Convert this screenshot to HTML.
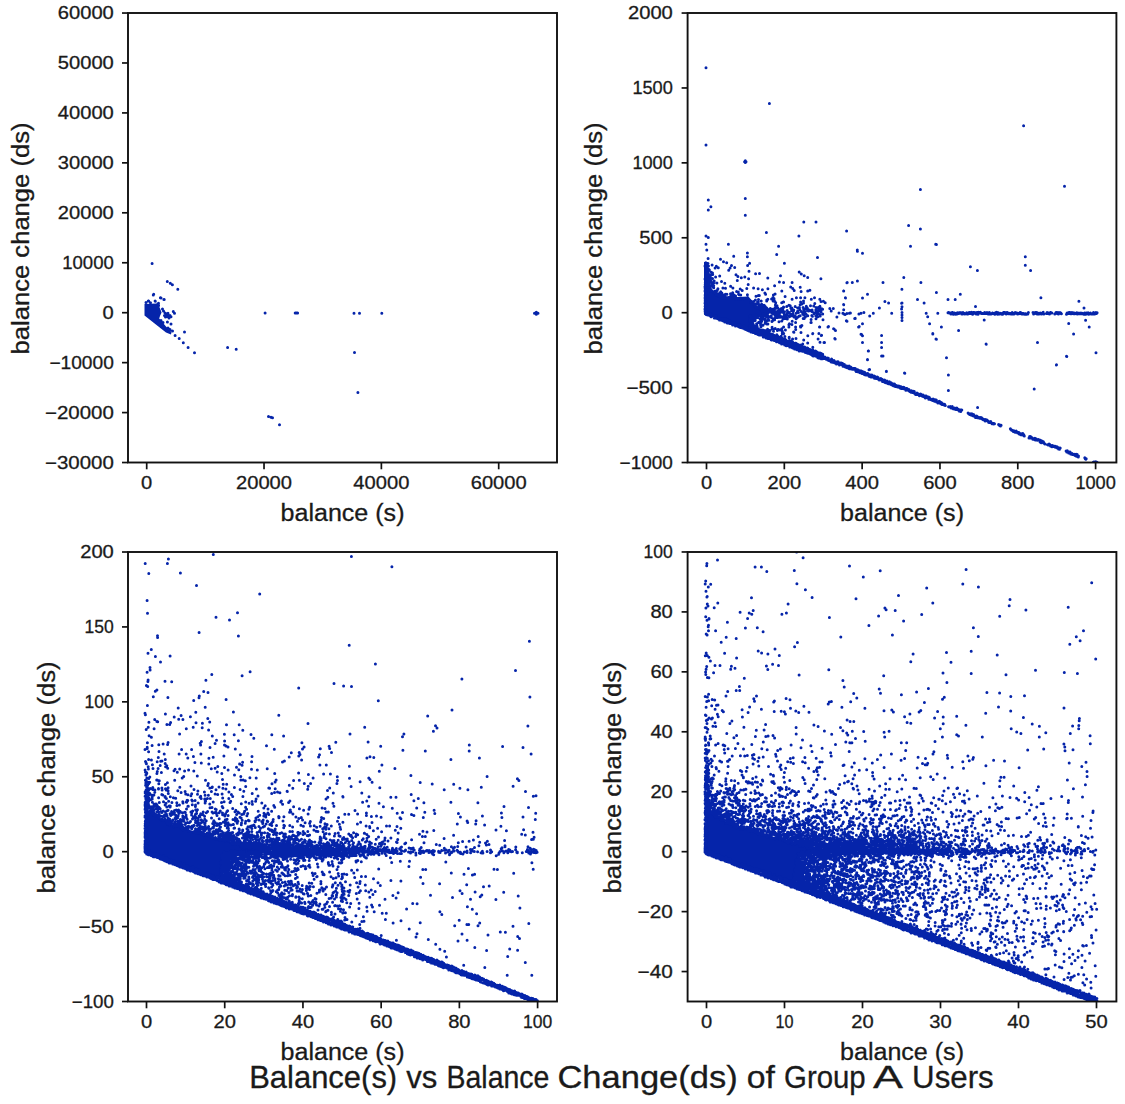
<!DOCTYPE html>
<html><head><meta charset="utf-8"><style>
html,body{margin:0;padding:0;background:#fff;width:1125px;height:1104px;overflow:hidden}
svg{display:block}
text{font-family:"Liberation Sans",sans-serif;fill:#1a1a1a;stroke:#1a1a1a;stroke-width:0.3px}
.tl{font-size:18px}
.al{font-size:23.5px}
.ti{font-size:30.5px}
.tk{stroke:#111;stroke-width:1.7}
.ax{fill:none;stroke:#111;stroke-width:1.9}
.sc{fill:none;stroke:#0524aa;stroke-width:3.0;stroke-linecap:round}
.sp{fill:#0524aa;stroke:none}
</style></head><body>
<svg width="1125" height="1104" viewBox="0 0 1125 1104">
<clipPath id="cTL"><rect x="128.0" y="13.0" width="429.0" height="449.5"/></clipPath>
<g clip-path="url(#cTL)"><path class="sp" d="M144.5 304.0 157.0 303.5 159.0 306.0 161.6 312.5 160.0 316.0 159.2 318.6 166.0 326.5 171.5 332.0 171.0 334.5 166.0 332.5 144.5 315.5Z"/><path class="sc" d="M152.1 263.6h0m15.2 18h0m3 1.7h0m2.1 1.5h0m-19.1 10.2h0m0.4-0.7h0m24.1-5.1h0m-31.8 13.3h0m2.3-1.5h0m0.3-0.1h0m1.9 1.9h0m4.6-1.9h0m0.2 0.4h0m2.7 2.5h0m0.5-0.6h0m1.9-5.4h0m0.6 0.1h0m2.9 1.5h0m0.3 0h0m-5.6 6.2h0m3.9 3.4h0m1 2h0m9.8 0.5h0m-8.8 4h0m0.5-2.5h0m0.5 4h0m0.5-2.5h0m0.9-0.7h0m0.6 2.7h0m0.5-3.3h0m0.6 2.4h0m0.4 2.4h0m1-2.5h0m1 1.3h0m3.5-3.5h0m90.6-0.2h0m30.1 0h0m1.2 0h0m1.2 0h0m56.4 0.2h0m5.5 0h0m22.3 0h0m152.7 0h0m1.8 0h0m0-1h0m0 2h0m1.7-1h0m-377 7.2h0m2 2h0m4.4-0.4h0m3.6 1.8h0m-3 4.1h0m2 1.5h0m2.5 1.5h0m2.6 4.6h0m9.4-3.5h0m-5.3 6.5h0m4.1 4.1h0m4.8 4.7h0m39.5 0.2h0m8.6 1.6h0m-41.7 3.5h0m160-0.1h0m3.4 39.9h0m-89.4 23.9h0m2.5 0.8h0m1.5 0.6h0m7 6.9h0"/></g>
<clipPath id="cTR"><rect x="687.6" y="13.0" width="428.8" height="449.5"/></clipPath>
<g clip-path="url(#cTR)"><path class="sp" d="M704.0 262.0 708.0 262.0 710.0 285.0 713.0 291.0 721.7 295.9 737.7 297.0 748.3 296.5 754.7 303.3 759.0 307.6 766.0 310.0 768.0 312.0 767.0 316.0 752.0 316.0 752.0 331.7 704.0 313.2Z"/><path class="sc" d="M706 67.7h0m63.4 35.9h0m254.2 22.2h0m-317.6 19.1h0m38.6 16.8h0m0.7-0.9h0m0 1.8h0m0.7-0.9h0m174.4 27.9h0m144.1-3.4h0m-356.2 13.7h0m37-1.5h0m-34.4 8.4h0m-2.6 3.1h0m37 5.3h0m58.5 6.9h0m12.2 0h0m30.6 8.8h0m62-5.4h0m11.8 3.5h0m-214.4 6.9h0m2.3 1.5h0m58.1-5h0m32.5 3.5h0m-92.9 8.4h0m22.4 0h0m50.2 1.9h0m131.9 0h0m25.2-1.9h0m0.7 0.3h0m-229.6 5.5h0m40.6 2.9h0m29.3 1.5h0m80.6-4.5h0m0.1 1.3h0m5.1 2h0m-156.7 9.5h0m2.2 0.6h0m0.1-5h0m12.4 0.9h0m3 2.4h0m3.2 1h0m7-6.5h0m13.7 0.5h0m2.2 6.5h0m34.8 0h0m33.1-5.6h0m207.8-0.9h0m-320.3 9.2h0m1.3 5.1h0m0.1-3h0m0.4 3.4h0m0.2-6.7h0m0.8 4.2h0m0.2 0h0m0.5-2.8h0m0 4.9h0m0.5-1.5h0m0.4 0.5h0m2.7-4.9h0m3 3h0m1.2-1.8h0m2 1.4h0m10.4 2.5h0m1.4-2.1h0m1.4-2.7h0m3.2 2.1h0m12.9-2.1h0m1.4 5.8h0m221.4-4.4h0m7 3.6h0m47.9-5.1h0m5.3 5.1h0m-325.6 8.6h0m0.3-0.7h0m0.1-3.3h0m0.2 2.8h0m0.1-1.9h0m0-2.3h0m0.1 3.6h0m0.2-0.9h0m0.1-2.4h0m0.5-1.1h0m0.8 6.2h0m0.1-6.5h0m0 3.1h0m0.7-2.3h0m1.3 4.4h0m0.1 1.5h0m0.2-4.3h0m0.5 2.6h0m0-1.2h0m0.2-0.7h0m0.7-3.3h0m1 2.2h0m0.3-1.6h0m0 5.5h0m0.2-3.8h0m2.9 2.3h0m4.1-1h0m16.3-1.1h0m1.9 1.6h0m3.4 1.3h0m3.5-0.7h0m3.8 1.7h0m7-4.9h0m3.9-0.3h0m8.3 4.4h0m12.7-2.1h0m18.7-3.7h0m2.1 1.8h0m2.9 1.8h0m3.5 1.8h0m13.2 1.2h0m82.9-1.3h0m-198.8 9h0m0.1 0.9h0m0.1-0.8h0m0-2.2h0m0.1-1.7h0m0.2 2.2h0m0-4.6h0m0 2.1h0m0.5 2.9h0m2-0.4h0m0.7-1h0m0 1.7h0m0.2-4.8h0m0.4 2.3h0m0.2-1.1h0m0 2.8h0m0.5 2.5h0m0-1.6h0m1.1-4.6h0m0.4 1.3h0m0.7 0.6h0m0 2.5h0m0.1-2h0m0.5 2.9h0m0-0.7h0m0.1-0.6h0m0.1 2.1h0m0-2.4h0m0.7 3h0m0-2h0m0.3-3h0m0.2-1.7h0m2.7 2.1h0m4.6-1.7h0m3.3 1.9h0m5.8 3h0m6.7-5.8h0m10.9 4h0m5.4 3.4h0m21-2.1h0m4.8-3.7h0m4.2 0.3h0m7.1 4.7h0m1.4-4.7h0m8.1 4.8h0m46.7-4.5h0m0.3-0.2h0m5.1 0h0m5.1-1.6h0m25.6 1.6h0m37.9 0h0m-215.9 8.4h0m0.1-2.8h0m0.1 2.7h0m0-0.8h0m0 5.4h0m0-0.6h0m0.1-6.7h0m0 3.8h0m0.1 1.2h0m0.2-3.3h0m0.1-0.9h0m0.1 3.4h0m0.2-0.2h0m0 1.9h0m4.1-4.2h0m0.4 1.1h0m0.1 0.4h0m1.1-0.6h0m1.9 1.3h0m0.3 0.2h0m0.3-0.6h0m0.6-0.3h0m0.7 2.2h0m0.8 1.7h0m0.2-4.5h0m0.4 2.6h0m0.4-2.9h0m0 4.8h0m0.2-0.2h0m0.4-6.3h0m0.5 6.9h0m0 0.3h0m0.4-2.2h0m0.8 1.3h0m0.1-0.7h0m0.5-1.2h0m0.5-1.3h0m0.2 1.9h0m0.9-0.7h0m1.1-4.9h0m0 6.6h0m1.8 1.1h0m0.7-1.5h0m0.1-6.1h0m1.4 6h0m3.6-0.5h0m1.8 1.9h0m0.4-2.9h0m0.2-4.6h0m1.1 6.9h0m0.1 0.7h0m2.5-4.3h0m1.7 0.5h0m0.2 2.2h0m0.7 0.6h0m1-5.8h0m0.5 6.1h0m1.5-4.5h0m4.6-1.9h0m0.6 6.2h0m10.7-6h0m0.3 6.6h0m0.9 0.1h0m3.1-5.7h0m2.5 3.1h0m0.7 1.4h0m2.3-5.6h0m5.5 6.4h0m1.7-1h0m6.7-3.1h0m11-2.5h0m1.4 2.1h0m6.9 0.8h0m6.6-0.4h0m2.2-0.7h0m33.7 0.7h0m0.1 0h0m23.8 3.3h0m34.4-5h0m34.5 3.2h0m23.9 1.8h0m-255.3 8.9h0m0.1-0.1h0m0-5.8h0m0 1.1h0m0.1 3.7h0m0-1.8h0m0.1-1.1h0m0 2.7h0m0-2.1h0m0 1.7h0m0.1-0.2h0m0.2-3.6h0m0.2 2.9h0m14.4-4h0m0.4-0.2h0m0.3 1h0m1.1-1.4h0m1 2h0m0.1-0.9h0m0.4 0.1h0m0 1.1h0m1.7-0.4h0m0.4-0.3h0m1.4 0.8h0m1.6-0.9h0m2-1.4h0m1.9 2h0m0.6-1.1h0m1.7 0h0m0.8-0.9h0m0.2 3h0m1.7 0h0m1.9-0.6h0m1 0.8h0m3.9-0.6h0m3.4-1h0m0.1 0.8h0m3.1 3.6h0m0.5-0.7h0m2.3 0.2h0m1.7-1.6h0m0.6-3.8h0m0.3 7.5h0m1.4-1.8h0m0.6 0.2h0m0.2-2.6h0m2.7 1.4h0m5.5 0.1h0m0.1-1h0m1-0.7h0m3.8-0.4h0m1.3-1.3h0m0.2 3.4h0m0.1-2h0m0.6 1.3h0m0.2-1.8h0m0 0.9h0m0.9 2.2h0m0.8 1.1h0m6 0.1h0m1.5-0.7h0m0.4-0.1h0m1.5-5.5h0m7 2.7h0m4.3-1.5h0m4.2 0h0m0 4.3h0m1.2 1.9h0m1.7-2.9h0m0 2.1h0m1.4-5.4h0m6.4 1.6h0m3.2-1.6h0m0.3 5.9h0m5-4.4h0m1.2 2.2h0m2.4-0.1h0m1.8 1.4h0m20.2-5h0m0.1 0.3h0m17 0h0m22.4 3.6h0m3.7 1.4h0m13 0.2h0m0.4-0.2h0m15.5-3.6h0m6.6 3.6h0m23.9-3.6h0m7.2 0h0m85.7-1.7h0m38 3.5h0m-373.9 7.8h0m0 0.6h0m0.1-3.3h0m0 2.2h0m0 1.2h0m0 1.6h0m0.2-0.7h0m0 0.3h0m0.1 0.1h0m0.2-3.5h0m0.1-3.4h0m0.2 0.9h0m0.2 5.9h0m48-6.4h0m0.5 1.5h0m1-2h0m0.6 3.5h0m1.5 0.6h0m0.6-3.9h0m0.4 1.6h0m0.2 2.7h0m0.3-3.9h0m0.4 3.1h0m0.5 1h0m0.5-1.2h0m0.2-1.8h0m0.1 3.3h0m0.8-4.8h0m0.2 4.9h0m0.4-2.9h0m0 4.8h0m0.5-3.2h0m1.2-2.5h0m0.1 4.3h0m0.1 1h0m0.2-5.2h0m0.2 5.1h0m0.2-3.7h0m0.2-0.6h0m0.4 2.3h0m0.7-1h0m0.5 4h0m0.3-3.3h0m0.3 2.6h0m0.6 0.2h0m0.7-0.3h0m0.7-1.2h0m0.6-0.6h0m0.5-0.5h0m0.7 0.6h0m0.5 1.4h0m0.4 1.2h0m0.5-2.3h0m0.1 1.4h0m1.1-1.5h0m0.2 2h0m0.7-0.8h0m0.5-2.6h0m0.2-0.3h0m0.2-2.6h0m0.5 3.3h0m0.2-1.4h0m0.8-0.2h0m0.1-0.9h0m0.6 5.2h0m0.1-3.1h0m1 3.4h0m0.3-1.6h0m0.9 1.6h0m1.1-2.4h0m0.1 1.4h0m0.7-1.8h0m0.9 1.2h0m0.8-2.5h0m0.1 4.6h0m0.1-4.4h0m0.8 4.5h0m2.2-5.3h0m0.5 4h0m1.7-5.3h0m1.3 0.6h0m0.6 2.2h0m0.5 0.7h0m0.2 1.7h0m0.4-2.3h0m1.5 3.1h0m0.3-1.2h0m1.5-3.5h0m2.4 4.8h0m0.1-3.4h0m1.4-0.4h0m0.3 0.1h0m0.4 2h0m0.3-4.8h0m1.1 6.6h0m1.9-3.8h0m0.6 1.6h0m0.2 1h0m1.3 1.5h0m0.2-3h0m0.9-2.4h0m0.9 1.4h0m0.4 2.5h0m0.8 0.8h0m0.2-1.3h0m0.8 1.1h0m1.1-0.4h0m0-4.6h0m1.4 5.6h0m0.2-1.3h0m0.3 1.7h0m1.3-5.9h0m2.1 4.2h0m0.2-2.7h0m1.1 3.4h0m0.6 0.5h0m0.4-3.8h0m0.5 1h0m1.1 2.2h0m0.2-4.5h0m0.2 2.9h0m0-1.7h0m0.9 4.3h0m1-2.6h0m0.6 0.2h0m7.2-0.9h0m1.4 2.5h0m2.1-2.5h0m10.3-3.9h0m0.1 0.3h0m0 5h0m35.7-1.7h0m22.2 0.9h0m0.4-2.3h0m73.5-0.3h0m108.5 1.7h0m-378.7 4.7h0m0 1h0m0.1-0.1h0m0.1-0.8h0m0.2-0.4h0m0.3 1.3h0m0.2 0.6h0m0.8 0.3h0m0.3-0.8h0m0.1 0.3h0m0-1.7h0m0.5 2.4h0m0.5 0h0m1.4 0.5h0m0.2-0.7h0m0.1 0.4h0m0 0.7h0m0.2-1.9h0m0.1 1.7h0m0.6 1.2h0m0.4-0.1h0m0-2.2h0m0.2 0.5h0m0.9 0.1h0m1.6 0.8h0m0.2 2h0m1.6-2.4h0m0.2 2.5h0m0.3 0.2h0m0-1.8h0m1.4 1.9h0m0.2 0.5h0m0.3 0h0m0.1 0h0m0.3-0.4h0m0.2 0.4h0m0.2 0.7h0m0.3 0.4h0m0.9-0.4h0m0.6-1h0m0.2 1.4h0m0.4-1.1h0m0.5-0.1h0m1.7 0.1h0m0.3-0.3h0m0.3 0.9h0m0.6 0.1h0m0.7-0.5h0m1.7 0.9h0m22.5-3.7h0m0.3 3.1h0m0.5-3.3h0m0.5 3.5h0m0.4-2.1h0m0.4 1h0m0.1 1.5h0m0.7-0.4h0m0-2.3h0m0.2-1h0m0.3 0.1h0m1-0.5h0m0.5 3.6h0m0.4-2.1h0m0.8 0.6h0m0.1-1.1h0m0.2-1.8h0m0.2 2.4h0m0.9-0.4h0m0.3-0.5h0m0.7 1.3h0m0.1-2h0m2 3.6h0m0.2-3.8h0m0.5 2.3h0m0.1 0h0m0.2-2.1h0m0.4 3.1h0m1.2-5.2h0m0.5 2.8h0m0 2.4h0m1.1-4.2h0m0.2 5h0m0.5-0.6h0m0.3-6.1h0m0.2 3.5h0m0.4-3.8h0m0.2 3.3h0m0.2 0.8h0m1-2.7h0m0.2-1h0m0.3-0.4h0m0.2 6.8h0m0.1-1.7h0m0.5-1.2h0m1.8-4.3h0m0.6 3.4h0m0.1 1.8h0m0.9-4.4h0m1 6h0m0.1-5.6h0m0.4-0.8h0m0.4 5.7h0m0.1-5.4h0m0-0.6h0m0.3 7.3h0m0-7h0m0.1 1.7h0m0.2 0.9h0m0.6 2.2h0m0-3.6h0m0.8 3.5h0m0.5-1.4h0m0.1-3.9h0m0.2 3.2h0m0.2-1.4h0m0.4 3.7h0m0.6-5.1h0m0.1 1.6h0m0.4 3.1h0m0.5-3h0m0.3-1.1h0m0.6 4.1h0m0.1-1.2h0m0.5-3.9h0m1 4.8h0m0.7-4.6h0m0.5 4.4h0m0 2.2h0m1.2-5.3h0m0-1.1h0m0.2 2.1h0m0.9 3.8h0m0.1-1.4h0m0.2-2.5h0m1 3.1h0m0.3-2.6h0m0.4 3.9h0m0-5.2h0m0 1.2h0m0.2-2.7h0m0.6 0.2h0m1.2 0.1h0m0.1 4.2h0m0.4-1.2h0m0.8-1.5h0m0.2 1.2h0m0.8 0.5h0m0.2-1.5h0m0.8-0.1h0m0.3-0.5h0m0.3 2.2h0m0.6-0.3h0m0.2 1.4h0m1.2-0.9h0m0.9 2.8h0m0.1-5.6h0m1.1 4.4h0m1.1-5h0m0.2 3.8h0m0.5-0.3h0m1.1-0.4h0m2.5-2h0m0.1-1h0m0.4 5.9h0m0.4-3.7h0m0.6 3.5h0m0.1-5.9h0m0.1-0.5h0m0.9 5.1h0m0.8-2.8h0m1.7 1.5h0m3.3 3.8h0m0.7-4h0m0.6 0.6h0m1.7-2.8h0m1.5-1.1h0m0.2 3.5h0m0.2 2.9h0m0.2-6.1h0m0.9 1.9h0m0.6 2.3h0m0.8-3h0m1.4 0.6h0m0.1 1.5h0m0.2 0h0m2.5-1.8h0m0.3 5.7h0m13.9-2.9h0m2.1-3.9h0m3.9 0.2h0m1.1 0.9h0m1.1 0.5h0m1.8-1.2h0m2.5-0.2h0m1-0.2h0m4.3 5.4h0m0.5-0.1h0m0 0.1h0m3.7-4.3h0m2.1-0.9h0m2.9-0.7h0m5.8 3.6h0m3.6-2.9h0m18.4 0h0m10.3-0.7h0m0 2.5h0m0 2.5h0m24.2-4.3h0m1.5 3.6h0m10.1-3.6h0m10.2-0.4h0m0.6-0.2h0m0.6 0.5h0m0.6-0.1h0m0.6 0h0m0.6 1h0m0.6-1.1h0m0.6-0.3h0m0.6 0.1h0m0.6 1.5h0m0.6-1h0m0.6-0.2h0m0.6 0.9h0m0.6 0.3h0m0.6-0.9h0m0.6 0.6h0m0.6-1.1h0m0.6 0.2h0m0.6 0.5h0m0.6-0.7h0m0.6 0.1h0m0.6-0.2h0m0.6 0.1h0m0.6 1.2h0m0.6-0.1h0m0.6-1.4h0m0.6 0.5h0m0.6 0.7h0m0.6 0.3h0m0.6-0.6h0m0.6 0.4h0m0.6-1h0m0.6 1.1h0m0.6 0h0m0.6-0.8h0m0.6-0.3h0m0.6-0.4h0m0.6 1.2h0m0.6 0h0m0.6-1.3h0m0.6 1h0m0.6 0.9h0m0.6-1.8h0m0.6 0.2h0m0.6-0.2h0m0.6 0.8h0m0.6-0.1h0m0.6 0.9h0m0.6-1.6h0m0.6 0.3h0m0.6 1.5h0m0.6-1.9h0m0.6 0.5h0m0.6 0.3h0m0.6-0.8h0m0.6 0.6h0m0.6 0.6h0m0.6 0h0m0.6 0h0m0.6 0.1h0m0.6-0.1h0m0.6-1.1h0m0.6 1.2h0m0.6-0.1h0m0.6-0.8h0m0.6 0.4h0m0.6-0.3h0m0.6 1.2h0m0.6-1.1h0m0.6-0.3h0m0.6 1.3h0m0.6-0.1h0m0.6 0.2h0m0.6-0.3h0m0.6-0.6h0m0.6 0.2h0m0.6 0.1h0m0.6 0.1h0m0.6 0.7h0m0.6-1.4h0m0.6 1h0m0.6-1.5h0m0.6 0.4h0m0.6 1.5h0m0.6-1.4h0m0.6 0.5h0m0.6 0.8h0m0.6-0.5h0m0.6-0.3h0m0.6 0.4h0m0.6 0.6h0m0.6-0.1h0m0.6-1.5h0m0.6-0.1h0m0.6 0.3h0m0.6-0.3h0m0.6 1.2h0m0.6 0.2h0m0.6-1.4h0m0.6-0.2h0m0.6 0.5h0m0.6 0.8h0m0.6 0.1h0m0.6-0.6h0m0.6 0.4h0m0.6 0.5h0m0.6 0h0m0.6-1.6h0m0.6 1.2h0m0.6 0.2h0m0.6 0.2h0m0.6-1h0m0.6-0.5h0m0.6 0.6h0m0.6-0.2h0m0.6 0.1h0m0.6 0.8h0m0.6-0.3h0m0.6 0.1h0m0.6-0.1h0m0.6-1h0m0.6-0.2h0m0.6 0.7h0m0.6 0.9h0m0.6-0.4h0m0.6 0.3h0m0.6-0.4h0m0.6 0.4h0m0.6 0.4h0m0.6-0.6h0m0.6 0.3h0m0.6 0.2h0m0.6-0.4h0m0.6 0.1h0m0.6-1.4h0m4.6-0.1h0m0.6 1.7h0m0.6-1.3h0m0.6 0.1h0m0.6-0.3h0m0.6 1h0m0.6-1.2h0m0.6 1.5h0m0.6-1h0m0.6 0.9h0m0.6 0.3h0m0.6-0.4h0m0.6-0.6h0m0.6 0.4h0m0.6 0.5h0m0.6-0.3h0m0.6-0.9h0m0.6-0.5h0m0.6 1.8h0m2.7-0.6h0m0.6-1.1h0m0.6 1h0m0.6 0.1h0m0.6-0.6h0m0.6 1.2h0m0.6-1.3h0m0.6-0.2h0m0.6 0.3h0m0.6 0.1h0m2.9 1.1h0m0.6-0.5h0m0.6-1.1h0m0.6 0.6h0m0.6-0.6h0m0.6 1.2h0m0.6 0.3h0m0.6-1.5h0m0.6 0.8h0m0.6-0.5h0m0.6 0.1h0m0.6 0.9h0m5.1 0.5h0m0.6-1.4h0m0.6 0.5h0m0.6-0.5h0m0.6-0.5h0m0.6 1.1h0m0.6-0.9h0m0.6 1.1h0m0.6 0.1h0m0.6-1.2h0m0.6 0.9h0m0.6-0.8h0m0.6 1.1h0m0.6-0.9h0m0.6 0.8h0m0.6-0.1h0m0.6-0.1h0m0.6-0.8h0m0.6 1.3h0m0.6-1h0m0.6 0.8h0m0.6-0.6h0m0.6 0h0m0.6 0.5h0m0.6-0.7h0m0.6 0.8h0m0.6-0.6h0m0.6 0.6h0m0.6-0.1h0m0.6 0.5h0m0.6-1.1h0m0.6-0.1h0m0.6 1.3h0m0.6-1h0m0.6-0.2h0m0.6 0.6h0m0.6-0.9h0m0.6 1.4h0m0.6-0.4h0m0.6-0.2h0m0.6-0.7h0m0.6 1h0m0.6 0.2h0m0.6-0.2h0m0.6 0.2h0m0.6-1.6h0m0.6 1.3h0m0.6 0.2h0m0.6-0.7h0m0.6-0.8h0m0.6 0.9h0m0.6-0.6h0m-375 7.4h0m0.5 0.6h0m0.4-0.2h0m0.8-0.3h0m0.6 1.3h0m0.4-1.5h0m0 1.8h0m1.2-0.2h0m0.1-1.2h0m0.4-0.3h0m0 1.5h0m0.2-0.8h0m0.6 2.1h0m0.4-1.2h0m0.3 1.1h0m0.4-1.3h0m0.5 1.3h0m0.3 0.3h0m0.6 0.2h0m0.1-2.2h0m0.4 2.4h0m0.9-0.9h0m0.1 0.4h0m0.6 0.5h0m0.2-1.2h0m0.1 0.9h0m0.1 0.4h0m0.3 1.2h0m1.1-0.2h0m0.8-2.2h0m0.6 3.1h0m0.1-2.5h0m0 1.7h0m0.2 1.1h0m0.4-1.5h0m0.9 1.2h0m0.2-0.7h0m0.6-0.2h0m0.2 1.3h0m0.7-1.5h0m0 2.1h0m0.4 0.1h0m0.1-0.3h0m0.3 0.6h0m0.1-2.3h0m0.6 0.7h0m0.5 2h0m0.7-0.1h0m0 0.2h0m0.2 0.1h0m0.5 0.1h0m0.4 0.1h0m0.1-0.9h0m1.6-0.6h0m0.2 1.6h0m1-1.3h0m1.5 1h0m0.8 0.1h0m2.6-6.2h0m0.1 3.9h0m0.3-3.8h0m0 1h0m0.2 1.7h0m0.4 0.5h0m0.6-2.1h0m0.3 3.4h0m0.1 0.8h0m0.3-0.6h0m0.1-0.1h0m0.1-3.5h0m0.1 4.3h0m0-5.1h0m0.2 4.6h0m0.2 1.3h0m0.3-3.3h0m0.1-3.6h0m0.8 6.7h0m1-7h0m0.2 5.5h0m0.6-0.1h0m0.6-2.3h0m0.2 0.4h0m0.3 2.2h0m1.4-3.7h0m0.4-0.3h0m1.7 2.4h0m0-3.2h0m0.2-0.4h0m0.1 5.9h0m0.3-4.6h0m0.4-1.2h0m1.4 4.1h0m2.1-2.1h0m0.2-1.6h0m0.3 0.5h0m1-1.2h0m0.2 3h0m1.1 0.2h0m1-3.9h0m3.1 1.2h0m0.1 5.8h0m0.4-6.5h0m6.5 1h0m2.8-0.8h0m1.8 6h0m5.3 0h0m0-2.1h0m0.5-1.1h0m2.5 0.8h0m0.3-3.2h0m3.4 1.3h0m0 4.3h0m4.9-0.7h0m0.1 0.7h0m0.2 0h0m1.1-1.5h0m9-2.8h0m0.3-0.2h0m8.3 4.5h0m0.2 0h0m8.3 0h0m0.5-0.5h0m17.9-5.6h0m0.6 0.4h0m11.6 5.7h0m0.2 0.1h0m0.4-0.6h0m3.3-2.6h0m39.5-3.4h0m27.6 3.4h0m11.8 3.2h0m42.8-7h0m84.5 3.6h0m16.9-3.3h0m3.6 6.8h0m-346.4 1h0m0.5 0.2h0m1.5 0.3h0m0 0.4h0m0.5 0.2h0m0.1-0.4h0m0.5 0.7h0m0.7-0.7h0m0.1 1h0m0.1 0.1h0m0.8-0.6h0m0.5 1.1h0m0.1-1.2h0m0.5 0.4h0m0.3 0.6h0m0.2-0.8h0m0 0.6h0m0 0.9h0m0.2-0.2h0m0.5-0.1h0m1.1 1.3h0m0.1-1.2h0m0.5 0.8h0m0.3-2.5h0m0 1.8h0m0.8 0.3h0m0.3 0.4h0m0.1-3h0m0 4.1h0m0.9-1.3h0m0.7 0.8h0m0.1-2.8h0m0.1-0.5h0m0.4 0.8h0m0 2.5h0m0.1 1.4h0m0.3-1.4h0m0.4-2.5h0m0.2-1.6h0m0.1 2.2h0m0.1-1.6h0m0-0.3h0m0 4.8h0m0 0.7h0m0.1-0.6h0m0-2.8h0m0.1 1.2h0m0.1 1.5h0m0-3.2h0m0.3-1.8h0m0 1.8h0m0.5-1.7h0m0.1 4.8h0m0.2-0.2h0m0.1 1.6h0m0.3-1.8h0m0.2-2.7h0m0-0.9h0m0.1 5.8h0m0-5.6h0m0.2 0.7h0m0 3.3h0m0.3 1.8h0m0.5-0.3h0m0.7 0.2h0m0.1-0.4h0m0-4.2h0m0.1 0.5h0m0.6 1.6h0m0-2.2h0m0.1 4.2h0m0 0.3h0m0.1-1.1h0m0.2 1.3h0m0.1-4.2h0m0.2 0.9h0m0.3 1.2h0m0.4-2.5h0m0.4-0.3h0m0.2 1.9h0m0.1 3.8h0m0-0.5h0m0.4 0.5h0m0.2-3.9h0m0.1 1.2h0m0.4 2h0m0.4-0.7h0m0.1-2.2h0m0-0.9h0m0.1-0.6h0m0.1 5.1h0m0.6-3.6h0m0.5 1h0m0 2.1h0m1-4.9h0m0.5-1h0m0.1 5.1h0m0-1.7h0m0.5 0.9h0m0.1-2.2h0m0.5-1.1h0m0.5 2.4h0m0.1 3.2h0m0.2-2.3h0m0.3 0.8h0m0 0.6h0m0.2-4.4h0m1.1 3.6h0m0 0.3h0m0.4-0.2h0m0.3 0.2h0m0.3-5.8h0m0.4 6.6h0m0.2 0h0m0.1-0.8h0m0.6-3.2h0m0.2-1.7h0m0.7 5.9h0m0.8-7h0m1.7 6.2h0m0.5-4.1h0m0.5-1.1h0m0.4 0h0m1.8 0.5h0m0.4 0h0m1.3-1.3h0m0.5 5.1h0m0-0.8h0m0.1-1.8h0m1.2 2.5h0m0.1-0.1h0m1.7-3.7h0m8.2 2.1h0m0.3 0.2h0m1.8-2.6h0m5.3 2.9h0m6.8 3.2h0m4.9-2h0m0.1-0.1h0m6.1-0.1h0m2.4 1.9h0m0.3-0.2h0m12-6.4h0m0.5 0.2h0m1.4 1.5h0m25.5 3.7h0m0.6 0.2h0m0.9 1.3h0m19.1-0.3h0m51.2-1.5h0m0-0.3h0m25.8-3h0m115 3.4h0m-310.3 2.9h0m0.7-0.6h0m0.1 0.2h0m0.6 0.4h0m1.5 1h0m0.2 0h0m0.5-0.9h0m0.7-0.3h0m0.1 1.1h0m0.3 0.6h0m0.5 0.1h0m0.5-0.2h0m0.2-0.7h0m0.2 0.3h0m1.7 1.9h0m0.4-1h0m0 1.1h0m0.4 0h0m0-3.1h0m0 2.9h0m1-2.6h0m0.1 2.7h0m0.5-1.1h0m0.2 1.1h0m0.1-2.2h0m0.5 3h0m0.1-0.9h0m1.3-1.1h0m0 1.3h0m0.1-0.5h0m0-1.4h0m0.1 2.4h0m0-3.3h0m0.2 2.4h0m0.1 1.8h0m0-4.7h0m0.3 5.2h0m0-0.5h0m0.4-1.2h0m0 1.7h0m0.2-4.9h0m0-0.6h0m0.4-0.2h0m0.4 0.1h0m0.1 4.8h0m0-1.8h0m0.3 0h0m0.2-1.5h0m0 3.2h0m0-1.9h0m0.1-1.9h0m0.2 4h0m0.3-3.5h0m0.4 5.1h0m0.2-5.3h0m0.6 2.8h0m0.1-0.1h0m0.7-3.8h0m0.2 1.7h0m0.1 4.1h0m0.2 1.9h0m0.2-0.7h0m0-3h0m0.1-2.3h0m0 3.9h0m0.3-3.2h0m0.2 1h0m0.5 3.1h0m0-3.9h0m0.4 4.2h0m0.2-3.9h0m0.4 4.7h0m0.5-4.1h0m0.2 1.4h0m0-1.3h0m0.1 3.1h0m0.1 0.8h0m0.1-1.4h0m0-5.8h0m0.1 3.2h0m0-0.8h0m1.2 4.9h0m0-3.5h0m0-0.2h0m0.1 2.8h0m0.9-1.5h0m0.7 0.9h0m0.1 1.4h0m0-1.7h0m1-1.1h0m0.2-3.7h0m0 0.6h0m0.1 3.1h0m0 1.8h0m0.1 0.7h0m0.3 0.2h0m0.1-0.8h0m0.5-0.1h0m0.4-1.8h0m0.1 0.4h0m0.5 1.2h0m0.5-0.4h0m0.1-0.1h0m0.7-0.1h0m0-3.1h0m0.3 4.1h0m0.4 0h0m1 0.7h0m0.6-0.5h0m0.4 0.7h0m0.2-0.6h0m0 0.2h0m0.5-0.3h0m0-4.8h0m7.7 1.7h0m4 2.8h0m10.4-3.8h0m1.9 3.2h0m4 0.1h0m0.5 0h0m10.3-3.8h0m0.4 0.3h0m27.3 3.7h0m19.1 0h0m54.4-3.7h0m0.4 0.4h0m101.1 3.1h0m-252.8 2.5h0m0.3 0.1h0m1.3 0.7h0m0.3-0.4h0m0.6 0.3h0m1.4 0.1h0m0.5 0.3h0m0.3 0.5h0m0.2 0.4h0m0.4-0.3h0m0-0.6h0m0.5 0.7h0m0.6 0h0m0.1 0.3h0m0.1-0.8h0m0-2.1h0m0.1 1.1h0m1 2.5h0m0.2 0.2h0m0.1 0h0m0.1-3.1h0m0.1 0.7h0m0.5 1.8h0m1.2 1.6h0m0.2-0.4h0m0.1-1.3h0m0.1 1.5h0m0-2.5h0m0.8 2.7h0m0.1-2.8h0m0 1.3h0m0.1 1.3h0m0.4-0.6h0m0.1-0.5h0m0.5 2.2h0m0.3-1.6h0m0.3-4h0m0 2.4h0m0.3-2h0m0.1 2h0m0.2 3h0m0.1-3.3h0m0.2 2.8h0m0 0.9h0m0.5-4.3h0m0.2 5.2h0m0.1-3.5h0m0.1 3.3h0m0.2 0.1h0m0.4-1.3h0m0-3.5h0m0.1-0.9h0m0.5 0.1h0m0.7 1h0m0.1 2.5h0m0.4 1.1h0m0.1 1.2h0m0.1-1.4h0m0.2-2.9h0m0-0.4h0m0.1 0.8h0m0.1-0.5h0m0-0.2h0m0.1 4.9h0m0.2-7.2h0m0.3 5.8h0m0-2.7h0m0.4 0.2h0m0.2 3.8h0m0.2-0.2h0m0.4-3.4h0m0.3 1.2h0m0-1.4h0m0.1-0.3h0m0.7 2.8h0m0.1 1.2h0m0.7-3h0m0.1 0.3h0m1-0.3h0m0.7 0.1h0m0 2.3h0m0.7 0.1h0m0.4 1.4h0m0.1-2.4h0m0.3 2.1h0m0.3-2.3h0m0.2 1h0m0.7-0.6h0m0.8 2h0m0.5-1.1h0m0.9 1.1h0m0-4.6h0m0.1 2.8h0m0.6 1.4h0m2-0.4h0m0.4 0.3h0m52.4-0.4h0m0.2 0h0m13.1-3.4h0m104.5-3.4h0m0.1 0.1h0m-181.1 8h0m0.3 0.1h0m0.4 0.3h0m1.5 0.5h0m0.4-0.4h0m0.2 0.5h0m0.5-1.2h0m0.5 0.4h0m0.9 1.3h0m0.5 0.4h0m0.3 0.2h0m1.1-0.8h0m0.1 1.3h0m0.4 0h0m0.3 0.8h0m0.1-0.4h0m0.3-2.5h0m0.4 3.2h0m0.8-0.4h0m0.3-0.3h0m0.2-1.6h0m0.1-1.5h0m0.3 3.2h0m0.4 0.5h0m0-0.8h0m0.3 1h0m0.3-3.4h0m0 2.9h0m0 0.8h0m0.1-3h0m0.4 1.2h0m0.2 0.3h0m0.3 1.7h0m0.1-4.4h0m0 1.6h0m0.1 3.2h0m0.5-4.5h0m0.3 4.6h0m0.1 0.8h0m0.1-1.5h0m0.3 1.6h0m0.1-4.9h0m0 4.4h0m0.1 0.2h0m0.3-0.4h0m0.1-2.9h0m0 3.5h0m0.4-4.7h0m0.3 3.4h0m0.3-2.7h0m0.1-0.5h0m0.1 1.5h0m0 3.3h0m0.4 0.5h0m0.1-5.4h0m0.2 5.2h0m0 0.3h0m0.1-2.2h0m0-0.3h0m0.1 0.5h0m0.4 0.5h0m0.3-3.2h0m0.1 4.8h0m0-1.9h0m0.2 1.9h0m0.3-0.1h0m0.1-0.3h0m0.1-4.2h0m0.1 1.7h0m0.4 2.5h0m0.7-1.3h0m0.2 0.5h0m0.5 0.9h0m0.2-1.4h0m0.6 1h0m0.4 0h0m0.5 1.2h0m0.3-0.7h0m0.3-0.1h0m0.4-0.5h0m0.8 1.9h0m0.3-1.7h0m2.7 1.5h0m0.5-0.6h0m35.9 0.5h0m0 0.1h0m14.1-3.7h0m1.4-0.1h0m63.5 1.8h0m120-1.4h0m0.3 0.1h0m29.2-3.6h0m-268.1 7.3h0m1 0.5h0m0.5-0.1h0m0.5 0.2h0m0.1 0.2h0m0.5-0.7h0m0.8 1.7h0m0.8-1.7h0m0.3 2.1h0m0.7-1.5h0m0.2 1h0m0.3 0.5h0m0.4-1.8h0m0.5 2.3h0m0.5-0.1h0m0.2-1h0m0.7 1.8h0m0.3-0.3h0m0.2 0.7h0m0.5-1.9h0m0.4-0.3h0m0.4 1.8h0m0.4-1.8h0m0.6 2h0m0.2 0.2h0m0.5 1h0m0.2-0.9h0m0.5-1.1h0m0.5 1h0m0.4-0.3h0m0.4-0.5h0m0.2 1h0m0.4 0.7h0m0.6-1.2h0m0.4 2.7h0m0.3-0.2h0m0.6 0.2h0m0.2-0.5h0m0.3-1.3h0m0.6 2.2h0m0.3 0.4h0m0.5-0.3h0m0.2 0.5h0m0.6-1.4h0m0.3 0.2h0m0.4 1.6h0m0.4-0.6h0m0.7-0.2h0m0.7-0.8h0m0.7 1h0m0.2 0.7h0m0.4-0.8h0m0.6 0.2h0m205.4-2.2h0m0.1-0.2h0m-208.2 3.3h0m1.1 0.6h0m2 0.2h0m0.4 0.2h0m0.2-0.3h0m0.5 0.5h0m0.5-0.8h0m0.3 0.1h0m0.4-0.1h0m0.4-0.1h0m0.4 0.9h0m0.5 0.2h0m0.3-1.1h0m0.3 2h0m0.6 1h0m0.2-2h0m0.6 0.6h0m0.5-0.2h0m0.2 0.5h0m0.4-0.2h0m0.4 1.9h0m0.6-1.4h0m0.3 0.5h0m0.4 0.5h0m0.4 1.2h0m0.4-1.9h0m0.4 0.2h0m0.3-0.1h0m0.3 0.2h0m0.5 2.3h0m0.5-0.8h0m0.3-1h0m0.3 0.8h0m0.5 0.4h0m0.4 1.3h0m0.5-1.9h0m0.3 2.5h0m0.3-1.1h0m0.7 1.3h0m0.4-1.2h0m0.1 0.5h0m0.5-0.6h0m0.5 1.3h0m0.3-1.4h0m0.5 1.3h0m0.3-0.7h0m0.5-4.5h0m0.2 5.9h0m0.4-6h0m0.9 5.4h0m1.4 0h0m0.2 0.2h0m2.1 0.7h0m12.2-4.3h0m0-0.4h0m18.1 1.8h0m0.3 0.3h0m43.6 1.8h0m-79.3 1.1h0m0.7 0.3h0m0.2-0.2h0m1 0.8h0m0.2-1h0m1.5 0.6h0m0.3 0.2h0m0.2-0.4h0m0.4-0.1h0m0.9 1.8h0m0.6-1.8h0m0.4 0.9h0m0.3 0.7h0m0.3 0.4h0m0.5 0h0m0.4-0.3h0m0.3-1.1h0m0.3 1.5h0m0.4-1.1h0m0.5 1.8h0m0.4-0.5h0m0.4 1.4h0m0.3-0.6h0m0.6-0.2h0m0.5-0.9h0m0.4 0.5h0m0.2 0.9h0m0.4 0.5h0m0.3-1h0m0.5 2.3h0m0.4-1.7h0m0.4 1.1h0m0.5 0.7h0m0.2-1h0m0.6-0.6h0m0.3 0.4h0m0.3 2.1h0m0.6-0.3h0m0.2 0.4h0m0.5-0.4h0m0.5-1.3h0m0.3 2h0m0.5 0.6h0m0.3-0.6h0m0.4 0.8h0m0.5-1.3h0m0.4-0.8h0m0.3 1h0m0.4 1.3h0m0.6-1.2h0m0.4-0.1h0m1 0.8h0m-0.6 1.2h0m1-0.6h0m0.5 1.4h0m0.4 0.2h0m0.3-1.6h0m0.5 0.9h0m0.3-0.9h0m0.4 2.2h0m0.4 0.2h0m0.5-0.1h0m0.5-0.1h0m0.2-0.8h0m0.4 0.7h0m0.3 0.1h0m0.4 0.6h0m0.7 0h0m0.2-0.9h0m0.6 1.2h0m0.2-0.9h0m0.5 0.4h0m0.3 1.2h0m0.5-1.1h0m0.5-0.1h0m0.2 1.8h0m0.6-1.3h0m0.3 0.2h0m0.3 1.1h0m0.5-0.2h0m0.4-1h0m0.5 1.5h0m0.2-1.2h0m0.4 0.5h0m0.3 1h0m0.6-0.7h0m0.5 1.8h0m0.3-1.1h0m0.2-0.3h0m0.6-0.2h0m0.3 1.3h0m0.4-0.2h0m0.5 0.5h0m0.3 0.2h0m0.4-0.8h0m0.4 1.2h0m0.4 0.7h0m0.6 0h0m0.4-0.6h0m0.8-0.1h0m0.3 0.3h0m0.4 0.8h0m0.6-0.2h0m0.5-0.5h0m0.4 0.4h0m0.6 0h0m34.1-1.2h0m85.8-1.4h0m-123.1 3.2h0m1.5 0.4h0m2.1 1h0m0.6 0.4h0m0.3 0.4h0m0.7-0.7h0m0.3-0.1h0m0.4-0.7h0m0.3 0.8h0m0.3 0.8h0m0.5 0.1h0m0.4-0.5h0m0.4 0.7h0m0.5 1h0m0.9-1.2h0m0.3-0.7h0m0.3 0.3h0m0.4 1.1h0m0.5-0.5h0m0.3 0.9h0m0.3 0.6h0m0.7-1.3h0m0.3 0.4h0m0.5 1.3h0m0.4-0.1h0m0.1-0.1h0m0.6-0.2h0m0.4 1.7h0m0.4-2h0m0.4 0.1h0m0.4 0.5h0m0.2 0h0m0.5 0.2h0m0.4 0.7h0m0.6 0h0m0.3-0.5h0m0.2 2.3h0m0.6-1.9h0m0.4 1.7h0m0.2-0.1h0m0.6 0.1h0m0.6 0.6h0m0.6 0.2h0m0.2 0.1h0m1.1-0.9h0m0.5 0.4h0m0.4 0h0m1.2 0.2h0m-2.4 0.9h0m1.8 0.7h0m1.2-0.9h0m0.5-0.3h0m0.4 2h0m0.6-0.3h0m0.3-0.1h0m0.4 1.3h0m0.6-1.1h0m0.6-0.6h0m0.5 0.3h0m0.5 0.6h0m0.5 1.6h0m0.3-1.3h0m0.6 0.2h0m0.5 1.9h0m0.6-0.8h0m0.3 0.6h0m0.6 0h0m0.6 0.6h0m0.4-0.8h0m0.7 1.3h0m3.3 1.2h0m0.6 0.3h0m0.4 0h0m0.6-0.4h0m0.6 0.5h0m0.4 0.8h0m0.5 0h0m0.5-1.3h0m2.5 1.3h0m22.9-0.3h0m-24.8 0.6h0m0.3 0.5h0m0.6-0.4h0m0.6 0.8h0m1-0.6h0m0.6 1.1h0m0.3-0.8h0m0.6-0.8h0m0.6 1.1h0m0.4 0h0m0.3 0.4h0m0.6 0.7h0m0.4 0.9h0m0.8-1.3h0m0.4 1.1h0m0.4 0.5h0m0.6-1.3h0m0.5 0h0m6.3 3h0m0.4 0.5h0m0.5 0.2h0m0.7 0.6h0m0.4-0.6h0m0.5 0.9h0m0.4 0.4h0m0.8-1.3h0m0.3 0.4h0m0.7 1.6h0m0.3-0.8h0m0.5-0.4h0m0.5 0.7h0m0.6 1.3h0m0.6 0h0m0.2 0.8h0m0.6-1.1h0m0.5-0.3h0m0.5 0.2h0m0.4 1.5h0m0.5-0.2h0m0.6 0.3h0m0.7-0.2h0m0.4 0.6h0m0.5-0.1h0m0.5-0.7h0m0.5 1.2h0m0.4-0.8h0m0.6 0.4h0m0.4 1h0m0.7 0.6h0m0.4-0.4h0m0.4 0.5h0m0.4-0.4h0m0.7 1.6h0m0.4-1.5h0m0.5 0.7h0m0.6 0.2h0m0.3-0.6h0m0.7 1h0m0.4 0.1h0m0.5 1.2h0m0.4 0.4h0m0.6-0.3h0m0.6-0.5h0m0.5-0.3h0m0.3 1.1h0m0.5 0.1h0m0.5 1h0m0.5-0.5h0m0.7 0.4h0m0.5 0.3h0m0.4-0.3h0m0.4 0.2h0m4.1 0.7h0m0.3 0.2h0m0.7 0.7h0m0.3-0.5h0m0.6 1h0m0.6-0.6h0m9.3 3.4h0m0.4 0.9h0m0.6 0.5h0m0.5 0.1h0m0.4 0h0m0.4 0.6h0m0.6 0.7h0m0.6-0.8h0m0.3 1h0m0.5-0.4h0m1.1 0.7h0m0.4-0.9h0m-1 1.2h0m1.6-0.3h0m0.5 0.2h0m0.5 0.8h0m0.5-0.4h0m0.6 0h0m0.4 1.5h0m0.5-0.3h0m0.6 0h0m0.4 0.9h0m0.6 0.1h0m0.5-1h0m0.5 1.3h0m0.4-1.5h0m0.4 0.8h0m0.6 0.3h0m0.5 1.3h0m4.7 2h0m0.6-1.6h0m0.3 0.8h0m0.6-0.8h0m0.3 1.7h0m0.6-0.9h0m0.6 1h0m0.3-0.3h0m0.6 1.4h0m0.6-0.5h0m0.4 0.5h0m0.6 0.3h0m0.4-1.4h0m0.5 1.8h0m0.6-1.3h0m0.6 0.7h0m0.5 0h0m0.7 0.5h0m0.7-0.4h0m0.4 0.4h0m0.5 0.1h0m-1.9 0.3h0m2.6 1.8h0m0.3-1.9h0m0.7 1h0m0.2 1.6h0m0.6-1.9h0m0.6 1.4h0m0.5-0.9h0m0.4 0.3h0m0.5 1.4h0m0.4 0.5h0m0.7 0.5h0m2.6 0.7h0m0.5 0.3h0m0.4-0.1h0m0.6-1h0m0.5 0.3h0m0.5 0.6h0m0.4 1h0m0.7-0.3h0m0.4 1h0m0.4 0.1h0m0.5-1.2h0m0.5 0.3h0m0.4 0.8h0m0.6 0h0m0.5-0.3h0m0.7 0h0m0.2 0.9h0m0.6 0h0m0.4-0.2h0m0.6-0.2h0m1 0.6h0m1 0.6h0m-1.6 0.1h0m1.2 0.9h0m0.9 0.2h0m0.7-1.1h0m5.9 3h0m0.7 0.9h0m0.5-1.2h0m0.4 0.6h0m0.5 0.5h0m0.5 1h0m0.5-0.9h0m0.4 0.2h0m0.5-0.1h0m0.6 1.8h0m0.5-0.3h0m0.3 0.6h0m0.6-0.7h0m0.5 0.9h0m0.6-0.2h0m0.6 0.5h0m0.4-0.1h0m0.6-0.4h0m0.4 1.4h0m0.5-0.4h0m0.5-0.9h0m1 0.1h0m0.6 1.4h0m0.7 0.1h0m-2 0.4h0m1.8 0.6h0m6.5 0.8h0m0.4 1h0m0.7 0.5h0m0.3-0.5h0m7.1 3.6h0m0.4-0.3h0m0.4 0.5h0m0.5-0.5h0m0.5 0.4h0m0.6-0.6h0m0.5 1.2h0m0.8-0.7h0"/></g>
<clipPath id="cBL"><rect x="128.0" y="552.0" width="429.0" height="449.5"/></clipPath>
<g clip-path="url(#cBL)"><path class="sp" d="M146.5 809.7 166.1 821.7 177.8 826.2 197.3 832.2 224.7 839.7 244.3 845.7 263.8 848.7 263.8 853.2 224.7 853.2 220.8 880.1 146.5 852.1 145.3 851.7Z"/><path class="sc" d="M168.4 558.9h0m44.9-4.5h0m138.1 2.1h0m-206.2 7h0m22.2 0h0m224.5 3.3h0m-243.1 6.6h0m31.6-0.5h0m16.1 12.5h0m63.2 8.7h0m-112.6 6.5h0m0.4 12.6h0m90-0.5h0m-21.5 4.5h0m13.5 2.9h0m-72 15.7h0m0.1 1.7h0m41.5-5h0m39.3 3.4h0m110.8 9.4h0m180.2-4h0m-381.4 12h0m3.3-3.7h0m18.8 6.3h0m-14.7 0.6h0m5.1 5.6h0m214.9 1.8h0m-225.4 3.6h0m0.1 2.4h0m100 1.8h0m265.4-1.1h0m-368.4 1.6h0m64.7 2.3h0m30.3 1.2h0m219.8 3.2h0m-315.5 6.7h0m1.3 1h0m0.2-5.1h0m0.2-1.4h0m16.9 1.1h0m6.7 0.5h0m34.2-1.4h0m92.8 7.6h0m35.3-4.3h0m9.6 2.3h0m7.9 0.7h0m-196.2 4.7h0m1.6-1.4h0m46.8 1.5h0m4.3 1h0m-54.7 4.4h0m14.6 0.6h0m25.8 3h0m5.3-2.7h0m0.3-1.6h0m26.8 3.3h0m152.2 1.3h0m151.6-3.7h0m-382.5 8.6h0m30.8 2.5h0m27-0.9h0m28.2 4.7h0m218.6-1.8h0m-307 3.2h0m0.4 1.4h0m9.3 4.8h0m10.7-5.5h0m8.8 3h0m4.5 2.2h0m2.4-3.7h0m1.8 3.9h0m7.5-2.7h0m5.4-4.4h0m12 6.2h0m71-3.3h0m148.9 0.9h0m-279.5 11.2h0m0.7-5h0m8-0.8h0m0.8 0.2h0m9.2 2.7h0m2.8 0h0m0.9-2h0m22.6 4.8h0m2.8-4.4h0m6.2 4.9h0m0.2-4.5h0m7.3-1.2h0m16.8 2.8h0m12.7 0h0m68.8-1.2h0m56.7 3.6h0m70.8-1.5h0m1.5 2.2h0m90.9-2h0m-381.7 3.7h0m2.9 6.1h0m5-7h0m25.5 5.2h0m6.7-5.2h0m22.3 1.2h0m3.7 6h0m12.1-1.6h0m9.8 0.5h0m8.6-4.6h0m8.2 4.4h0m20.8 0.2h0m78.2-0.8h0m53.9 0h0m29.5-2.7h0m-286 11.4h0m4-5.5h0m16.7 5.2h0m32.1 0.8h0m1.2-1.6h0m13.7 1.9h0m1.4-3.3h0m8.1 0.8h0m13.8-0.2h0m15.4-2.5h0m29.8-2.3h0m18.3 6.7h0m33.9-0.5h0m32.3-0.3h0m34.4-5.2h0m-257.5 12.8h0m2.2-0.9h0m0-1.4h0m1.4 4.5h0m3.5-6.2h0m6.7-0.8h0m0.2 6.7h0m4.1-7.3h0m4.5 0.5h0m14 5h0m10-0.2h0m9-4.5h0m9.4 2.7h0m14.5-2.6h0m1.5 1.1h0m2 1h0m7.3 2h0m31.2-3.4h0m7.8 3.6h0m28.2-0.3h0m1.6-2.1h0m16.2 1.8h0m8.8-2.4h0m0.6 2.2h0m51-2.2h0m22.2 4h0m22.4 0.8h0m43.9-0.1h0m0.1-6.1h0m33.3 1.7h0m20.4 0.9h0m-374.4 12.1h0m9.7-2h0m5.9-3.7h0m1.1 5.6h0m13.8-5.4h0m7.1 0h0m1.6 4h0m5.6-1.6h0m7.5-2.5h0m8 4.3h0m4.3-1h0m10.7-1.2h0m16.4-1.3h0m11.7 1.8h0m37.2 0.5h0m2.1-4.4h0m7.5 3.4h0m0.4-3.7h0m0.8 2.1h0m18.6 2.6h0m0.9-2.4h0m12-2.3h0m35.4 5.7h0m3.1-1.4h0m3.8 0.8h0m77.1 2h0m28.5-1.6h0m51.7-3.9h0m-385.6 7.6h0m0.4 0.8h0m0.5 1.4h0m1.8 3h0m3.2-6.7h0m1 4.7h0m4.8-3.1h0m3 3.9h0m0.5-4.3h0m1.3-0.3h0m3.2 2.5h0m0.4 3.3h0m1.2-1h0m28.1-3.4h0m6.4 0.5h0m7.5 1.1h0m9 2.4h0m6.7 1h0m12-0.1h0m3.1-3.2h0m2.5 1.1h0m0.5-3h0m9-0.4h0m30.9 0.3h0m1.9-1h0m17.2-1h0m18.3 4.9h0m6.4-0.1h0m23.1 1.4h0m32.5-1.3h0m-236.8 4.9h0m0.3 2.2h0m0.5 2.8h0m0.8-2.1h0m0.1 0.7h0m1.6-4.4h0m4.6-0.7h0m3.9 5h0m0.4-2h0m0.8-3h0m3.3 4h0m6.3-4.2h0m6.3 2.6h0m1.1-1.5h0m2.2 2.9h0m2.4-3.2h0m4.9 2h0m4-1.1h0m5.2 1.2h0m3.5 4.8h0m14-7.2h0m3.8-0.4h0m2.1 3.8h0m4.6 1.4h0m6.3-3.4h0m6.4 4.9h0m4.3-5.2h0m12.7-0.5h0m5.8 0.7h0m9.9-1.3h0m7.5 4.9h0m23.9-0.5h0m9.8 1.4h0m15.2-0.5h0m6.8 0.1h0m48.9-2.8h0m15.6-2.7h0m16 6.9h0m-265.5 4.8h0m0.4 2.8h0m1.1-5.1h0m0 3.8h0m0.1-3.5h0m0.6 3.8h0m1 1.6h0m0.2-5.3h0m0.9 3.8h0m0.1-5.2h0m6.9 3h0m0.9 0.2h0m1.2 3.5h0m0.5-2.9h0m8.1 1.9h0m7.3-2.5h0m7.5-2.3h0m1.5-1.5h0m21.8 3.9h0m2.8 3.3h0m14.2-4h0m18.3-3.1h0m0.1 3.5h0m2.3 0h0m2.1 0.7h0m4.6-3h0m6.3 0.3h0m15.8 5.8h0m3.1-1.8h0m1-1.9h0m17.5 0.4h0m5.7-0.2h0m5 3.3h0m6.3-0.2h0m2.5-5.5h0m23.8 5.5h0m0.4-6.6h0m0.2 3.6h0m12-2.2h0m10.6 3.6h0m8.7-3.8h0m1.2 1.5h0m2.1 2.7h0m48.1 0.2h0m12 1.6h0m54.9-7.5h0m30.3 2.3h0m1.5 1.8h0m-373.7 11.1h0m0.4-6.4h0m0.5 4.7h0m0.2-0.3h0m0.3-4h0m0.1 1.5h0m0 4.4h0m0.4-5.3h0m0.2 0.1h0m0.4-1.3h0m0.2 6h0m0.6-2.6h0m0.2 1.1h0m0.2 0.3h0m1.4-1.4h0m2.5 1h0m0-1.9h0m2 2.5h0m0.1 0h0m3.6-1.2h0m0-0.5h0m3.4-0.4h0m0.2 2h0m3.3-5.5h0m0.1 4.3h0m0.7 1.1h0m1.9 0.9h0m0-3h0m9.7 2.9h0m2-3.4h0m5.3 4.3h0m5.9-5.7h0m3 3.6h0m3.9 1.6h0m9.9-5.6h0m2 2.6h0m1.6 3.3h0m0.7-3.9h0m0.2-0.4h0m3.7 2.7h0m3-2.9h0m3.9 1.4h0m0.3-4h0m2.7 4.7h0m0.8-4.7h0m2.2 7.7h0m5.5-4.6h0m5.7 2.1h0m3.7 1.7h0m1.9-4.8h0m10.7 2.7h0m12.4-1.1h0m0.8 0.3h0m5.6 0.4h0m11.9 2.5h0m0.2 0.2h0m2-6.2h0m3.5 3h0m14.9 1.1h0m0.5-3.1h0m19.3 4.3h0m2.2-2.5h0m21.4-1.6h0m28.7 1.4h0m64.4 2h0m9.5-5.5h0m6.2 3.9h0m8 1.6h0m13.4-2.6h0m31.8-0.9h0m12.4 5.1h0m-380.4 4.9h0m0.1-3.4h0m0.6 5.8h0m0.1-2.2h0m0-3.9h0m0.1 4.7h0m0.2-2.2h0m0.3-1.1h0m0 5.7h0m0.4-2.5h0m0.2 1.6h0m0.1 0.9h0m0.7-7.3h0m0.5 5.5h0m0.4-2.8h0m0 3.2h0m0.1-0.2h0m0.7 1.8h0m0-6.6h0m1.7 6.3h0m0.3-4.7h0m0.5 0.3h0m0.1 3.7h0m0-2h0m1.7-2h0m0.9-2.6h0m3.8 5.4h0m3.2-3.3h0m1 0.7h0m2.3 2.1h0m0.1-0.7h0m1.2 2h0m1.9-5.1h0m2 3.3h0m3.1 1.1h0m2.3 0.4h0m5.4-5.6h0m4.6 1.4h0m2.2 0.7h0m3 1h0m0.8-1.9h0m5.8 0.4h0m2.6 3h0m0.6-0.9h0m0.5 2.2h0m3.2-6.5h0m0.3 6.9h0m0.4-3.6h0m0.1 3.6h0m2.2-0.5h0m1-3.2h0m1.9 3.4h0m4.8-4.7h0m2.6 0.5h0m4.4-0.4h0m0.6 3.9h0m6.1 0.6h0m2.6-4.1h0m1.3 2h0m10.2 0.1h0m9.3-3h0m3.9 5.4h0m1.9-3h0m13.7-2.4h0m2.8-1.1h0m3-0.3h0m2.4 0.7h0m46.1 6.1h0m1.8-1.6h0m5.5-4.4h0m9.5 3.7h0m0.2 0.5h0m18.8-4h0m7.2 3.6h0m21.8 0.5h0m5.2 0h0m15.2-2.6h0m7.1 3.8h0m115-2.1h0m2.7-0.5h0m-390.9 8.5h0m0 1.3h0m0.1-3.4h0m0.1 0.9h0m0 3.6h0m0.3-0.4h0m0.2-2h0m0.1-3h0m0 3.7h0m0.4-3.3h0m0.1 1.3h0m0.4 4.9h0m0.3-7h0m0.1 2h0m0.2 1.3h0m0.5 1.6h0m0.1-3.6h0m0.2 5.8h0m0.2-0.9h0m0-3.1h0m0.2-2.6h0m0.3 4h0m1.4 1.6h0m0.1 0.5h0m0.9-0.8h0m1.1-4.5h0m0.5 4.3h0m0.7 0.4h0m0.5-2.7h0m0.9 1.7h0m0.4-2h0m0.9 0h0m0.6 1.1h0m0.4 1h0m1.5 1.2h0m0.5-4.8h0m0.1 5.3h0m4.1-5.9h0m1.6 3.3h0m0.9-1.9h0m0.8 3.9h0m0-0.1h0m1.8-5.7h0m0.5 4.8h0m1 0.8h0m0.2-0.8h0m1.6-3.6h0m4.9 0.2h0m0.1 2.9h0m2.5-0.7h0m3.4-3.1h0m0.2 1.2h0m3.3-1h0m0.4 0.2h0m0.4-2h0m0.7 0.4h0m0.1 5.6h0m0.4 0.1h0m3.5-6.2h0m0.5 0.8h0m0 3.8h0m2.8-4.1h0m0.3 6h0m0.1-1.7h0m2.6-1.9h0m7 0.1h0m0.1-2h0m0.4 0h0m4.2 2.9h0m0.2 3.7h0m2-0.1h0m1.2-5.5h0m8.3 0.5h0m0.7 3.9h0m0.7 1.3h0m1.2-6h0m5.9 0.6h0m0.7-1.1h0m10.6 2.4h0m4.3 3.6h0m0.1-5.4h0m3.4 1.4h0m3-1.9h0m0.3 2.9h0m3.2-3h0m6.2 1.8h0m2 4.8h0m1.4-2.1h0m8.6-0.2h0m0.9 1.7h0m6.1-5.3h0m0.6-1h0m1.2 3.3h0m6-1.7h0m1.3-1.5h0m3.7 5.7h0m16 0.4h0m12.5 0.7h0m10.9-4.6h0m0.9 2.9h0m28.7-4h0m4.2-1.3h0m1.8 5.4h0m10.4-3h0m4.4 3.4h0m30.5-6h0m10 2h0m27-0.4h0m27 0.5h0m26.1 3.8h0m24.5 0.9h0m-383.4 1.6h0m0 6.6h0m0-6.2h0m0.3 2.9h0m0.1-1.5h0m0-1.1h0m0.1 5.3h0m0-2.3h0m0.1 2.2h0m0.2-2.3h0m0.1-4.7h0m0.3 1.1h0m0.1 1.3h0m0.4 0.1h0m0.1-0.4h0m0.4 2h0m0-2.5h0m0.1 5.4h0m0-5.9h0m0.5 5.3h0m0.2-1.3h0m0.9-5h0m0.1 3.7h0m0.9-3.6h0m0.1 2.9h0m0.7-1.3h0m0.4 1.2h0m0-2.9h0m0.3 4.4h0m0.3 0.3h0m0.8-3.6h0m0.3 5.3h0m0-3.1h0m0.5 3.6h0m0.2-3h0m0-2.8h0m0.2 4.4h0m0.2-3.3h0m0.2 3.6h0m0.4 1.1h0m0.7-1h0m0.4 0.6h0m0.7-6.2h0m0.5 3.4h0m0.7 4.1h0m0.2-0.9h0m0.3-3.8h0m0.1-2.8h0m0.4 3.5h0m0 2.7h0m0.1 0.8h0m0.5-1.1h0m0.3-5.7h0m0.7 0.2h0m0.9 2.6h0m0.7 1.2h0m1.4-1.6h0m0.3 4.9h0m1.1-1.1h0m0.9-3.1h0m0.5 3.8h0m0.5-1.2h0m0.6-3.6h0m1-0.5h0m1.9 3.6h0m0.5 1.2h0m0.2 0.4h0m0.9-3.9h0m0.3 3h0m1.4-2.3h0m0.7 0.2h0m0.4 1.9h0m0-1.8h0m0.1-2.1h0m1.4 4.8h0m0.3-5.1h0m1.2 1h0m0.5 0.5h0m0.3 4.2h0m0.3-3.9h0m0-1.9h0m0.3 3.3h0m0.4-0.1h0m0.8-1.7h0m0.2 0.1h0m0.1 0.1h0m2.1 1h0m0.4 3.2h0m1.8-3.6h0m0.7 0.1h0m0.8 2.5h0m0.4-5.9h0m4.4 3h0m0.3 0h0m0.4 3.1h0m0.1-2.1h0m1-2.1h0m2.8 3.4h0m0.2-4.5h0m0.6 4.3h0m0.3-0.8h0m0.1-2.2h0m0.7-1.3h0m3.1 4.8h0m0.2-0.8h0m1.6 0.7h0m0.7 0.3h0m0.2-2.7h0m3.1 0.6h0m1.3-1.2h0m4.5 0.5h0m0.9 0.9h0m2.1-0.5h0m0.2-3.4h0m0.7 3.3h0m0.2-2.7h0m0.2 3.8h0m0.6 2.1h0m2.1-2.7h0m1.2-1.9h0m2.2 2.2h0m0.1 1.6h0m2.3 1.2h0m0.1-1.2h0m0.6-1h0m1.3-2.1h0m0.7-0.8h0m0.5 4.8h0m4.6-7.1h0m2.3 3.3h0m0.8-1.5h0m0.8 4.2h0m1.4-2.5h0m1.2 1h0m2.6 1.5h0m1.9-0.6h0m0.4-1.1h0m0.5-1.6h0m2-1.9h0m0.3 6.4h0m0.8-2.3h0m10.5-2.2h0m1.5 4.1h0m4.3-2.1h0m1.8 1.6h0m2.1-1.9h0m0.1-3.8h0m0.8 5.4h0m2.8-3.3h0m18 1h0m0.7-2.3h0m0.5 2h0m2.1 2.1h0m6.5-5.3h0m4.2 1.5h0m4.5 3.8h0m0.8-4.7h0m16.1-0.9h0m1.1 3.6h0m2.2 0.1h0m16.5 2.1h0m3.9 0.1h0m6.3-3.7h0m2.6 3.5h0m8.8 1.3h0m0-2.3h0m25.9-4.8h0m4.9 5h0m5.3-0.9h0m9 2.2h0m2.4 0.8h0m2.8-7.3h0m8.1 4.2h0m9.3-2h0m0.7 3.1h0m23.6 0.2h0m24 2.3h0m19-2.9h0m34.3 0.3h0m-390.7 3.6h0m0.2 6.8h0m0.1-6.4h0m0 4h0m0-5.2h0m0.1 5.6h0m0-4.9h0m0.1 4.9h0m0-3.9h0m0.1 3.1h0m0.1-0.6h0m0 2.6h0m0-1.3h0m0.3-3.1h0m0.2-0.5h0m0 5.3h0m0-3.7h0m0.2 1.1h0m0.6-4.7h0m0.1 6.6h0m0.1 1.4h0m0.2-0.7h0m0.5-2h0m7.3-5.2h0m3.8 1.6h0m2.2-1.4h0m0 3.2h0m0.7 1.1h0m0-1.4h0m0.7-2.6h0m0.7 3.6h0m0.2-3.4h0m0.9 0.8h0m0.4-1.4h0m0.1 2.7h0m0.3 1.6h0m0.2-0.3h0m0.7 0.8h0m1-4.9h0m0.2 6.8h0m0.1 1.1h0m0.4-4.3h0m0.3-1.4h0m0 2.7h0m0.9-0.1h0m0.3 3h0m0.3-5h0m0.1 1.8h0m1.3 2.2h0m1.1-1.7h0m0.5-1.2h0m0.9 3.9h0m0.9-0.6h0m0.6-5h0m0.1 3.2h0m0.4 2.3h0m0.1-4.8h0m0.2-1.9h0m0.4 2h0m1.4 4.3h0m0-5.7h0m0.3 3.7h0m0.6-0.2h0m1.4 1.9h0m0-1.5h0m0.5-2.2h0m0.7 4.4h0m0.6-2.5h0m0.6-1.2h0m0.6-2.8h0m0.6 2.2h0m0.5 1.8h0m1.2-4.1h0m0.6 6h0m0.3-5.6h0m0.2-0.4h0m0.8 2.1h0m0.3 3.3h0m1.9 0.1h0m1.2-1.2h0m2-2.4h0m0.7-1.5h0m0.7 0.2h0m0.8-1.7h0m0.6 2.3h0m0.2 2h0m0 2.1h0m0.3-5.3h0m1.8 6h0m0-1.3h0m0.3-3.8h0m0.4 1.8h0m0.2 2.5h0m0.7-6.3h0m0.7 1h0m1.4 2.8h0m0.1 2.8h0m0.1-2.7h0m1.6 1.6h0m1.4 1.2h0m0.1-6.6h0m0.1 3.1h0m0 4.7h0m0.4-1.1h0m1.1-2.1h0m5.3-2.9h0m1.2 5.5h0m0.9-1.8h0m0.3-0.9h0m0.2 2.9h0m1-1.2h0m2.2 1.4h0m1.9-5h0m0.5 4.7h0m1.3 0.1h0m2.4-1.7h0m1.6 0.8h0m0.3-3h0m0.1 1.7h0m0.4 1.1h0m0.4 1.1h0m0.1-3.9h0m0.8-0.4h0m0.9 3.5h0m0.1 1.2h0m4.9-4.4h0m2.4-1.8h0m0.1 3.3h0m0.3-1.5h0m0.8 0.4h0m0.3-0.7h0m0.3 3.9h0m0.7-1.9h0m2.1-4h0m1.2 0.8h0m0.3 5h0m0.7-2.8h0m3.1 3h0m0.4-2.1h0m2.7-1h0m0.2 0.5h0m0.6 0.1h0m5.8 0.2h0m0.2 0.8h0m0.7-3.9h0m0.2 1.9h0m1.7-3h0m1.3 3.1h0m2.7 1.7h0m0.9 2h0m0.1-1.6h0m0.4-1.9h0m0.6-4h0m2 0.9h0m1.4 4h0m0.6 0.5h0m3.8 1.5h0m1-1.3h0m0.4-0.3h0m0.2-1.8h0m5.5-3h0m0.2 1.1h0m0.2-0.6h0m3.9 4h0m0.9-4.4h0m12 0.3h0m1.6 4.2h0m1.3-2.8h0m2.5-0.9h0m1.2 2.5h0m2.6 2.8h0m4.5 0.5h0m0.7-1.7h0m10.3 0.4h0m0.5-1.7h0m0.4-2.8h0m2.2 0.9h0m1.3 5.3h0m12.5-2.5h0m1.1-3.7h0m4.3 4.8h0m17.7-0.1h0m10.8-5.6h0m0.6 5.9h0m4.5-6.5h0m4.6 1.2h0m18.9 0.5h0m0.9 1h0m22.4-1.2h0m34 6.5h0m3.1-7h0m6.7 4.1h0m0.6 1.3h0m8 1.6h0m0.4-3.3h0m25.8-3.3h0m21.1-0.5h0m12.3 2.5h0m-390.3 9h0m0.1-2.6h0m0.2 1.7h0m0.1 3.2h0m0-0.2h0m0.1 0.3h0m0-1.3h0m0 2.3h0m0-6.9h0m0.1 1.4h0m0.1 4.9h0m0.3-0.9h0m0-4.8h0m0 3.1h0m0.3-2.1h0m0.8 2.9h0m0.3-4.4h0m0.7-0.9h0m21.4 0.6h0m4.1 2h0m1.7-1h0m0.2 0.3h0m2.2-1.5h0m0.1 1.8h0m0.8-2h0m0 0.5h0m1.1 1.4h0m0.7 0h0m0.2 2.3h0m1.4-1.1h0m0.3-2.7h0m0.4 2.2h0m0.1 2.9h0m0.3-0.6h0m0.6 0.1h0m0.9-0.8h0m0.2 0h0m0.4-0.8h0m0-3.2h0m0.1 4.3h0m0.1 0.5h0m0.4-0.2h0m0.6-1.9h0m1.6-0.6h0m0.1 2.4h0m0.5-2.7h0m0 5h0m1.6-4.4h0m1.5 1.9h0m0.6-2.9h0m0.3 1.1h0m1.4-1.8h0m0.2 0.4h0m0.5 5.3h0m0.1 0h0m0.7-2.2h0m0.8 3.2h0m1-2.3h0m0-4.1h0m0.8 5.5h0m0.3-2.6h0m0.7-4.2h0m0.2 3.8h0m0.6 3.2h0m0.1-2.8h0m0-3h0m0.1 4.3h0m1.4-2.8h0m0.7 0.2h0m0.6 2.2h0m0.8 1.2h0m0.1 1.1h0m0.9-4.6h0m0 3.8h0m0.5-5.3h0m0.4 4.1h0m0.1-0.8h0m0.5-1.2h0m0.5 0.8h0m2-1.8h0m0.4 4h0m0.1-1.9h0m0.3 2.5h0m1-1.9h0m2.2-1.5h0m0.2 4.1h0m0.3-3.8h0m0.3 0h0m0.1 3.4h0m0-4.7h0m0.9 4.7h0m0.1-6.2h0m1.8 4.4h0m0.6-4.1h0m1.1 5.9h0m0.8-2.2h0m0.2-4.4h0m0.6 4.3h0m0.2-1.2h0m0 1.9h0m0.2-2.4h0m0.3 3.6h0m0.2-4.1h0m1.1 4.2h0m3.6-5.6h0m2 2.3h0m0.7-1.6h0m0.1 5.5h0m0.4-3.6h0m0.2 2.3h0m0.8-5.8h0m1.5 0.4h0m2.2-0.7h0m0.3 0.2h0m0.6 3.6h0m0.6-0.3h0m4.5 1h0m0.3 1.1h0m1.9-5.3h0m1.3 6h0m0.1-0.7h0m4.2-1.2h0m0.6 2.7h0m0.5-4.7h0m0.1 3.3h0m1.3-3h0m1-0.8h0m1.4 5.2h0m0.1-2.9h0m0.1-2.8h0m1.8-0.9h0m0.4 0.6h0m1.1 2h0m3.6-1.1h0m0.4 5.3h0m0.4-0.9h0m0.8-2.6h0m2.6-1.1h0m1.4-0.9h0m1.6-2.1h0m2.3 4.7h0m1.3 0.9h0m0.1-5.3h0m0.1 5.8h0m0.2-0.5h0m1.5 0.4h0m0.2-4.6h0m0.5 5.9h0m1.3-0.3h0m1.3 0.8h0m0.1-1.9h0m0.2-1.1h0m1.3-3.3h0m7.2 2.1h0m0.2-2.4h0m0.6 0.4h0m5.3-0.3h0m0.1 6h0m2.5 0.2h0m0.2-4.7h0m8.3-1.7h0m2.3 6.4h0m0.2-5.4h0m4.4 5.3h0m2.6-5.4h0m3.5 3.9h0m0.3-4.3h0m2 5.6h0m0.5-4.1h0m1.2 4.3h0m2.2-5.3h0m2.6 2.5h0m0.4 3.1h0m1.2-4h0m0.5-1.1h0m0.8 2.3h0m0.2 0.3h0m0.4-2.2h0m0.9-2.7h0m1.8 4.3h0m2.4-2.6h0m8.1-1.9h0m0.7 3.1h0m0.5 2h0m16.8-5.3h0m8.7 2.1h0m3.5 0.3h0m0.2 1.3h0m3.6 3h0m4.2-2.5h0m4 3.5h0m4.9-5.6h0m3.1-0.2h0m5.7 4.4h0m1.7-3.7h0m3.8 1.6h0m22.1 3.1h0m4.1 0.6h0m6.8-1.4h0m50.8-5.5h0m11.4 5.1h0m4.9-3.8h0m5.5 4.4h0m17.2-1h0m-378.5 7.7h0m0-5.1h0m0 4h0m0-2.6h0m0.1 0.7h0m0 0.6h0m0 1.8h0m0.2 1.2h0m0.1-2.7h0m0-0.3h0m0-3h0m0.3 3.8h0m0.3-0.6h0m0.4-0.5h0m0.1 3.3h0m0.1 1h0m0-1.5h0m0.1-1.4h0m0.2 2.9h0m0.1-1.1h0m0.1-1.8h0m46.2-4h0m1 0h0m1.1 0.4h0m0.8 1.1h0m0.5-0.7h0m1.3-0.8h0m1.3 1.1h0m0.1 0.4h0m1.1-1h0m0.6-0.2h0m0.3 0h0m0.5 1.8h0m0-0.1h0m1.2-0.4h0m0 0.5h0m0.6 0.9h0m1.1-0.8h0m1.7 1.3h0m0.5-2.5h0m0.9 0.6h0m1 2.2h0m0.2-0.4h0m0.4-2.5h0m0.1 3.3h0m0.6 0.3h0m0.2 0.1h0m0.8-2.2h0m1.1 3.1h0m0.4-2.6h0m0.4-1.1h0m0.6 4.2h0m0.8 0.4h0m0.3-4.6h0m0.5 3.6h0m0.6-5.3h0m0.1 7.3h0m1.1-6.4h0m0 6.2h0m0.6-5.7h0m0.1-0.3h0m0.1 5.1h0m0.6-1.9h0m0.4-1.3h0m0 2.9h0m0.3-3.5h0m0.2 3.2h0m0.4-1.7h0m0.1 2.9h0m1.1-4.7h0m1.2 1h0m0.2 3.6h0m0-1.7h0m0.4 2.5h0m0.2-4.5h0m0.4-2.5h0m0 1.4h0m1.3 5.4h0m0.2-2.2h0m0.2-1.2h0m0.4-1.3h0m0.4 2.8h0m0.2-2.6h0m0 4.1h0m0.2-6.3h0m0.8 1.9h0m0.5 4.2h0m0.4 0.1h0m0.4-2.8h0m0.3-3.3h0m0.2 5.7h0m0-4.8h0m0.1 2h0m0.7 3.2h0m0.9 0.5h0m0-1.8h0m0.1-4h0m0.3 4.3h0m0.1-3.9h0m0.1-1.4h0m0.4 3.1h0m0.9 2h0m0.1-5.3h0m0 6.8h0m0.3-3.2h0m0.8-0.6h0m0.4 1.3h0m1.2 2.2h0m0.9-1.4h0m0.3-3.7h0m0.6 4.7h0m0-3.8h0m0.9 0h0m0.3-2h0m0.5 6.5h0m0.3-7h0m0.9 0.9h0m1.5-0.1h0m0.8 5h0m1.2-2.8h0m0.2-0.3h0m0.5 2.4h0m0.1-3.3h0m0.8 2h0m1.2 2.1h0m0.2-3.1h0m0-2.4h0m0.3 5.1h0m0.1-3.9h0m0.4 5.9h0m0.5-4h0m0.9-1.4h0m0.1-2.3h0m0.1 5.2h0m1.2-2.3h0m0.1 2.8h0m0-2.2h0m1 0.5h0m0.1 1.6h0m0.6-2.9h0m0.8 4.8h0m1-3.2h0m0.4-0.4h0m1.2 1.9h0m0.2 1h0m0.5-2.3h0m0.9 0.1h0m0.1-4.3h0m0.4 2.5h0m0.5 4.5h0m0.1-2.8h0m1.4 3h0m1.6-2.1h0m0.3-2.6h0m0-1.1h0m0.5-0.9h0m1.9 4.7h0m0.8-4.8h0m2.7 3.3h0m0.1 3.9h0m0.1-2.8h0m0.1-3.9h0m1.3 3.2h0m0-1.8h0m0.5-0.2h0m0.8 4.9h0m0.5-0.7h0m1.1 1.3h0m1.5-1.1h0m0.2-4.4h0m1.2-1.5h0m0.8 6.4h0m0.9-6.5h0m0 2h0m0.4-2h0m0.1 5h0m2 0.3h0m0.3 1.3h0m0.6-6h0m1.9-0.8h0m1.8 3.6h0m0.4-2.3h0m0.6 4h0m0.9-4h0m0.5 2.7h0m2.1 2.5h0m0.6-1.7h0m0.5-1.1h0m0.2 2.9h0m0.3 0.6h0m1.6-1.9h0m0.5 0.9h0m0.1-2.3h0m1.2-1.7h0m0.7 4.5h0m0.7-3.6h0m1.3 2.3h0m0.2 1.8h0m0.5-3.4h0m0.7 1.9h0m0.7-5.8h0m0.2 0h0m0.3 0.7h0m0 1.6h0m0.1-2.3h0m0.2 1.7h0m1.6-1.1h0m1.3 6.1h0m1.6-4.7h0m1.7-1.2h0m2.4 2.1h0m1 0.2h0m1.4-0.8h0m10.5 3.9h0m0.1-1.8h0m1 1.5h0m3-2.1h0m0 1.1h0m0.3-3.3h0m1.5 4.5h0m0.1-5.2h0m3.3 0.4h0m5 2h0m0.7-2.3h0m3.2-0.7h0m0.7 2.8h0m1.1 0.6h0m2.4 3.2h0m0.1-1.1h0m1.2-1h0m1.1 1.8h0m1.3 0.1h0m1.1-0.3h0m1.5-4.9h0m1.5 1.4h0m0.9-0.3h0m0.4 1.5h0m1 1.1h0m1-5.1h0m2.1 3.7h0m0.6-2.3h0m1.4 0.6h0m5.5 4h0m1.1-5.4h0m0.2-0.1h0m2.4 1.4h0m0.1 3.7h0m1.7-1.7h0m7.5 2.6h0m2.3-2.1h0m6.5 0.8h0m5.9 0.1h0m6.8 1.6h0m0.5-6.6h0m13.4 6.7h0m7.9-5.5h0m2.9 2.3h0m2.9-0.1h0m18.8 2h0m9.5-3.1h0m19.8 4.6h0m4.8-3.4h0m43.5-2.3h0m3.6 0.7h0m6.3 4.5h0m1.4-7.1h0m0.3 7h0m0.8-2.1h0m-389.1 9.5h0m0 0.9h0m0-3.1h0m0 1.9h0m0.1 0.8h0m0-4.1h0m0-2.1h0m0 3.4h0m0-3.7h0m0.1 5.1h0m0.2-1.6h0m0-2.9h0m0 2.4h0m0-3.2h0m0.2 1.1h0m0-1.3h0m0 2.7h0m0.1-1.8h0m0.2 6.3h0m0-6.8h0m1.2 5.1h0m0.7-4.7h0m71.8-1h0m2 0.1h0m0.1-0.2h0m3.8 1h0m2.6-0.7h0m0.6 0.9h0m0.9-1h0m1.2 2.2h0m1.2 0.4h0m0.5-1.8h0m0.5-1h0m0 4.6h0m0.4-0.3h0m0.8-2.9h0m0.1 0.3h0m1 2.5h0m0.4-0.2h0m1.3-2.3h0m0.1-1.1h0m0.4 3.9h0m0.3-0.1h0m0.5-0.6h0m0.3-1.7h0m1.2 1.4h0m0.1-2.6h0m0 0.6h0m0.3 0.8h0m0.1-0.6h0m0.2 3.5h0m0.4 1.1h0m1-2.7h0m0.5-0.7h0m0.2 1.3h0m0.4 2h0m0.1-2.2h0m0.4 1.2h0m0.3 2.5h0m0.5-7.3h0m0 1h0m0.1 2.5h0m0.3-3.4h0m0.1 1.7h0m0.7 2.8h0m0.1 2.1h0m0.5-4.7h0m0.1 3.6h0m0.6 1.1h0m0.4-2.7h0m0.4 2.3h0m0.4 0.9h0m0.3-4.7h0m0.8-2.2h0m0.4 4.5h0m0.2 2.6h0m0.1-0.9h0m0.1-1.9h0m0-3.3h0m0.1 2.6h0m0.2-3.9h0m0.5 7.4h0m0.1-5.9h0m0 2h0m0.6-0.8h0m0.2 2.6h0m1-1.3h0m0.5 1.9h0m0.2 1.1h0m0.1-4h0m0.2 1.6h0m0.1-2.5h0m0.1 4.9h0m1-4.8h0m0.2 4.7h0m0.1-3.1h0m0.2 3.6h0m0.5-6.2h0m0.1 5.5h0m0.8 0.4h0m0.2-2.4h0m0.3-1.8h0m0 0.7h0m0.3 3.5h0m0.5-7.2h0m0.8 5.3h0m0.3-0.7h0m0.4-2.7h0m0.1 4.6h0m1.7-2.7h0m0.2 3.6h0m0.3-1.4h0m0.1 1h0m0.4-7.1h0m0.1 0.6h0m0.1 0.9h0m0.1 2.9h0m0.7 0.2h0m0-3.4h0m0.1 4.3h0m0.5-0.3h0m0.5-1h0m1.1 2.1h0m0.5-0.7h0m0-5.3h0m0.6 1.7h0m0.3 1.6h0m0-3.7h0m0.5 7.4h0m0.6-0.9h0m0.3-5.4h0m0.9 0.2h0m0 6.1h0m0.3-2.7h0m0.5-3.8h0m1.1 3.8h0m0.4 2.3h0m0.3-1.5h0m0-2h0m0.4-1.9h0m0.2 2.7h0m0.1-1.4h0m0-1.5h0m0.4 2.4h0m0.3-1.8h0m0.6 4.3h0m0.2-0.2h0m0.3-2.5h0m0.9 4.2h0m0.2-7.3h0m0.2 1.1h0m0.1 6h0m0.1-3.8h0m0.3 1.4h0m0.5-1.4h0m0.3 0.3h0m0.2-4.1h0m0.2 7.4h0m0.3-1.5h0m0-3.3h0m0.3-0.5h0m0.3 1.9h0m0.5 3.9h0m0.2-2h0m1.1 1.9h0m0.1-4.4h0m0.6 1.2h0m0.5 0.6h0m0.6-4.4h0m0 3.4h0m0.1 2.3h0m0.6-3.2h0m0-3.1h0m0.1 2.4h0m0.1 4.6h0m0.6-2h0m0.2-3.8h0m0.3-0.9h0m0.5 3.1h0m0.1 1.4h0m0-3.5h0m0.1-1.1h0m0.3 2.8h0m0.2 0.2h0m0.3 3.9h0m1.2-2.7h0m0.4 1.9h0m0.2-3.5h0m0.1-1.8h0m0.2 5.3h0m0.4-4.3h0m0.4-0.9h0m0.5 4.4h0m0.1-2.6h0m0.1 4.5h0m0.6-6.8h0m0.2 4.8h0m0.6-1.5h0m0-1h0m1.5 4.4h0m0.6-2.1h0m0.8-0.9h0m0 3.1h0m0.3-5.5h0m0.2-0.7h0m0.2 4.7h0m0.4-4.7h0m0.3 0.5h0m0.7 5.1h0m0.5-3.9h0m0.4 2.8h0m0.5-2.4h0m0.4 3.8h0m0.2-2.3h0m0.1 0.9h0m0.5-2.2h0m0 0.2h0m0.2 2h0m0.3-5.9h0m0.8 7h0m0.1-6.1h0m0.1-0.2h0m0.8 5.9h0m0.1-2h0m0.1 2.1h0m0.9-1.4h0m0.2-0.1h0m0.4-0.7h0m0.5 2h0m0.1-4.2h0m0 0.7h0m0.5 0h0m0-0.4h0m0.2 4.5h0m0.2 0.4h0m0.2-1.5h0m0.7-4.3h0m0.3 4.3h0m0-6h0m0.4 6h0m0.1-3.9h0m0.3-1.2h0m1.1 6.4h0m0.3-1h0m0.3-2.3h0m0.7 2.4h0m0.6-2.9h0m0.1-2.1h0m0.7 4.1h0m0.3-5.5h0m0.2 2.2h0m0 0.5h0m1.1-1.5h0m0 6h0m0.3-3h0m0.4 2.8h0m0.4-1.1h0m0.2-0.9h0m0-3.1h0m0.4 4h0m1.5 0.8h0m0.3 0.7h0m0.6-5.5h0m0.2 4.1h0m1.1 1.1h0m0.6-1.9h0m0.7 2.1h0m0.6-1.7h0m0.9-3h0m0.8-1.4h0m0.4 3.7h0m0.6-1.9h0m0.2-2.7h0m0.1 5.7h0m0 1.7h0m0.3-1.3h0m0.6 0.8h0m1.5-3.6h0m0.1 0.6h0m0 1.9h0m0.6-1.6h0m0.2 2.8h0m0.6-1.2h0m0.6-1.6h0m0.7-0.6h0m0 3.2h0m0.1-0.7h0m0.9-3.8h0m0.1 4.2h0m0.2-4.3h0m0.1 2h0m1 1.3h0m0.2-2.3h0m0.6 4.2h0m0.7-2.4h0m0 1.1h0m0-6.4h0m0.5 7.1h0m0.3-1.7h0m0.9 2.3h0m0.3-6h0m0.1 2.8h0m0-3.8h0m0.2 2.5h0m0-0.6h0m1.5-2.2h0m0.5 5.6h0m0.2-3.1h0m0.4 2.3h0m1 1.1h0m0.3 0.9h0m0.1-1h0m0.3-3.6h0m0.4 1.1h0m0.2 3.4h0m0.3-1h0m0.5-5.9h0m0.1 5.6h0m1.3-1.2h0m0.1 3h0m0.5-1.8h0m0.2 2h0m0.4-5.6h0m0.9 0.5h0m0.3 4.6h0m0.1-1.6h0m0.2 1.4h0m0.1-0.8h0m0.2 0.6h0m0.7-2.6h0m0.7 1.8h0m0 1.2h0m1.4-5h0m1.9-1.8h0m1.3 6.2h0m0.1-3.2h0m0.4-1.7h0m0.5 3.3h0m2.1-4.8h0m0.9 6.6h0m0.2-2.5h0m0.2 3.3h0m0.5-5.1h0m1.1 4.1h0m1.6 0.6h0m0.3-0.6h0m0.3 1.1h0m0-0.5h0m1.1-2.9h0m0.1 3.4h0m0.9-5.8h0m1.5 2.1h0m0.7 2.4h0m1 0.9h0m0.2-7.4h0m1.9 6.7h0m0.3-0.3h0m0.5 1.5h0m0.1-1.8h0m0.4-4.1h0m1.3-1.2h0m2.5 3.8h0m0 2h0m0.3-4.6h0m0.3 5.8h0m0.2-1.9h0m1.3-2.7h0m1.1 4h0m2.8-3.1h0m2.8 2.5h0m1.3-3h0m0.2-0.1h0m1.3 2.6h0m0.1-3.1h0m0.7 1.4h0m0.8-2.6h0m1.7 6h0m0.2-0.5h0m0.2-3.3h0m0.1-3.9h0m2.5 7.1h0m0.8-6.4h0m8.5 1h0m0.6 0.5h0m3.7 5h0m0.7-0.5h0m3.3-3.1h0m0.9-0.8h0m7.5 4.9h0m8-0.5h0m2.8-4.6h0m12.3 1.8h0m3.4 0.6h0m11.7 1.5h0m3.1 0.5h0m3.2-0.8h0m0.6-3.7h0m4.3-1.1h0m3.5 5.3h0m3-5.7h0m5.4 6.4h0m4.4-1.8h0m0.8-3.5h0m5.8 0.8h0m0.9 2h0m1-3.8h0m1.6 3.3h0m13 3.1h0m2.6-7.3h0m0.4 6.4h0m0-1.1h0m10.8 1.3h0m12.2-0.2h0m-383 4.5h0m0-3h0m0.1 3.7h0m0-1.2h0m0-1.6h0m0.1 1.3h0m0.1-1h0m0 1.6h0m0-1.4h0m0.2-0.3h0m0.1 3.1h0m0.2 0.1h0m0.5-0.3h0m0 0.1h0m0.1-0.3h0m0.1-3h0m0.1 3.5h0m0.1 1.3h0m0-0.6h0m0.7-0.2h0m0.8-0.2h0m0.1 1.3h0m0.1 0.6h0m0.1-1.3h0m0.3 0.9h0m0-1.9h0m0.3-0.5h0m0.4-1.1h0m0.4 2h0m0 1.8h0m0.1-1.9h0m1.2 2.7h0m0.4-2h0m1 2.4h0m0.4-2.1h0m0 0.3h0m1.8 1.6h0m0.3-1.7h0m0.2 0.9h0m0.3 1h0m1.2-1.6h0m1.2 0.3h0m5.3 1.4h0m58.9-1.2h0m0.5-0.3h0m1.1-2.5h0m0.8 2.1h0m0 1.6h0m0.9-1.1h0m0 0.5h0m0.1-2.4h0m1 2.7h0m1.1-2.5h0m0.1 2.2h0m0.5-0.5h0m0.7-1.9h0m1-0.7h0m0.4-0.4h0m0.1 3.7h0m0.1-2.9h0m0.2 3.2h0m0.9-4.8h0m0.4 3.7h0m0.2-0.6h0m0.2 2h0m0.1-3.2h0m0.6 0.3h0m0.1 2.7h0m0.5 0h0m0.6-4.3h0m0.8-0.5h0m0.2 3.5h0m0.5-1.6h0m0 3.2h0m0.4-0.7h0m0.7-3.5h0m0 2.1h0m0.4 0.8h0m0-0.2h0m0.1-2.6h0m0.4 1.9h0m0.8-1.6h0m0.4-0.1h0m0.1-0.4h0m0.7 1.5h0m0.1 1.9h0m0 0.2h0m1.3-0.2h0m0-0.5h0m0.2-1.9h0m0-1.4h0m0.2 4.2h0m0.5-1.8h0m1.5-2.1h0m0.2 3.2h0m0.4-1.9h0m1.5 1.4h0m0.3-0.5h0m0.4-3h0m0.4 4.6h0m0.2-2.5h0m0 1.1h0m1.7 1.2h0m0.1-0.8h0m0.3-1.6h0m0.4-4.5h0m0.3 3.5h0m0.7-3.8h0m0.8 6.2h0m0.5-2.2h0m1.5 2h0m0.5-2.5h0m0.7 4.4h0m0.5-1.3h0m0.1-3h0m0 0.2h0m0.6 4h0m0.1-5.1h0m0 1.1h0m0.2 2.2h0m0.7-2.6h0m0 0.7h0m0.5-3.3h0m0.2 3.1h0m0.1 1.9h0m0.7 0h0m0.7 1.4h0m0-0.6h0m0.1-6.1h0m0.1-0.2h0m0 5.5h0m0.5-2.8h0m0.9 2h0m0.4-3.4h0m0 1.6h0m0.2 2.4h0m0-1.9h0m0.2-0.1h0m0.2 4.3h0m0.3-1.5h0m0.1-6.1h0m1-0.2h0m0.5 1.6h0m0 0.7h0m0.3-1.2h0m0.1 2.9h0m0-4h0m0.4 3.4h0m0.3-2.9h0m0.1 5.3h0m0.4 0.3h0m0.1-0.5h0m0-4.4h0m0 2.2h0m0.1 1.5h0m0.4 1.4h0m0.5-4.1h0m0.3 1h0m0.2 2.1h0m0.1-1.8h0m0.4-3.1h0m0.1 2.3h0m0.2 3.2h0m0.1-4.9h0m0.3 4.3h0m0.1-0.7h0m0.5-3.8h0m0.7 3.4h0m0.2-1.8h0m0 2.9h0m0.1-4.9h0m0.4 4h0m0.1 1.1h0m0.1-4.1h0m0.3-1.4h0m0.2 5.5h0m0.2 1.5h0m0.5-6.8h0m0.3 3.4h0m0.3 4h0m0-1.9h0m0.7-4.7h0m0.5 4.5h0m0.1 1.7h0m0.4-5.2h0m0.6 0.3h0m0.1 3.5h0m0-2.6h0m0.2 1.6h0m0.2-1.1h0m0.1-3.4h0m0.6 3h0m0.4 4.2h0m0.3-2.6h0m0.3-2.3h0m0.2 3.1h0m0.1-4.2h0m0.3 2.3h0m0.1 1.7h0m0.5 1.3h0m0.8-5.2h0m0.2 5.9h0m0.5-2.7h0m0.1 2.1h0m0.1-2.7h0m0.2-3.2h0m0.3 2.9h0m0 3h0m0-4.7h0m0.1-0.5h0m0.7 3.2h0m0.1 1.4h0m0-3.6h0m0.3-2.1h0m0.5 6.2h0m0.1-6.3h0m0.1 2.7h0m0.8 2.8h0m0.2-4.6h0m0 1.6h0m0.2 1.2h0m0.7 2.4h0m0.4-5.9h0m0.1 3.6h0m0.4-1.9h0m0.8-1.4h0m0.1 4.8h0m0.2 0.1h0m0.1-3.1h0m0.1 2.9h0m0.1 0.4h0m0.1-5.1h0m0.3 2.8h0m0.1-3.4h0m0.2 5.4h0m0.3-0.9h0m0.5-2.6h0m0.3-0.8h0m0.1 2.4h0m0.4-1.3h0m0.1-1.2h0m0.5 5.1h0m0.1-3.1h0m0.4 0.8h0m0.1-0.8h0m0.9-2.8h0m0.4 6.8h0m0-1.6h0m0.3-0.2h0m0.1-3.9h0m0 5.1h0m0-6.5h0m0 7.5h0m0-7.3h0m0.1 2.2h0m0.6-0.6h0m0.1 4.3h0m0.5-3h0m0-1.5h0m0.5 0.4h0m0 3.2h0m0.1 1.1h0m0-2.9h0m0.4-1.7h0m0.4 4.6h0m0.6-0.9h0m0.1-2.2h0m0.4-1.9h0m0 2.4h0m0.9 3.6h0m0-5.7h0m0.1 3.3h0m0 2.3h0m0.1-6.8h0m0.4 2.7h0m0.1-2.2h0m0 3h0m0.8 3.1h0m0.1-1.6h0m0.2-4.6h0m0 3.9h0m0.1 0h0m0.9 1h0m0.1-3.8h0m0.1 1.3h0m0.6 4.4h0m0.1-6.1h0m0 5.7h0m0.1-5.9h0m0 1.2h0m0.4-2.1h0m0.1 0.9h0m0.4 0.3h0m0.2 4.1h0m0.1-1.8h0m0 2.9h0m0.2-1.1h0m0.2-4.8h0m0.2 5.4h0m0.1-3h0m0.6-1.2h0m0.6-1.4h0m0.1-0.5h0m0 4.8h0m0.2-3.3h0m0.1 0.7h0m0.2 4.3h0m0.4-5h0m0.4 1.4h0m0.2 2.9h0m0.1 0.5h0m0.3-4h0m0.5 3.2h0m0.6-5.3h0m0.3-0.1h0m0.3 4h0m0.1-2.9h0m0.4 4.1h0m0.9 0.4h0m0-2.5h0m0.2 0.6h0m0.2-2.8h0m0.2 6h0m0.1-4.8h0m0-2.2h0m0 7.4h0m0.6-7h0m0.5 4h0m0.8-3.1h0m0.6 4.3h0m0-2.2h0m0.8-1.3h0m0.2 1.7h0m0.3 2.9h0m0-2.6h0m0.2 1.1h0m0.3-4.5h0m0-0.4h0m0.1 1.5h0m0.5 3.8h0m0.1-1.5h0m0 3.3h0m0.6-7.7h0m0.9 3.3h0m0.2-2.2h0m0.1 2.6h0m0.4-2.4h0m0 2.5h0m0.1 1.8h0m0.2-5.9h0m0.4 6.4h0m0.4-4.9h0m0.1-1.1h0m0.2 6.6h0m0.1-6.4h0m0.6 3.2h0m0.4-3.8h0m0.1 6.8h0m0.2-2.1h0m0.4-3.3h0m0.4 1.8h0m0.1 2.7h0m0.4-5.4h0m0.4 1.5h0m0.1 2.5h0m0 2.4h0m0.3-3.3h0m0.9-0.4h0m0 1.5h0m0.8 1.2h0m0 0.9h0m0.5-3h0m0 0.9h0m0.3-3.2h0m0.3 2.7h0m0.3 2.4h0m0.1-5.7h0m1.1 0.3h0m0.2 0.9h0m0.4 5.8h0m0.1-3.9h0m0.1 1.5h0m0.1 1.1h0m0.2-2h0m1-2.6h0m0.4 0.4h0m0.5-2.2h0m0.2 6.9h0m0.1-2.7h0m0.2 2.4h0m0.2 1.2h0m0.2-4.9h0m0.1-1.2h0m0.8 4.8h0m0.3-1.7h0m0.2-3.6h0m0.7 0.3h0m0.1 4.3h0m0.1-2.5h0m0.5 1.7h0m0.3-3.6h0m0 1.2h0m0.5-1.2h0m0.2-1.3h0m0.1 1h0m0 2.4h0m0.5 2.9h0m0.4-4h0m0.1 1.5h0m0.2-2.6h0m0.3 5.6h0m0-2.8h0m0.1 2.1h0m0.1-3.2h0m0.3 2.4h0m0.3 1.9h0m0-6.2h0m0.1 5.5h0m0-4.8h0m0.4 0h0m0.1 2.4h0m0.7-3.5h0m0 1h0m0.2 2.2h0m0.7 1.9h0m0.2-2.4h0m0.3 3.7h0m0-5.2h0m0.2-2.1h0m0 2.2h0m0.4 5.2h0m0.3-4.1h0m0.1 0.4h0m0.2 3.2h0m0.2 0.8h0m0.2-3.3h0m0.4-1.9h0m0.1 4.4h0m0.1-5.2h0m0 2.5h0m0.8 0.8h0m0 2h0m1.5-1.1h0m0.1-3.6h0m0.5 1.7h0m0.3 0.5h0m0.3 3.4h0m0.3-5.4h0m0.3-1.3h0m0.2 4.4h0m0.3-2.7h0m0.5 4.4h0m0.1-2.1h0m0 0.6h0m0.4-1.1h0m0-3.3h0m0.2 3h0m0.5-3.9h0m0.2 2.5h0m0.3 3h0m0.1 1.4h0m0.7-5.3h0m0-0.4h0m0.7 3.2h0m0.4-3.7h0m0.7 0.1h0m0 3.6h0m0.1-1.5h0m0-2.8h0m0.3 1.8h0m0.1 4.7h0m0.1-4.2h0m0.2-2h0m0.1 1.2h0m0.1 2.4h0m0.1 1.8h0m0 1.3h0m0.2-6.4h0m0 1.9h0m0-1.7h0m0.4 4.9h0m0.2-2.6h0m0.4-3.1h0m0.3 7.2h0m0.1-3.2h0m1.1-2h0m0 0.1h0m0.6 3.8h0m0.2-2.5h0m0.1 2.1h0m0.1 1.4h0m0-5.4h0m0.3-0.5h0m0 5.8h0m0.3-4.6h0m0.1 2.4h0m0.8 0.1h0m0.2-2.5h0m0.3-0.5h0m0 5.2h0m0.7-4.7h0m1.1 1.9h0m0.2-0.4h0m0.4-1.6h0m0 1.4h0m0.2-1.2h0m0.3-2.8h0m0.2 3.6h0m0.1-3.3h0m0.2 5.8h0m0.3-5.7h0m0.2 1.6h0m0.3 5.8h0m0.5-4.9h0m0.9 0.4h0m0.5 3.5h0m0.4-6.1h0m0 3.9h0m0.1-4.4h0m0 2.3h0m0.4 2.7h0m0.4-4.2h0m0 5.6h0m0.6-2.1h0m0.9-1.2h0m0.1-0.1h0m0.4-0.5h0m0.7 1.1h0m0.9-1.5h0m0.7 4.7h0m0.3-6.6h0m0.4 3.9h0m0.1-4.2h0m0.1 1.9h0m0.1 1h0m0.3-0.5h0m0.3 0.3h0m0.2 0.4h0m0.1-2.9h0m0.2 5h0m0.6-1.8h0m0.5 2.7h0m0.2 0h0m0.7-0.7h0m0.3-2.6h0m0.1-1h0m1.5-0.5h0m0.1 4.8h0m0.4-2.2h0m0.4-2.8h0m0.2-1.1h0m0.5 0.3h0m0.3 3.6h0m0.2 0.6h0m0-0.4h0m0.3-0.6h0m0.4-1.4h0m0.1 0.8h0m0.5 0.7h0m0.5-0.5h0m0.1 2h0m0.1-4.8h0m0.4 3.2h0m0.5-1.6h0m0.1 3.8h0m0.1 0.8h0m1-4.4h0m0 0.5h0m0.1-1.2h0m1.2 1.5h0m0.7 2.2h0m0.7-4h0m0.5-0.2h0m0.1 2.1h0m0.1-0.8h0m0.8-0.4h0m0.1-1h0m0.8 4.4h0m0.2-4.1h0m0.5 1.4h0m0.4 4.8h0m0.3-4.6h0m0.3-0.7h0m0.1 1h0m1 0.8h0m0.2-1.6h0m0.1 0.5h0m0.3 0.9h0m0.4-1.7h0m0.4 2.5h0m0.4-1h0m1.3 0.8h0m1.2-2.6h0m0.2 0.6h0m0.1-2.1h0m0 3.1h0m0.1-1.5h0m0.1 2.9h0m0.8 0.7h0m0.5-2.1h0m0.9-1.3h0m0.8 2.4h0m0.6-4.1h0m0.8 2.7h0m0.4 2.4h0m2.1-4.8h0m0.3 4.7h0m0.3-4.2h0m0.9 1.2h0m0.3 3h0m0.3-2.6h0m2.6 0.5h0m1.2-1.2h0m0 0.4h0m3 1.4h0m0.6-3.8h0m1.4 4.9h0m0.4-1.2h0m0-3.3h0m0.8 0.1h0m1 3.1h0m1.5-1.7h0m1.6 3.1h0m0.1 1.9h0m3.4-1.9h0m0.2-2.6h0m0.4-1.4h0m0.4 4.4h0m0.9-2.2h0m1.3 1h0m0.6-1.2h0m0.6 1.4h0m2.2-1.4h0m0.3-0.1h0m0.6-0.6h0m0.4 0.1h0m1.7 2.1h0m0.2-2.2h0m0 0.5h0m2.3 0.5h0m0.5 1.5h0m0.8 1.2h0m0.3-3.5h0m0.7 4.1h0m0.3-3.2h0m0.4-0.6h0m4.2 0.5h0m0-0.2h0m0.2 1.1h0m1.3 0.2h0m1.5-1.9h0m0.2-0.2h0m2.5-2.1h0m0.1 1.9h0m1.1 2.8h0m0.8-2.9h0m1.8 1.9h0m1.1-1.7h0m0.3 4.5h0m0.3-0.6h0m1.3-1.6h0m0.7 0h0m0.2-0.7h0m1.3-3.4h0m0.3 2.3h0m0.5 0.3h0m3-0.8h0m0.6 0.6h0m0.5 1.1h0m1.8 1h0m0-0.8h0m0.4 0.1h0m0.4 1.3h0m2.1 0.3h0m1.4-1.8h0m2.7-1.2h0m0.1 1.7h0m3.3-3.1h0m0.2 3.2h0m0.4-1.4h0m1.2-0.3h0m0-1.5h0m2.1 1.9h0m3.3 0.3h0m3.4 1.1h0m1 0.3h0m0.4-1.8h0m0.5 1.7h0m4.2-1.5h0m3.4 1.2h0m0-2.6h0m1.2 1.6h0m4.5 4h0m2.5-1.4h0m0.4-1.5h0m0.9-1.3h0m1.2-2.8h0m1.2 2.1h0m1.5 2h0m0.4-1h0m1.8-0.8h0m1.7 1.8h0m0.5-1.7h0m0.3-1.7h0m0.4 0.6h0m0.6 1.2h0m0.2 0h0m0-1.1h0m1.6 1.7h0m1.1-0.4h0m3.1-1.7h0m1.2 2.6h0m0.5 0.4h0m0-0.6h0m5 0.6h0m4-1.3h0m1.1-1.8h0m0.9 1h0m0.5 2.3h0m1.4-4.7h0m0.1 4.7h0m0.2 1.1h0m0-2.5h0m0.4 1.6h0m0.3-1.9h0m0.3-1.6h0m1.7 2.5h0m0.5-2.8h0m0.3 3.1h0m0.7-2.7h0m1.1 3h0m0.4-2.1h0m0.4 2h0m0.5-0.3h0m-383.8 4.5h0m0-0.5h0m0.1-0.3h0m0.9 0.7h0m0.5 0h0m0.5 0.1h0m0.8-0.1h0m0.2 0h0m1 0.9h0m0.3-0.9h0m0.2 0.9h0m1-0.4h0m0.1-0.6h0m0.3 1.1h0m0.2 0.6h0m0.4-0.9h0m0.3 1.4h0m0.1 0.1h0m0.1-0.3h0m0.1-2.2h0m0.2-0.1h0m0.5 2.4h0m0.5 0.6h0m0.1-0.8h0m0.1-1.4h0m0.2 2.1h0m0.4-1.5h0m0.5 2h0m0.1-0.9h0m0.2 0.9h0m0.8 0.2h0m0.4-1.6h0m0.1 2.5h0m0.3-1.8h0m0.2-0.3h0m0.3-0.4h0m0.8 3h0m0-0.5h0m0 0.1h0m0-0.8h0m0.5-0.9h0m0.1-0.5h0m0.2-0.4h0m0.1 3.5h0m0.6-0.3h0m0.5 0.4h0m0-0.2h0m0.3-0.6h0m0.5-1.5h0m0.3 3.3h0m0.1-0.6h0m0.5 0.5h0m0 0.2h0m0.8-0.1h0m0.4-2.3h0m0.5-0.4h0m0.1 1.3h0m0.6 1.8h0m0.4 0.3h0m0-2.2h0m0.1 2.5h0m0.7-2.1h0m0.1 0h0m0.5-1.4h0m0 3h0m0.3-1.7h0m0.8 1.7h0m0.2-0.6h0m2.2 0.7h0m0.4-1.4h0m1.1 1.2h0m0.2 0.1h0m0.8-0.6h0m4.2 0.9h0m36.7-0.5h0m0.1-1.1h0m0.5 0.5h0m0.3 0h0m0-5.7h0m0 1.4h0m0.9 3h0m0.5-0.9h0m0.3-3.3h0m0.1 6.8h0m0-7.7h0m0.7 2.7h0m0.2 2.5h0m1-3.6h0m0 3.7h0m0.5-2.4h0m0.1 3.3h0m0.2-4.6h0m1.4-0.9h0m0.1 4.3h0m0.1-0.6h0m0.2 0.8h0m0-1.9h0m0.5 2.7h0m0.1-2.2h0m0.5 2.1h0m0-5.6h0m0.1 6.5h0m0.1-1.6h0m0.2-3.1h0m0.6-0.1h0m0.3 3.8h0m0.6-4.4h0m0 0.1h0m0.2-0.7h0m0.1 4.1h0m0.1-2.2h0m0.4 1.2h0m0.5 1.7h0m0.2-2.6h0m0 3.9h0m1-4.9h0m0.3 3.4h0m0.3 0.3h0m0.1-2.1h0m0.3 2.3h0m0.3-5h0m0.3 0.5h0m0.2 1.1h0m0.4 1.6h0m0.2 1.3h0m0.7 2.2h0m0.1-5.2h0m0.5 0.8h0m0.1 3.5h0m0.2-0.4h0m0.7-2.5h0m0.1-2.1h0m1.3 4.6h0m0.1-4.4h0m0.2 0.3h0m0.5-1.5h0m0.2 1.3h0m0.5 1.1h0m0.8-1.2h0m0.2 4.9h0m0.3-6.7h0m0.4 3.4h0m0.4 0.4h0m0.7 0.1h0m0.4-2h0m0.5 2.8h0m0.1-4h0m0.5 6.8h0m0.5-0.2h0m0.2-2.7h0m0 0.9h0m0.5-1.9h0m0.7-3.2h0m0 0.9h0m0.6 4.5h0m0.8-5.5h0m0.1 3h0m0.3 2.9h0m0.4-4.1h0m1.3 2.7h0m0-4.4h0m0.3 0.1h0m0.4 5.4h0m0.4-5.1h0m0.7 3.5h0m0.3 0.9h0m0.6-2.9h0m0.1 4.4h0m0.8-0.1h0m0.1-6.2h0m0.4 0.5h0m0.2 0.8h0m0.2 0.1h0m0.1 5.5h0m0.1-6.4h0m0.3 1h0m0.3 2.9h0m0.3 0.9h0m0.6-6h0m0.2 1.7h0m0.6 5.4h0m0.6-4.5h0m0 0.1h0m0.6 1h0m0 1h0m0.2-4h0m2.9 0.9h0m0.7 0h0m1.5-1.4h0m0.1 0.2h0m0.3 7.5h0m0.3-4.8h0m0 0h0m0.7-3h0m0.1 6.2h0m0.3-3.4h0m0.2-0.8h0m0-1.1h0m0.3 3.1h0m0.3-0.9h0m0.2-1.3h0m0.1 0.4h0m0.2 2.4h0m1.3 1.8h0m0.8-4.5h0m0.5-0.3h0m0.9-1.6h0m0.3 1h0m0.2 0h0m0.3-0.8h0m0.5 4.5h0m1.9 0h0m0 2.7h0m0.1-6.2h0m1-0.9h0m0.5 1.6h0m0.3 3.2h0m0.7 0.5h0m0.5-3.8h0m0.2-0.6h0m0.7 1.9h0m0.2 1.5h0m0.5-0.5h0m0.1-4.2h0m0 7.6h0m1.8-1.1h0m0.3 0.4h0m0.3-6.5h0m0.1-0.2h0m0.2 0.9h0m1.4 2.3h0m0.1-1.8h0m0.1 2h0m0.9-2.6h0m0.2 0h0m0.7 2.1h0m0.3-2.8h0m1.5 1.9h0m0.3-1.4h0m0.3 4.1h0m0.5-4.6h0m2.2 0h0m0.4 3h0m0.6-2.9h0m2.2-0.3h0m0.4 3.7h0m0.7 3.1h0m1-2.6h0m0.2 0.7h0m0.7 3h0m0.1-4.1h0m1-1.2h0m0.3-2.4h0m0.2 7h0m0.9-2.6h0m1.3-2.9h0m1.4 0.2h0m0.9 0.3h0m0.6-2h0m0.5 4.2h0m0.2-2.7h0m1.1 2.4h0m2-4h0m0.1 0.3h0m2.2 4h0m0.3-2.7h0m0.7-1.4h0m0.4 0.5h0m0.6-0.8h0m2.9 1.1h0m1.2 0.6h0m0.8 1.6h0m0.6-1.1h0m0.7 5.6h0m2-5.9h0m0.3-1.5h0m1.2-0.3h0m0.2 2.2h0m1.1 2.6h0m0.9-1.6h0m0.6-2.4h0m0.5-0.7h0m1.6 0.7h0m2.5 5.6h0m0.1 1.1h0m2.7-6.9h0m1 4.8h0m2.2-3.5h0m1.4-2h0m0.7 0.3h0m0.7 1.9h0m0.7 0.6h0m1.3 3.9h0m1.7 0.2h0m0.7-6.3h0m0 3.3h0m0.3 2.6h0m0.1-2h0m0.5-3h0m0.4-1h0m1 1.8h0m0.4-2.3h0m2.8 0.1h0m2 1h0m7 3.8h0m0.2 0.9h0m1.6-1.3h0m3.5 1.1h0m3-5.3h0m1.4 1.4h0m0.7 0.2h0m24-0.3h0m1.3 4.8h0m8.6-1.3h0m9.2 0.1h0m36.3 0.7h0m86.1 0.8h0m-357.7 1.4h0m0.3 0.1h0m0.1 0.2h0m0.3 0.1h0m0.3 0.2h0m0.5-0.1h0m0.2-0.6h0m0.4 0h0m0.7 1.3h0m0.4 0.2h0m0.2-0.3h0m0.2 0.4h0m0.3-0.2h0m0.3 0.5h0m1 0.6h0m0.6 0.4h0m0.3-1.9h0m0.5-1.1h0m0.3 1.4h0m1 1.7h0m0.3 0.5h0m0.4-1h0m0.1 1h0m0.3-0.2h0m0.1 0.6h0m0.3-3.2h0m1.4 2.6h0m0 0.8h0m0.4 0.6h0m0.1-3.2h0m0.3 2.8h0m0.5-0.2h0m0 0.5h0m0.2-2.5h0m0.5 2.9h0m0.2 0.9h0m0.4-3.7h0m0.4 0h0m0.1 1.3h0m0 2.3h0m0.1-1.5h0m0 1.2h0m0.9-2.2h0m0 1.3h0m0.8-0.7h0m0.1 1.1h0m0 1.7h0m0.5 0.2h0m0.1-0.6h0m0.3-1.5h0m0.4 1.4h0m0.2 0.5h0m0.5-1h0m0.5-2.7h0m0.5 2.9h0m0.1-1.2h0m0-1.6h0m0.1 2.6h0m0.1 1.6h0m0.1-0.8h0m0.4 0.9h0m0.1-1.8h0m0.3 2.2h0m0.6-0.5h0m0-0.6h0m0.2-0.2h0m1-1.5h0m0 2.9h0m1.4-0.8h0m0.1-0.6h0m1-1h0m0.7 0.3h0m2 1.8h0m19.2-0.6h0m0.5-1.4h0m0.4-2.2h0m0.8 2.8h0m0.2-3.3h0m0-1h0m0.4 1.7h0m0.4-2.5h0m0.1 3.2h0m0.1-3h0m0.5 6.2h0m0-5h0m1 4.1h0m0.1-2.5h0m0.2 0.7h0m0.3-2h0m0.1-2.7h0m0.6 5.8h0m0.5-3.8h0m0.1 1.6h0m0.1 3.3h0m0.9 0.8h0m0.2-7.5h0m0.4 4.1h0m0.6-2.2h0m0.2-1.8h0m0 4.6h0m0.2-2.2h0m0.1 2.9h0m0.5-1.3h0m0.1-3.1h0m0.3 2h0m0.5-3.2h0m0.4 3.3h0m0.2-1.1h0m0.2 5.5h0m0.1-0.4h0m0.2-7.1h0m0.1 2.8h0m0.1-0.3h0m0.4 3.9h0m0.5-3.7h0m0.1 1.1h0m0.2 3.7h0m0.1-2.9h0m0.7-1.9h0m0 1.7h0m0.6-3.2h0m1.2 2.3h0m0.2-3.5h0m0.3 4h0m0.1-1h0m0.1 0.9h0m0 3.6h0m0.2-0.5h0m1.3-4.3h0m0.1 2.2h0m0.4-3.3h0m0.3-1.3h0m1.8 4.6h0m0.1 0.5h0m0.1-4.8h0m0.4 5.4h0m0.1-3.4h0m0.1 2.2h0m1.4-2.8h0m0.2 4.6h0m0.4-3.3h0m0.2 4.1h0m0.1-4.1h0m0.4-2.9h0m0.3 5.7h0m1-3.4h0m0.2-2.3h0m0.1 4.7h0m0.5-0.4h0m0.2 2.5h0m0.1-3.9h0m0.6-0.8h0m1.7 0.4h0m1.1 3.6h0m2.3-0.1h0m0.8-1.2h0m0.4-3.3h0m0.6-0.9h0m1.1 4.1h0m0.1 2.4h0m0.4-6.7h0m1.1-0.2h0m0.4 2.2h0m1.7 2.3h0m0.2 1.3h0m0.2-3.6h0m0.2-0.9h0m1.2 3.3h0m0.1-1.3h0m0.4 3.1h0m0.5-3.7h0m2-1.1h0m0.6-2.5h0m0.6 4.7h0m2.6-1.4h0m1.9 0h0m0.3-1.7h0m1.5-0.7h0m0.7 4.9h0m0-2.1h0m0.4-1.4h0m0.6 5.5h0m0.8-5.8h0m1.9 3.8h0m1.7-2.9h0m0 4.2h0m1.5-2.3h0m2.4-1.9h0m0.4-2.9h0m0.5 1.4h0m0.7 1.8h0m1.9 2.1h0m0.6-1.8h0m0.2 2.4h0m0-1.7h0m1.7-1.2h0m0.2-0.2h0m0.5-1.2h0m0.1 6h0m0.8-2.1h0m2.9 2.1h0m2.1-0.5h0m1.2-2.6h0m1.4 2.2h0m1.2-2.3h0m0.6 1h0m2.7-2.9h0m2.1-0.9h0m2.3 0.8h0m0.1 2.3h0m0.4-0.2h0m2.7-2.6h0m0.8-1.1h0m0.6 2.3h0m8.1-0.1h0m10.9-1.9h0m0.7 0.1h0m0 6.6h0m2.8-7.6h0m0.6 1.6h0m4 3.5h0m1.1-2.6h0m13.5 3.5h0m5.7-0.3h0m21.4-0.9h0m30.2-2.7h0m13.9 3.1h0m2.9 0h0m42.7-1h0m25.6 0.7h0m3.4 0.3h0m35.8-0.2h0m-337.8 3.6h0m1.8 0h0m0.7-0.8h0m0.1 1.6h0m0.5-1.4h0m1.3 0.7h0m0.2 1.2h0m0.8 0.6h0m0-0.5h0m0-1.5h0m0.7 1h0m0.5 0.4h0m0.7-1.1h0m0.1-0.7h0m0.2 0.8h0m0.1 2.6h0m0-0.8h0m0.3-1.2h0m0.1 2h0m0.5-0.1h0m0.1-0.3h0m0.6-1.2h0m0.5 1.8h0m0.4-2.3h0m0.4 2.4h0m0.1 0.2h0m0.1-0.6h0m0.6 0.2h0m0.2 1h0m0.7-4h0m0.7 1.4h0m0.3 2h0m0.6 0.2h0m0.2 1.1h0m0-0.7h0m0.1-1.7h0m0.1-0.2h0m0 2.5h0m0.2 0.2h0m0.2 0.3h0m0.5-0.3h0m0.4-2.5h0m0.5 3.5h0m0.4-0.2h0m0.3-0.8h0m0.5 1.1h0m0.3 0.6h0m0.1 0.2h0m0.4-3.7h0m0.3 3.6h0m0.2 0h0m0.3-0.4h0m0.1-1.5h0m0.2 1.3h0m0.2 0.5h0m0.1-1.1h0m1.1 1.4h0m0.5-1.3h0m0.2-0.1h0m0.5-1.9h0m2 1.2h0m0.4 1.2h0m0.6-0.5h0m0.2 1.6h0m0.2-1.6h0m0.3 1.6h0m0.1-6.1h0m0.1 3.6h0m0.5-1h0m0.4-2.5h0m0.1 0.8h0m0.3-2h0m0 0h0m0.8 5.2h0m0.1-3h0m0.5 1.4h0m0.2 2.3h0m0.9-0.5h0m0 1.5h0m0.2-6.5h0m0.1 1.9h0m0.2-2.3h0m0.7 4.5h0m0.7 2.1h0m0.3-4.4h0m0.3-1.6h0m0.4 0h0m0.4 0.3h0m0.1 5h0m0 1.3h0m0.2-7.4h0m0 3.7h0m0.2 0.1h0m0.4 1h0m0.3 2.6h0m0.2-6.5h0m0.5 5h0m0.3-5.8h0m0.2 2.6h0m0.5 2.2h0m0.4-4.3h0m0.1 1.7h0m0.1-2.2h0m0.4 4.2h0m0.1 1.8h0m0.1 0.5h0m0.8-3.9h0m0.4 4.1h0m0.4-2.4h0m0.1 0.2h0m0.2-4.3h0m0.2 2.9h0m0 0.6h0m0.2-2.1h0m0.2-0.2h0m0.7 5.2h0m0.3 0.7h0m0.9-6h0m0 5.1h0m0.1-0.9h0m0.7 0.7h0m0.6-3.5h0m0.3 2.4h0m0.6-1h0m0.1-2.8h0m1 5.4h0m0.2-1.3h0m0.1-3.8h0m1 1.4h0m0.6-3.3h0m0.9 0.7h0m0.5 2.6h0m0.4 2.7h0m0-0.4h0m1.1-0.5h0m0.2 0.7h0m0.1-3.8h0m0.7 0h0m0.1 0.9h0m1.9 4.5h0m0.4-6.5h0m0.5 3.9h0m0.2 1.6h0m2.1-5.4h0m1.4-0.7h0m0 4.6h0m0.6-1h0m0.8-1.4h0m0.2 4h0m0.2-5.7h0m0.7 2.3h0m0.1-3.1h0m1.1 5.4h0m0.2-4.4h0m0.2 5.1h0m0.7-1.9h0m0.8-1.4h0m0.7 4.6h0m0.1-2.1h0m1.4-2.1h0m0.8 1.1h0m0.7-1.3h0m0.2-3h0m0.2 5.2h0m0.3 1.7h0m1.2-5.7h0m0 3.2h0m2.7-2.6h0m0.2 2.7h0m2.3 0h0m0.1-2.8h0m0.1 5.2h0m0.7-1h0m0.6-2.4h0m0.2-2.8h0m1.3 1.4h0m1.1 3h0m0.7-2.2h0m0.1 1.6h0m1.2 1.9h0m3.4 0h0m0.3-3.3h0m1.4 0.5h0m0.8 3.9h0m1-6.7h0m0.6 0.1h0m0.6 0.9h0m0.7 0.3h0m1.3 1.4h0m2.5 0h0m0.5-2.7h0m1.9 2.2h0m5.4 3.2h0m0.3-4h0m1.6 2.7h0m15-4.1h0m0.8 2.3h0m1 3.8h0m1-5.6h0m1.6 3.2h0m0.4-0.2h0m5.1-4.6h0m0.8 2.6h0m0.6-0.7h0m0.5 0.8h0m6.9 2.1h0m2.3 1.6h0m2.7-0.6h0m2.2-4.2h0m0.5 2.3h0m2.9 2.9h0m0.5-4.6h0m0.2 2.5h0m0.1 1.1h0m1.7-3.8h0m2.7 0.4h0m7-1.3h0m0.9 4.3h0m6.7-1h0m4.2 0h0m7.9 2.4h0m47.1-1.5h0m30.7-4.2h0m12.7 1.1h0m8.4 0.9h0m2.2-0.9h0m39.1-1h0m-297.4 6.9h0m0.8 0.5h0m0.4 0h0m0 0.2h0m0.8 0.2h0m0.1-0.3h0m0.7 0.4h0m0.2 0.4h0m0 0.4h0m0.1-0.5h0m0.1 0.5h0m0.5-1h0m1.2 2.1h0m0.2-0.3h0m0.3-1.6h0m0.2 1.2h0m0.1-2h0m0.7 2.7h0m0.2-1.5h0m0.8 0.4h0m0.2-1.5h0m0.4 1.5h0m0.5 1.9h0m0.1-2.4h0m0.1 2h0m0.5-0.5h0m0-0.4h0m0.5-0.7h0m0.3 2.9h0m0.8-0.9h0m0.4 1h0m0-1.2h0m0.4-1.9h0m0.1-1.3h0m0.7 2h0m0.1-1.6h0m0.1 0.4h0m0.1 4.2h0m0.1 0.6h0m0.1-0.8h0m0.2 0.3h0m0.2-4.9h0m0.2 4.1h0m0.5 0.7h0m0 0.6h0m0.2-1.6h0m0-3.6h0m0.4 2.6h0m0 0.5h0m0.2-0.9h0m0.2 0.6h0m0.5 2.3h0m0.1-0.6h0m0.3-3.8h0m0 4.7h0m0.3-3.3h0m0 4.1h0m0.1-6.6h0m0.1 5.9h0m0-0.5h0m0-1.4h0m0.1 2.2h0m0.6-4h0m0.1 2.3h0m0.1-1.3h0m0.1-1.8h0m0.3 0.3h0m0.3 5.3h0m0-6.8h0m0.2 4h0m0.1 2.7h0m0.2-3.2h0m0.1 3.9h0m0.6-5.2h0m0.1-0.2h0m0.3-1.9h0m0.1 6.7h0m0.2-2.3h0m0.1-1.2h0m0.4-0.8h0m0.2 4.9h0m0-1.8h0m0.2 1.2h0m0 0.4h0m0.8 0.1h0m0.1-4.8h0m0.2 0h0m0.1 2.6h0m0.3-4.9h0m0.4 4.5h0m0 1.3h0m0.2-2.5h0m0.1-3.2h0m0.2 5.1h0m0.1-0.8h0m0-0.3h0m0.5-0.3h0m0.1-1.8h0m0.1 4.3h0m0.1-0.3h0m0.3 1h0m0.2-3.5h0m0.3-0.2h0m0.2-1.9h0m0.1 2.3h0m0-2.5h0m0.3 4.6h0m0.1-2.2h0m0.4 1.2h0m0.2 1h0m0 0.6h0m0.6-2h0m0.3 2.1h0m0.4-1.9h0m0.5 0.3h0m1.3 0.6h0m0.3 1h0m0.3-3.2h0m0.4-3.3h0m0.1 5.7h0m0.4 0.5h0m1.1-1.9h0m0.3-1.3h0m0 3.7h0m0.4-0.5h0m0 0.9h0m0-6.3h0m0.1 1.8h0m1-0.2h0m0.1 0.5h0m0.3-0.7h0m2.2 3.1h0m0.1-2.1h0m0.1-3h0m0.7 4h0m1.9 2.5h0m0.1-7.4h0m0.6 3.2h0m0.3-2.6h0m0.1 6.9h0m0.3-0.6h0m0.6-1.5h0m0-2h0m0.7 1.7h0m0.7-3h0m2.3 1.8h0m0.1 0.4h0m1.9-2.8h0m0.5 1.9h0m0.6-2h0m1 3.4h0m0.2-4.3h0m0.2 6h0m0.2-2.6h0m2.1-3.6h0m0.5 0.7h0m0.2 6.6h0m0.2-6h0m0.2 0.2h0m1.7-0.8h0m0.3 2.2h0m0.6 3.8h0m0.9-3.2h0m0.3 1.4h0m0-4.8h0m2.1-0.2h0m0.9 2.5h0m1.4 1.1h0m1-0.5h0m0.3-1.6h0m0.9 5.2h0m0.5-2.4h0m1 1.3h0m1.5-3.5h0m1.9 3.6h0m0.8-3.9h0m0.6 1.9h0m1.1 0.9h0m1.6-3.3h0m0.5 2.6h0m0.5-0.2h0m0.8 0.4h0m0.4-3.2h0m0.4 3h0m0 3.5h0m0.3-6.4h0m0.5 2.1h0m1.6 2.4h0m1.4-1.1h0m0.6-0.2h0m1.6 2h0m0.5 0.6h0m0.6-4.8h0m0.4 1.8h0m3.7 1.4h0m4.4 0.8h0m1.7 1.3h0m0.9-4.5h0m0.4 3.3h0m0.7 0.2h0m1.5-3.4h0m1.6 3.5h0m7.5-3h0m0-2.2h0m0.9 6.2h0m0.1 0.3h0m4.6-1.1h0m5.8 0.2h0m0.4-1.4h0m0.2-1h0m2.4-1.9h0m2.7 2.5h0m2.3-2.2h0m1.4 3.5h0m0.2-1.5h0m0.5 2.1h0m1.5 0.8h0m1.6-6.2h0m4.7 3.2h0m6.4-2.3h0m1.5 4.4h0m1.7-3.6h0m0.3-2h0m5.2 3.4h0m12.7-2.1h0m2.3 2.7h0m10.6-5h0m10 0.5h0m22.1 2.5h0m16.6 0.2h0m27.1 1.1h0m16.8 2h0m5.7-0.7h0m-252 2.4h0m0.5 0h0m0.5 0.2h0m0.8-0.2h0m0.2-0.4h0m0.1 0.2h0m1 1.6h0m0.1 0h0m0.3-1.5h0m0.3 0.1h0m1.5 0.9h0m0.4 1.4h0m0.3-1.6h0m0.3 1.5h0m0.5-1.8h0m0.4 1.2h0m0.3 0.7h0m0.4 0.2h0m0.6-0.2h0m0.7-2.1h0m0 3.1h0m0.4-2.7h0m0.3 1.7h0m0.5-0.5h0m0.2 2.4h0m0.1 0.3h0m0.5-0.8h0m0-3.6h0m0.3 4.3h0m0.2-3.4h0m0.3-1.4h0m0.7 2.5h0m0-2.2h0m0.4 5.1h0m0.1-1.8h0m0.3 2.1h0m0.1 0.2h0m0.5-5.4h0m0.1 3.2h0m0.3 1.7h0m0.1-4.6h0m0.1 3.6h0m0.4 1.2h0m0-0.2h0m0.7-4h0m0.2-0.1h0m0.1 2.8h0m0.2 2.3h0m0.1-5.4h0m0.4 5.8h0m0.2-0.6h0m0.4 0.5h0m0.2-4.6h0m0.1 4.6h0m0.2-1.4h0m0.2-1.9h0m0.5 3.2h0m0.2-4.5h0m0.3 1.4h0m0 3.9h0m0.1-3.3h0m0 3.3h0m0.4 0.3h0m0.1-5.4h0m0.1 5.5h0m0.6-2h0m0 2.1h0m0-6.4h0m0.1 0.1h0m0.4 3.8h0m0.2-4h0m0.2 1.8h0m0 0.3h0m0 0.3h0m1-0.4h0m0 2.1h0m0.4-2.2h0m1.1-0.5h0m0-1.7h0m0.2 2.9h0m0 2.5h0m0 0.8h0m0.1-7.2h0m0.2 3.3h0m0.3 0.7h0m0 3.4h0m0.7-2.5h0m0.2 0.7h0m0.3-0.5h0m0.2 1.7h0m0-3.3h0m1.2 1.7h0m2.1 1.6h0m0-0.7h0m0.5-0.2h0m0.9 1.8h0m0.6-0.6h0m0.4-7.1h0m0.2 7.1h0m0.2 0.4h0m0-0.2h0m0.1-0.3h0m0.4 0.4h0m0.4-1.2h0m0.4-3.6h0m0.2 2.1h0m0.8-1.3h0m0.5-0.1h0m0.8-1h0m3.4 1.2h0m0-0.3h0m1.4 1.6h0m0-3h0m1-0.6h0m0.3 6.2h0m1-0.9h0m1.3-1h0m0.2 1.7h0m0.3-2.7h0m2 1.4h0m0.5-0.3h0m0.5-3.6h0m1.8 0.2h0m1.6-2.3h0m0.6 4.3h0m0.7 3.4h0m1.4-5.5h0m1.2-0.2h0m0.2 5.6h0m0.2-1.1h0m4.1-6.6h0m0.5 3.1h0m2.2 0h0m0.7-2.1h0m1.5 2.9h0m0.9-2.3h0m1 4.2h0m0.7 0.3h0m2.1-5.7h0m0.2 2.2h0m1 2.7h0m0.3 0.7h0m1.2-5.2h0m0.6 0.8h0m1.3 5.8h0m6.1-2.2h0m2.4-1.3h0m0.1-1.8h0m0.7-0.1h0m3 1.1h0m0.2-2.1h0m1.5 0h0m1 5.6h0m6.3 0.8h0m0.6 0.6h0m0.3-3h0m0.6-0.8h0m2-1.3h0m0.8 4h0m0-6.7h0m0.2 6.5h0m0.5-1.9h0m4.8 2.4h0m0.1-6h0m0.3 1.9h0m0.4 1.2h0m0.1-0.7h0m0.1 3.2h0m1.2-0.6h0m0.3-2.9h0m3.4-0.1h0m0.9 4.4h0m0.5-3.4h0m0.6-1.9h0m6.5 3.1h0m2.8-1h0m1.3-1.6h0m5.3-0.1h0m3.1 1.2h0m2.4-2h0m1.7 4.6h0m2.3-3h0m17.7 4h0m5.2-2.8h0m32.4 2.5h0m29.5-4.5h0m2.1 2.8h0m13-1.4h0m6.7 2.8h0m21.9-2.6h0m-245.3 4.1h0m0.8-0.2h0m0.1 0.2h0m0.3 0.1h0m0.8-0.5h0m0.3 0.2h0m0.1 1.5h0m0.6 0.2h0m0.3-1.2h0m0.6 1.2h0m0.6-0.2h0m0.4-0.1h0m0.3 0.2h0m0.4 1h0m0-2.8h0m0.2 2.7h0m0.7 0h0m0.7-0.7h0m0.1-2h0m0.4 3.3h0m0.3-0.6h0m1.3-0.2h0m0.1 1.1h0m0.5 0.9h0m0.1-1.7h0m0.1 1.7h0m0.1-0.6h0m0.2-2.8h0m0.3-0.2h0m0.2 4h0m0.3-4.3h0m0 1.5h0m0.2 2.8h0m0-3.3h0m0.4 2.4h0m0.3-3.7h0m0.6 3.3h0m0-3.4h0m0.1 2.1h0m0.1 3.6h0m0-0.5h0m0.5-4h0m0.3 0.7h0m0 3.2h0m0.1-4.5h0m0.3-0.5h0m0.2 5.2h0m0.1-2.6h0m0.4-1.4h0m0.3-0.1h0m0 2.6h0m0.5 3h0m0.4-4.4h0m0 4.4h0m0.3-3.3h0m0.2-2.7h0m0.2 4.1h0m0.4-2.1h0m0.3-0.1h0m0.2-0.1h0m0.1 4.8h0m0-3.9h0m0.4 4h0m0.3-2.6h0m0 0.8h0m0.3-1.2h0m0.2-1.9h0m0.1-0.6h0m0.1 3.9h0m0.4-2.4h0m0 3.7h0m0.2 0.5h0m0.5-0.6h0m0.3-1.5h0m0.1-2.5h0m0.5 4.6h0m0.1-3.8h0m0.8-2.7h0m0.2 2.8h0m0.1 3.6h0m0.1-2.4h0m0.5 2.4h0m0-3.5h0m0.2-0.2h0m0.1 3h0m0.4-2.6h0m0.2-0.3h0m0.1 2.4h0m0.4-5.4h0m0.6 5h0m0.2-1.1h0m0.2 2.3h0m0.1-1.8h0m0.1 1h0m0 0.3h0m0.5-5.1h0m0 5.4h0m0.1-1.8h0m0.4 0.8h0m1-4.1h0m0.2 0.7h0m0.1 3.3h0m0 0.6h0m0.2-0.1h0m0.2 0.4h0m0.8-4h0m0.1 3.9h0m0.2 0.6h0m0.1-6.2h0m0.4 6.7h0m0.7-1h0m0.3-2.1h0m1.1 2.6h0m0.3-0.4h0m1.5 0.5h0m0.2-1.3h0m3.5-5.1h0m0.1-0.4h0m2.5 6.8h0m0.5-6.6h0m0.3 4.1h0m0-0.8h0m0.4-2h0m1.2 4.5h0m0.8 0.3h0m0.7-4.3h0m2.4 3.4h0m0.3 1.2h0m3.3-7.3h0m0.4 6h0m1.6 1.6h0m1.5-1.6h0m1.2-1.7h0m1 2.7h0m0.5-0.6h0m0.5-4.1h0m0.3 4.9h0m0.2-0.9h0m0.3-0.4h0m0.2-3.1h0m0.2 3.9h0m3.6 1.1h0m6.6-0.2h0m1-1.6h0m1.7-3.5h0m2.1-0.7h0m1.4 4.3h0m1.9-3.2h0m1.9-2h0m4.5 0.4h0m0.4 3.5h0m0.2-0.7h0m0.2-3.1h0m0.4 2.3h0m0.1-3.1h0m0.3 5.1h0m1.7-3.5h0m1.8 1.6h0m0.8 3.3h0m3.9 0.6h0m6.5-4.3h0m1.9 4.2h0m10.7-6h0m15.2 2h0m11.1-1.4h0m16.6 5.5h0m4.4 0.4h0m35.4-6.3h0m18 1.8h0m9.7-2.5h0m15.7 2.6h0m22.3-3.3h0m-238.7 8.4h0m0.8 0.4h0m0.6-0.7h0m0.3 1.4h0m0.1-0.5h0m0.3-0.3h0m0.4 0.4h0m0.4 0.8h0m0.3-0.1h0m0.1-0.9h0m1.5 1.6h0m0.5 0h0m0-0.2h0m0.5 0.2h0m0.4-1.6h0m0.4 2.8h0m0.5 0.1h0m0-0.2h0m0.3-1.4h0m1.5 0.2h0m0.5 0.9h0m0.3-2.7h0m0.1 4.2h0m0.3-3.5h0m0.3 3.2h0m0.1-2.6h0m0-1.9h0m0.2 4.6h0m0.6-4.4h0m0 0.3h0m0.7 4.1h0m0.2-3.7h0m0 3.9h0m0.1-0.9h0m0.1-2.6h0m0.5 2.1h0m0.3-2.4h0m0.1 3.4h0m0.6-0.9h0m0.2-1.6h0m0.1-1h0m0 4.9h0m0.3 0.7h0m0.6-0.5h0m0.2-4.8h0m0.6 5.2h0m0.1-5.4h0m0 5.2h0m0.2-4.9h0m0 1.9h0m0.1-2.2h0m0.1 3.1h0m0.1 2.2h0m0.2 0.1h0m0.1-1h0m0.2-3.3h0m0.5 5.5h0m0.7-4.9h0m0.5 0.9h0m0.2 2.3h0m0.1 1.9h0m0.2-4.1h0m0-3.3h0m0.1 3h0m1 1.6h0m0.4 2h0m0.3-3.4h0m0.1 3.6h0m0.1-4h0m0.1-0.3h0m0 2.8h0m0.3 1.9h0m0.3-1.4h0m1.3-1.9h0m0 3.2h0m0.2-4.4h0m0.2 2.7h0m0.8 1.1h0m0.1-2.4h0m0.9-0.7h0m0.3 1.5h0m0.8 2h0m0.3-1.3h0m0.5 1.6h0m0.8-1.4h0m0.4-2.7h0m0.2 4.2h0m0.4-5.4h0m0.5 5.4h0m0.5-0.2h0m0-0.3h0m0.5 0.1h0m0.1-3.8h0m0 3.7h0m0.5 0.6h0m0.5-4.6h0m1.5-2h0m3.8-0.4h0m1.5 5h0m1-4h0m3.2 3.4h0m0.8-0.1h0m1.6-4.5h0m0.3 2.5h0m0.8 4.6h0m0.6-0.9h0m1.7-0.6h0m1.5-3.8h0m5.2-0.7h0m0.5-0.3h0m2.1 0.5h0m1.2 2.8h0m1-3h0m0.9 5.5h0m0.5-2.4h0m2.6 0.9h0m6.1-2.8h0m9.3 1.5h0m7.9-1.6h0m0.3 4.4h0m4.5-6.3h0m0.9 2h0m1.7 4.7h0m5.3-6.4h0m27.1 3.7h0m33.3 2.7h0m27.5-5h0m4.9 2.5h0m47.6-1.2h0m-219.3 4.9h0m0.7-0.2h0m0.4 0.3h0m0-0.8h0m0.3 1.4h0m0.2-0.1h0m0.7 0.3h0m0.4-0.4h0m0.6 0.5h0m1-1.7h0m0.5 1h0m0.8 0.8h0m1 1.4h0m0.3 0.3h0m0.4 0.2h0m0.2-2.7h0m0.1 2.1h0m0.1-1.1h0m0.3 1.5h0m0.1-0.5h0m0.3 0.5h0m0.4-3.7h0m0.7 0.2h0m0 0.7h0m0.1 3.2h0m0.1 0.1h0m0.2-1h0m0-3.2h0m0.4 3.1h0m0.1 0.6h0m0-3.2h0m0.1 3.6h0m0.1-0.8h0m0.1 1.5h0m0.5-3.1h0m0.4 3.2h0m0.1-4.7h0m0.1 4.7h0m0.3-4.5h0m0.1 1.9h0m0.2 3.3h0m0.1-3.9h0m0.2-0.9h0m0.1-0.3h0m0 1.1h0m0.4-1.5h0m0.6 0.9h0m0.1 3.3h0m0.4 0.2h0m0.3-1.9h0m0.1-1.6h0m0.1 5.6h0m0.2-5.5h0m0.2 4.2h0m0.7-3h0m0.4 0.9h0m0.3-0.6h0m0 3.3h0m0.2 0.7h0m0.6 1.1h0m0.2 0.1h0m0.1-5.3h0m0.1 0h0m0.3 0.5h0m0.3 1.1h0m0.4 2.4h0m0.1-0.5h0m0.6-0.4h0m0.2 0.8h0m0.2-2.9h0m0.3-0.4h0m0.3 0h0m0.1 3.3h0m0.2-2.6h0m0.3-0.1h0m0.7 0.6h0m0.1 3.6h0m0.5-3.4h0m0 2.3h0m0.4-2.6h0m0.2 0.4h0m0.6 1.3h0m0.4 0.2h0m1.2-0.6h0m0.2 2.1h0m0.2-2.5h0m0.3 2h0m0.2-0.3h0m0.2-0.1h0m0.4 0h0m0.2-1.5h0m0.3 1.7h0m0.4-0.9h0m0.5 0.4h0m0.5 1.2h0m0.2-0.5h0m0.2 0h0m1.1 0.2h0m0.5 0.3h0m0.2-5.2h0m0-2.2h0m1.4 5.7h0m0.8-0.9h0m1.4-2.9h0m2.7 5.4h0m0.2-0.1h0m4.9-6.3h0m0.5-0.5h0m1.4 7.4h0m0.3-2.4h0m0.4-4.8h0m1.6 6.7h0m8.9-3.7h0m7.5 1h0m18.8-3.5h0m3.2 6.3h0m0.9-6.4h0m55.5 1.4h0m34.8-0.8h0m-156.1 6.7h0m0.7-0.1h0m0.8-0.1h0m0.5 0.6h0m1 0.3h0m0 0.7h0m0.1-0.4h0m0.5-0.4h0m0.5 0.3h0m0.4-1.3h0m0.1 0.5h0m1.1 2.2h0m0.4 0h0m0.4-2.3h0m0.7 2h0m0.1-0.2h0m0.6-0.4h0m0 2h0m0.4 0.1h0m0.1-3.3h0m0.4 2.9h0m0.6-0.5h0m0.3 0.7h0m0.8 1.2h0m0.4-0.5h0m0.3-3.7h0m0 1h0m0.5-1.7h0m0.5 0.9h0m0.2 2h0m0.5 1.9h0m0.2-2.5h0m0-1.9h0m0.3-0.5h0m0.1 5.1h0m0.1-0.2h0m0 0.7h0m0.1 0.3h0m0.2-0.6h0m0.3-2.5h0m0.6-1.7h0m0.1 3.6h0m0.5-3h0m0.3 4.8h0m0.3-5.5h0m0.1 2.8h0m0.1 3.1h0m0.4-3.3h0m0.2 1.8h0m0-3.3h0m0.2 3.5h0m0.3 1.1h0m0.4 0.3h0m0-4.8h0m0.3 4.8h0m0.6-3.8h0m0.1 0.6h0m0.2 3.5h0m0.3-5.9h0m0 6.5h0m0.1-5.7h0m0.1 4.2h0m0.1 0h0m1-5.3h0m0.1 5h0m0.1 1.7h0m0.4-2.9h0m0.2-3.1h0m0 2.6h0m0 1.1h0m0.4-2.6h0m0.1 1.8h0m0.1 0.1h0m0.4 0.9h0m0.6-1.6h0m0 3.7h0m0.3-1.7h0m0.3 1.7h0m0.2-3.6h0m0.5 0.2h0m0.2-0.1h0m0.1 1.6h0m1.1 1.5h0m0.4-1.6h0m0.2-0.4h0m1.3 2.2h0m0 0h0m0.5 0.1h0m0.5-1.6h0m0.9 0.2h0m1.5 0.9h0m0 0.2h0m0.4-5.5h0m0.7 5.2h0m0.3 0h0m6.9-2.7h0m2.1-2.8h0m2.2-0.3h0m29.1 1.6h0m7.9-2.1h0m19.2 2h0m34.5 2.9h0m4.5-5.4h0m7.7 4.1h0m1.8 0.1h0m9.3 1.2h0m1.7-2.6h0m33.3 3.1h0m15.8-2.8h0m-187.3 5.5h0m0.8 0h0m1.4-0.9h0m0.6 1.8h0m0.5 0.2h0m0.1-2h0m0.5 1.9h0m1.4 0h0m0.1 0.1h0m0.3-0.2h0m0.5 0.4h0m0.6-0.6h0m0.2-1.6h0m0.2 0.5h0m0.4 3.1h0m0 0.3h0m0.3-1.4h0m0.1 0.8h0m0.5 0.1h0m1.1-2.6h0m0.7 2.9h0m0.4 1.2h0m0.3-3.8h0m0 2.7h0m0.1-1.4h0m0.1 0h0m0.1 2.3h0m0-3.9h0m0.7 0.3h0m0.1 0.3h0m0 1.9h0m0.4-1.5h0m0.1 0.2h0m0.4 2.5h0m0.2 1.4h0m0.6-4.4h0m0.1 0.6h0m0.1-0.7h0m0 2.6h0m0.1 1.9h0m0-4.7h0m0.1 3.6h0m0.7-3h0m0.5 1.3h0m0.3 2.7h0m0-4.6h0m0.3 1.7h0m0.1-1.8h0m0 0.5h0m0.4 5h0m0-1.3h0m0.3 0.9h0m0.3-4.2h0m0.1 1.5h0m0.1 1.6h0m0.3 1.6h0m0-3.4h0m0.2 0.5h0m0.3 2.2h0m0-3.7h0m0 2.8h0m0.4-4.9h0m0.1 3.5h0m0.2 3.8h0m0.1-4.3h0m0 4.2h0m0.7-4h0m0.3 1.6h0m0 2.4h0m0.2 0.6h0m0.6-4.9h0m0.1 0.6h0m0.3 1.5h0m0.1-1.7h0m0.1 1.6h0m0.1 2.6h0m0.5-3.6h0m0.2 1.1h0m0.1-0.7h0m0.3 0.5h0m0.6 2.1h0m0.4-1.3h0m0.7 0.8h0m0.6-1.2h0m0.8 2.3h0m0.1-1.8h0m0.6-0.7h0m1.1 0.9h0m0.4 0.1h0m0 1.6h0m1.7-1.3h0m0.3 1.3h0m0.5-0.7h0m0.2 0.2h0m0.5 0.1h0m0.5-0.4h0m8.2 0.4h0m28-6.4h0m7.8 4.8h0m45 0.3h0m26 0.8h0m12.3-3h0m5.1 0.4h0m-142.3 3.8h0m0.4 0.6h0m0.4-0.2h0m0.9 0.1h0m0.3 0.6h0m0.3 0.4h0m0.9 0.4h0m0.3-0.2h0m0-1.2h0m1.2 1.9h0m0.3-0.9h0m0.2 1h0m1.8 1.3h0m0.2-2.1h0m0.9 1.7h0m0.9-0.2h0m0.5-2.9h0m0.2 0.5h0m0.3 3.8h0m0.2-1.6h0m0.2 0.4h0m0.4 1h0m0.1 0.3h0m0.2-4.6h0m0.1 4.5h0m0.1 0.1h0m1-3.2h0m0.2 4.2h0m0.1-5.6h0m0.2 0.6h0m0.1 2.7h0m0.1-1.4h0m0 3.6h0m0.4-4.2h0m0.1 0.8h0m0.3 0.4h0m0.2-1.2h0m0-0.4h0m0.3 4.4h0m0.7-3.3h0m0.3 0.1h0m0.1 1h0m0.3 2.5h0m0.2 0.4h0m0.1 0.4h0m0.4-3h0m0.1-1.2h0m0 3.8h0m0-1.4h0m0.3-2.4h0m0.2 5.5h0m0.2 0.1h0m0.1-5.8h0m0 5.8h0m0.1-1.7h0m0.4-3.4h0m0.2 0.3h0m0.9 2.2h0m0-1.2h0m0.8 3.4h0m0.5-3.7h0m0.3 0.6h0m0.1 0.2h0m0.6 1.6h0m0.2-1.7h0m0.7 0.7h0m0.2-0.7h0m0.1 0.6h0m0.3 2.2h0m0.3-1.7h0m0.5 0h0m0 0h0m0.6-0.1h0m0.6-0.6h0m0.7 2.7h0m0.3-1h0m0.3 0.1h0m0.3-0.4h0m0.6 0.6h0m0.5-0.2h0m2 0.2h0m0.7 0.1h0m0.6 0.9h0m2.6-3.7h0m19.6-3.4h0m12.3 2.5h0m29.7 1.7h0m9.1-0.9h0m50.6-3.6h0m1.8 2h0m-136 5.6h0m0.2 0.4h0m0.9 0.4h0m1.1-0.6h0m0.2 0.1h0m0.5 0.4h0m0.5 1h0m0.3-0.3h0m0.8 0.4h0m0.1-0.3h0m0.2-0.1h0m1.2 0.4h0m0 0.8h0m0.4 0h0m0.3-1.1h0m0 1.3h0m0.6-0.3h0m0.2 0.6h0m0.2-0.1h0m0 0.7h0m0-0.1h0m0.6-3.3h0m0.1 2.5h0m0.3 0.5h0m0.6 0.5h0m0.7-2.5h0m0.6 2.2h0m0.2-2.7h0m0 1h0m0.1 2.4h0m0.4-1.5h0m0.3 2h0m0-0.6h0m0.1-3.7h0m0.4-0.1h0m0.7 4.1h0m0.2 1h0m0.1-0.5h0m0.1-1.3h0m0.1 1.9h0m0.2-4.3h0m0.3 3.6h0m0.2-2.9h0m0.2-0.8h0m0.1-0.3h0m0 2.3h0m0 0.5h0m0.2-1.7h0m0 3.9h0m0.1-4.7h0m0.4 3h0m0.2 1.6h0m0.1-4.4h0m0.2-0.1h0m0.3 3.9h0m0.4 1.6h0m0.1-0.9h0m0-3.2h0m0.1 1h0m0.2-0.9h0m0-0.7h0m0.3 0.1h0m0.1 1.3h0m0.1 2.2h0m0.1 1.1h0m0.3 0.6h0m0.4-2.4h0m0.5 0.1h0m0.2 2.2h0m0.2-4.3h0m0.3 0.1h0m1 0.4h0m0.2 2.6h0m0.2-1.4h0m0.1 1.7h0m0.2-1.2h0m0.3 1.6h0m0-1.7h0m0.2 2.4h0m0.4-2.7h0m0.5-0.2h0m0.2 2.1h0m0 0.9h0m0.5-1.8h0m0.6 1.9h0m0-2.7h0m0.8 2.4h0m0.4-2h0m1.1 0.7h0m0.2 0.5h0m0.7-0.3h0m0.1 1.1h0m0.7-1.5h0m1.7 1.1h0m0.3 0.2h0m0.2 0h0m22.5-7.1h0m4.2 5.1h0m4.8 1.9h0m30.1-3.8h0m11.8 3.1h0m23.1-1.5h0m7.9 1.2h0m-112.3 2.4h0m1.9-0.6h0m0.1 1.8h0m0.3 0.2h0m0-0.2h0m0.4 0.1h0m0.4-0.2h0m0 0.2h0m0.4-0.4h0m0.3 0.9h0m0.2-1.2h0m0.6 1.4h0m0 0.1h0m0.2-0.1h0m0.3 0.3h0m1.1-2.6h0m0.2 0.9h0m0.1 0.8h0m0.4 0.6h0m0.9-1h0m0.5 1.5h0m0.2-2.9h0m0.3 1.4h0m0.2 2h0m0.1 0.5h0m0 0.6h0m0.5 0h0m0.5-0.3h0m0-3.9h0m0.2 2.7h0m0-1h0m0.3-1.4h0m0.1-0.4h0m0.2 3.7h0m0-0.5h0m0.4 0.7h0m0.5 1.6h0m0.1-4.8h0m0.2 4.8h0m0.1-3.1h0m0.1-1.8h0m0.2 3.2h0m0.9 1.7h0m0.1-4.7h0m0.1 2.8h0m0.5 0.1h0m0.3-1.2h0m0.3 1.1h0m0.2 2.8h0m0.5-2.5h0m0.1-2h0m0.4 3.5h0m0.3-2.7h0m0.1 0.6h0m0.1 1.8h0m0.7 2.1h0m0.3 0.3h0m0.4-4.7h0m0 3.3h0m0.2 0.3h0m0.1-3.2h0m0.2 3.8h0m0.6-2.9h0m0.4-0.3h0m0.9 1.2h0m0.6-0.3h0m0.1 2.6h0m0-0.8h0m0.3 0.8h0m1.3-1.6h0m0.1 1.1h0m0.2-2h0m0 1.3h0m0.1 0.2h0m0.8-0.7h0m1.3 0.3h0m0.7 0.7h0m0.5-0.8h0m0.4 0.4h0m1.5 1h0m0.3 0h0m12.7-2.5h0m61.3-0.5h0m-80.3 4.9h0m0.9 0h0m0.2 0h0m0.2-0.8h0m1.1 1h0m0.4 0.6h0m0.4-0.3h0m0.4-2h0m0 2.4h0m0.2 0.6h0m0.4 0h0m0.2-2.9h0m0.3 2.2h0m0.9 0.9h0m1-3.1h0m0.2 1.8h0m0.1-1h0m0.2 2h0m0.2-0.3h0m0.3 1.6h0m0.1-3h0m0-0.2h0m0.3 0.3h0m0.2 1.6h0m0.1 1.2h0m0.2-3.4h0m0.4 1h0m0.2-0.7h0m0 2.9h0m0.4-3.9h0m0.2 4.5h0m0.5-2.3h0m0.5-1.1h0m0.2 2.4h0m0.2 2.3h0m0-4.5h0m0.5 3.3h0m0.2 1.3h0m0.5-3.4h0m0.3-0.2h0m0.2 0.5h0m0-0.6h0m0.4 2.5h0m0 1.2h0m0.4 0.6h0m0.1-0.8h0m0.5-3.6h0m0.1 3.7h0m0-2.7h0m0.1-0.9h0m0.2-0.1h0m0.2 0.9h0m0.1 4h0m0-2.8h0m0.8 3.3h0m0-4.4h0m0.4 4.6h0m0.2-4.5h0m0.1 3.9h0m0-2.2h0m0.5 1.8h0m0.1 0.1h0m0-2.8h0m0.5 3h0m0.2-0.2h0m0-1.5h0m0.4 1.3h0m0.1 0.6h0m0.5 0.2h0m0.1-2h0m0.5-0.5h0m0.3 3h0m0.4-2.8h0m0.3 1.3h0m0.5-1h0m0.1 2.3h0m0.1-2.3h0m0.4 0.2h0m0.3 0.6h0m0.5 0.3h0m0.5 1h0m0.6-1.2h0m0.3 1h0m0.8-1.2h0m0.9 1.7h0m0.8-0.7h0m10.2-1.9h0m21.1 2.2h0m40.5-4.9h0m-77.2 6.1h0m0.6 0.8h0m0.1 0.6h0m0-0.9h0m0.1 0.7h0m0.7-0.1h0m0.6 0.1h0m0.4-1.4h0m0.1-0.3h0m0.7 2.4h0m0.2-1.5h0m0.7 1.7h0m0-0.4h0m1.3 0.7h0m0.4-0.3h0m0.7-0.6h0m0.1 0.5h0m0 0.7h0m0.1 0.6h0m0.4-0.2h0m0.1-1.8h0m0.1-1.5h0m0.2-0.3h0m0.3 4.6h0m0.2-4.5h0m0.1 3.5h0m0.9-0.5h0m0.5 1.5h0m0.2-2.8h0m0.1 0.8h0m0-0.6h0m0.2-0.5h0m0.3 3.3h0m0.2-2.5h0m0-0.5h0m0 1.6h0m0.7 0.9h0m0-0.5h0m0.1-1.2h0m0.1 2h0m0.4 1h0m0.1-0.6h0m0.2-0.2h0m0.2 0.1h0m0.2-1.8h0m0.3 2.9h0m0.1 0.7h0m0.2-0.8h0m0.5-0.2h0m0 1.1h0m0.1-4.4h0m0.2 0.7h0m0.2 3.2h0m0.2-0.7h0m0.9 1.3h0m0.3-1.4h0m0.1-2.1h0m0.3 3.7h0m0.7-0.5h0m0.1 0.6h0m0.4-0.1h0m0.2-0.4h0m0.2-0.7h0m0.4-2h0m0.2 0.1h0m0.2 3.3h0m0.7-2.1h0m0.5 0.2h0m0.8 0h0m0 0.7h0m0.1-0.4h0m0.7 2h0m0.1-0.8h0m0.4-0.8h0m0.3 1.6h0m0.5-1.1h0m0.2-0.8h0m0.6 1.3h0m0.2-0.7h0m0.2-0.3h0m0.7 0.9h0m2.3-0.1h0m3.1 0.6h0m29.3-0.4h0m24.6 0h0m-64.5 1.6h0m2 0.5h0m0.8-1.3h0m0.5 1.2h0m0.4 0.6h0m0.8-0.6h0m0.5 1.4h0m1-0.5h0m0.3-1.7h0m0.4 1h0m0.3-0.5h0m0.2 2.2h0m0.6 0h0m0.5-2.2h0m0 2.8h0m0.3-3.5h0m0.1 3.7h0m0.2-4h0m0.4 1.2h0m0.5 2h0m0.3-2h0m0.2 2.3h0m0-1.2h0m0 1.3h0m0.3 0h0m0.2 0.4h0m0.4 0.4h0m1.1-3.4h0m0 2.6h0m0.7 2.1h0m0-0.3h0m0.2 0.6h0m0.2-1.3h0m0.2-0.5h0m0 1h0m0.4-1.4h0m0.2-1.4h0m0.4-0.1h0m0.1 0.5h0m0.1 0.4h0m0.3 0.3h0m0.2-0.4h0m0.1 3.6h0m0.9 0.3h0m0-3.9h0m0.1 3.1h0m0-2.1h0m0.2 2.7h0m1.1-2.5h0m0.7 3.5h0m0.3-2.7h0m0.1 2.6h0m0.2-0.2h0m0.1-3.2h0m1.4 0.9h0m0.1 1.6h0m0.3-0.4h0m0.1-1.2h0m1.6 1.1h0m1.2-0.3h0m0.7 0.3h0m0 0.9h0m0.2-0.6h0m1 1.1h0m0.8-0.5h0m-6.7 1.3h0m0.4-0.4h0m0.6 0.9h0m0.2-0.4h0m1.3-0.4h0m0.9 0.8h0m0.6 0.3h0m0.5-0.9h0m0 1.5h0m0.3 0h0m1.5-0.5h0m0 0.3h0m0.8 0.6h0m0.1-0.6h0m0.1-0.9h0m0.5 0.1h0m0.1-0.6h0m0.3 0.8h0m0.1 1.8h0m0.1-0.2h0m0-0.6h0m0.1-0.8h0m0.4 0.8h0m0.7 0.3h0m0.4 1.2h0m0.2-2.3h0m0.6 2.6h0m0.2-0.1h0m0.2-2.4h0m0.3 0.7h0m0.1 2.1h0m0.3-0.5h0m0-1.7h0m0.8-0.9h0m0 2.5h0m0.1 1.3h0m0.8-2.8h0m0.4 1h0m0.7-0.1h0m0.5-0.8h0m0 3.3h0m0.1 0.1h0m0.2-3h0m0.2 1.4h0m0.7-0.9h0m0 3.7h0m0.3-2.4h0m0.5 2.1h0m0.4-3.2h0m0.6 1.3h0m0.2 1.7h0m0.2 0h0m0.5-2.2h0m0.1 1.4h0m0.7 0.5h0m0.1 1.1h0m0.3 0.5h0m0.5-2.3h0m0.1 2.3h0m0.2-2.3h0m1.1 2.6h0m0.3-1.8h0m0.1-0.5h0m0 1.7h0m0.6-0.5h0m0.5 0.5h0m0.2-0.7h0m0.1-0.2h0m0.6 0.6h0m0.8 0.1h0m1.7 0.5h0m0.4-0.5h0m0.1 0.8h0m-5.9 1.1h0m2.2 0.4h0m0.3 0.2h0m0.7 0.3h0m0.1-0.3h0m1.4 0.3h0m0.3-0.3h0m0.4-0.7h0m0 1.1h0m0.1 0.7h0m0.3 0.1h0m0.7-1.2h0m0.4 0.9h0m0.7 0.7h0m0.2-2.8h0m0.8 2.8h0m0.4 0.1h0m0.5-2.2h0m0.9 2.2h0m0.2-0.6h0m0.5-0.8h0m1 2.7h0m0-0.7h0m0.3-0.4h0m0.2 1.8h0m0.4-3.3h0m0.3 0.6h0m0.1 2.8h0m0.5-2.7h0m0.4 0.7h0m0.3-0.1h0m0.5 2.5h0m0.4 0.6h0m0.1-2.7h0m0.2 2.8h0m0.3-3h0m0.7 3h0m0-1h0m0.4 0.9h0m0.1-2.2h0m0.9 0.4h0m0.5 2.7h0m0.7-1.8h0m0.1 2.4h0m0.1-2.6h0m1.2 2.1h0m0.8-1h0m0.5-0.1h0m0.7-0.1h0m0.3 1h0m0.7 0.6h0m0.3-1.3h0m0.9 0.8h0m0.5 0.7h0m0.5-0.2h0m0.8-0.4h0m0.4 0.1h0m-6.8 0.7h0m0.5 0.1h0m0.3-0.2h0m1.3-0.1h0m1.4 0.5h0m1.2 1.5h0m0.5-0.8h0m0.8-0.4h0m1.9-0.4h0m0.3 0.4h0"/></g>
<clipPath id="cBR"><rect x="687.6" y="552.0" width="428.8" height="449.5"/></clipPath>
<g clip-path="url(#cBR)"><path class="sp" d="M706.5 809.7 726.0 821.7 737.7 826.2 757.2 832.2 784.5 839.7 804.0 845.7 823.5 848.7 823.5 853.2 800.1 853.2 792.3 883.9 706.5 852.1 705.3 851.7Z"/><path class="sc" d="M717.5 559.9h0m79.1-7.8h0m6.5 5.6h0m-96.4 8.1h0m0.2-2.2h0m48.2 3.5h0m6.3-0.2h0m88.1-0.8h0m-82.7 5.3h0m27.5-0.8h0m85.9 0.1h0m85.9-1.1h0m-260.4 11.4h0m91.2 2.8h0m66.4-6.9h0m99.5 7h0m128.9-1.2h0m-386.5 1.4h0m0.8 7.1h0m2.3-4.2h0m2.4-2.7h0m94.7 5.5h0m121.3-1.9h0m51.7-0.8h0m-271.5 10h0m0.3-0.5h0m44.3 1.2h0m60.6-0.2h0m43.9 1.2h0m42.5-3.2h0m111.5 3.9h0m-304.1 8.4h0m1.4-3.8h0m0.7 2h0m6.2 1.6h0m3.6-4.6h0m70.3 1h0m144.7-1.1h0m76.4 2.7h0m59 1.6h0m-328.1 5h0m9.1 0.8h0m2.6 1.1h0m1.4-3.8h0m28.7 3.9h0m4.5-1.2h0m92.2 2.9h0m6.3-7.9h0m1.2 1.6h0m9.1 0.7h0m26.5 4.1h0m104.2-4.6h0m-320.2 6.9h0m1.3 3.5h0m2-1.2h0m0-0.5h0m18.4 3.6h0m20.2-3.7h0m81.8-0.9h0m74.2 3.3h0m96.1-4.7h0m-291.5 10.5h0m0.3 4.1h0m0-5.6h0m7.1 5.6h0m29.8-2.9h0m11.9-0.1h0m5.8 4h0m105.8-6.2h0m104.5 2.1h0m110.1 3h0m-377.3 3.3h0m0.9 0.9h0m19.1 2.4h0m10 1.1h0m104.6-1.4h0m51.6-2.1h0m85.9 1.7h0m98 0.1h0m-355.1 5.6h0m73.4 4.5h0m2.8-4.4h0m272.4 1.8h0m10.3-3.4h0m-374.8 14.9h0m0.9-2.8h0m1 2.5h0m17.4-2.2h0m33.6-2.3h0m3.4 2.1h0m6.3 1.1h0m7.1-5.1h0m4.3 6.4h0m133.8-1.4h0m33.4-1.6h0m24.7-1.1h0m26 3.6h0m-288.3 2.4h0m1.5 3.6h0m26.2-3h0m174.2 3.8h0m40.2 0.6h0m144.7-3.2h0m-390.1 12.8h0m0.5-2.6h0m0.6-2.7h0m8.3-1.1h0m5-0.1h0m10.7 3.9h0m0.7-3.1h0m3.6 2h0m31.4-2.2h0m1.4 3.4h0m4.8-5.2h0m5.9 1.4h0m50.3 4.2h0m206.7 0.5h0m-329.7 4.1h0m1.6 3.1h0m1.5 0.2h0m4.7-5h0m30.7 5.5h0m54.8-3.1h0m84.6 0.6h0m59.3-2.8h0m28.2 0.7h0m34.8 1.2h0m58.3-2.2h0m13.1 0.8h0m-338 13.1h0m103.5-6.1h0m1.3 6.6h0m102.7-4.5h0m-238.3 11.8h0m19.1-2.7h0m8.5-1.2h0m3.5 0h0m114 3.2h0m25.5-4.7h0m1.3 4.3h0m20.9 1.6h0m15.2-2.8h0m11.8-3.6h0m58.5 4.2h0m12.7 0.3h0m24.9 2.8h0m-319.3 0.7h0m1.5 5.1h0m0.7-4.6h0m1.2 3.8h0m3.6-1.3h0m2.5 0.5h0m11.3-3.8h0m27.8 2.6h0m0.7 2.6h0m2-5.2h0m17.2 5.9h0m0.7-1.1h0m11.7-2.3h0m3.9 1.2h0m38.2 4.1h0m1.1-1.9h0m2.1-0.6h0m19.3 0.4h0m6.1-3.9h0m67.6 4.6h0m18.1-3.3h0m1.8-1.9h0m66.5-0.9h0m-304.7 10.8h0m5.6-1.4h0m3.4 3.4h0m1.4-4h0m1.5-0.2h0m4.2 5.5h0m1.2 1.3h0m18.7-2h0m7.5-2.8h0m11.8 2.2h0m12.8 2.3h0m7-0.2h0m3.2 0.4h0m6.1-3.5h0m5.3 2.9h0m8.1-4.8h0m38 1h0m23 1h0m19.1 2.4h0m7.8-0.8h0m27.3 2h0m1.7-1.4h0m16.8 0.9h0m60.9-4.5h0m12.2 4.1h0m53.3-3.1h0m-358.6 7.2h0m0.6 0.4h0m1.8 3.9h0m1.3-1.5h0m2.4 1.1h0m0.9-0.9h0m5-3.9h0m0.8 2.6h0m24.2 0.2h0m5.7-4.5h0m37.3 1.6h0m13.3-1.5h0m10.3-0.3h0m84.4-0.2h0m11.2 4.6h0m5.3-2.6h0m24.7 4h0m8.6-1h0m13.5-0.9h0m29-3h0m37.7 4.2h0m56 1h0m-374.2 9h0m1.1-7h0m0 7.3h0m0.7-4.1h0m5.9 2.6h0m2.1-3.5h0m0.7 3.8h0m14.2-3.1h0m2-2.5h0m12 6.3h0m21.7-2.6h0m30.5 2.9h0m17.8-2.4h0m4.2 1.4h0m22.4 1h0m6.6-7.4h0m3 1.3h0m3.7 0h0m53.3 1.2h0m3.7 0.7h0m32.4 0.5h0m22.7 1.5h0m66.3-1.2h0m7.2 2.2h0m33.2-0.3h0m6.2-0.6h0m0.4-4.6h0m-372.2 11.4h0m0.8-2.9h0m19 4.2h0m9.8 2h0m19.7-5.2h0m7.8-0.2h0m4 5.8h0m4.9-0.3h0m23.2-1.5h0m28.2-3h0m7.3 3.2h0m11.2-3.5h0m3.8 2.1h0m1.1 2h0m4.5-3.6h0m11.4 0.3h0m20.4 0.7h0m5-1h0m51.2-2.6h0m16.4 6.1h0m54.5-6.1h0m5.5 3.4h0m4.2 1.4h0m24.9-0.8h0m24.5 0.9h0m8.4-4.9h0m11.4 7.1h0m-385 2.9h0m0.1-1.6h0m0.2 3.1h0m0.2-1.5h0m2.8 4h0m0.2 0.5h0m1.4-4.2h0m0.2-2.9h0m0.6 2.7h0m7.3 4.7h0m15.8-5.7h0m4 5.8h0m17.5-7.2h0m7.9 5.5h0m2.5-5.4h0m8.8 1.4h0m27.9 2.1h0m43.3 2h0m4 0.7h0m2.1 0h0m3.6-4.3h0m9.7 2.8h0m19.5-4.2h0m16.6 5.8h0m5.4-0.1h0m28.3-1.3h0m7.4-4.3h0m16.1-1h0m23.8 1h0m57 0h0m24.6 6.8h0m26.4-0.1h0m-384.8 5.8h0m0-4.2h0m0.2-0.4h0m0.7 4.6h0m2 1.8h0m0.3-6.5h0m0.3 5.7h0m6.6-5.6h0m7.5 0.1h0m0.8 0.1h0m0.3 4.3h0m0.6-3.7h0m3.3 2.9h0m7.3-0.2h0m8.1 0.5h0m8.3-4.4h0m10 4.1h0m5.4 1h0m10.5 0.8h0m2.7-1.6h0m10.7-3.9h0m9.9 2.8h0m9.9-2.1h0m1.1 5.7h0m10.1-3.2h0m13.4-3.7h0m13.7 7h0m56.5-1.1h0m28.2 1.4h0m93.8-1.8h0m16-1h0m21.1-2h0m0.2 3.7h0m8-0.9h0m-367.8 3.4h0m0 4.7h0m0.2 1.8h0m0.8-7.5h0m0.3 5.6h0m0.2-3.9h0m0.4-1.6h0m0.2 5.9h0m0.2-5.8h0m3.6 6.9h0m3.4-3.4h0m10.2-3h0m4.9 6.6h0m2.6-3.4h0m8.2-0.4h0m4.3 0.2h0m2.6-0.5h0m5.1-0.1h0m0.3 2.9h0m1.2-3.7h0m0.6 4.7h0m4.5-1.4h0m4.2-0.8h0m12.4-2.7h0m0.5 2h0m14.2 2.1h0m2.9-0.7h0m11.7-0.2h0m11.3 0.8h0m14.4-5.6h0m0.6 3.3h0m33.7 2.8h0m12.5 0.7h0m3.3-4.5h0m10.7-1.1h0m13.2 4.6h0m13.5-1.3h0m7.4 1.4h0m7.5-4.5h0m14.3 1.2h0m0.4 3h0m20.2-2.4h0m4.9 3.4h0m0.6-1.7h0m-268 3h0m0.2 7h0m0.2-0.1h0m0.5-2.1h0m0.5-2.8h0m1 4.2h0m0.7-6.1h0m0.4 3.6h0m1.9-1.2h0m1.1 3.5h0m0.4-5.8h0m3.8 6.7h0m3.7-6.4h0m1.8 1h0m5.9-0.8h0m0.5 0h0m0.1 5.1h0m19 1h0m6-3.5h0m4.8-2.6h0m0.9 4.7h0m9.7 0.5h0m9-5.4h0m2.4 5.8h0m0.9-1.8h0m6.9-3.3h0m3 0.4h0m2.7 1.4h0m9.2-1.8h0m2.6 0.9h0m12.1 5h0m2.3-0.4h0m0.3-5.4h0m2.3 0.1h0m20.9 3.6h0m0.9-0.6h0m7.9 1.9h0m2.4-3.8h0m18 0h0m11.8 4.4h0m17-7.3h0m16.1 7.8h0m5.3-4.5h0m2.7 1.3h0m1.8-0.1h0m0.7-1.4h0m24.5 3.9h0m10.6-5.4h0m6.5-1.1h0m16.6 5.1h0m7.7-5.5h0m10.9 0.6h0m14.6 6.9h0m50.1-4.9h0m12.6 3.5h0m4.2-4.2h0m-380.7 9.9h0m0.2 3.6h0m0.2-4.2h0m0.1-0.3h0m0.4 1.3h0m0 2.7h0m0-2.3h0m0.5 1.8h0m0.1-4.4h0m0.3 3.1h0m0.7-4.4h0m0.4 6.9h0m0-5.1h0m0.2 3.3h0m0.3-4h0m0.1 3.1h0m5.4 1.7h0m2.2-6.2h0m2.5 2.6h0m8.7 2h0m12.8-2.7h0m1.4 1h0m0.2 3.3h0m4.2-3.7h0m24.4 3h0m2.7 1.1h0m7.9-5.7h0m3.2 2.9h0m1.3-4.2h0m22.9 0h0m5.3 3.2h0m2.5-1.7h0m0.7 1.7h0m1.1 3.5h0m26.9 0.7h0m9.5-0.7h0m4.7-4.8h0m7.4-0.5h0m5.9 2.7h0m30 2.8h0m34.6-1.2h0m26.3-5.8h0m123.5 3.4h0m-381.7 8.1h0m0.1-1.8h0m0 5.6h0m0.1-6.3h0m0.4 4.7h0m0.5 1.1h0m0-2.1h0m0-0.2h0m0.3-3.3h0m0.2 5.3h0m0.5-3.3h0m0.9 1.4h0m0-1.1h0m0-3.5h0m0.1 1.6h0m0.1 1.6h0m0-2.7h0m0.2 2.9h0m0.1 1.8h0m0.1 0h0m0 0.4h0m0-2.3h0m1.4 1.9h0m0.8 2.5h0m0.3-5.4h0m0.3 4.3h0m0.4-1.2h0m0.3-3.5h0m0.9 0.7h0m12.4 2.5h0m0.2-2.6h0m5.4 1.9h0m3.4 0.2h0m3.5 2.5h0m5.1-6.3h0m0.1 0.7h0m2.9 3.7h0m1.6 1.5h0m0.6-1.1h0m1.6 0.9h0m2.1 0.1h0m0.5-4.3h0m2.6 3.5h0m0.8-5h0m1.4 5.2h0m4.9-2.2h0m0.3 0.9h0m9.1 0.8h0m0.8 0.9h0m0.7-1.2h0m0.2-5.3h0m0.8 7.4h0m9.5-6.3h0m0.7 5h0m5.3-1.8h0m13-3h0m1.4 2.3h0m0.9 3.8h0m11.7-4.1h0m8-0.7h0m19.6 4.3h0m3.2-1.2h0m0.8-0.5h0m3.4 2.5h0m1.3-5h0m19.6-2.7h0m1.4 2.9h0m11.5 4.7h0m4.4-5h0m9.3 0.4h0m6.3 0.7h0m14.6-2.1h0m10.5-0.9h0m2.5 2.6h0m11.6-1.3h0m39.1 5.2h0m16-2.6h0m1-3.5h0m3.2 0h0m63.3 2.8h0m19.7-3.4h0m-382.1 15.1h0m0.1-4.4h0m0.1-2.1h0m0.3-0.1h0m0.1 3.9h0m0.6-3.6h0m0.4 2.9h0m0.2-1.7h0m0.7 2.9h0m0.4-0.7h0m0.3-3.6h0m0.2 5.1h0m0.1-1h0m0 2.4h0m0.1-3.6h0m0.3-1.6h0m1.7 4.9h0m0.7-6.4h0m0.4 3.1h0m0.7-0.1h0m5 3.5h0m2.4-7h0m0.9 6.6h0m1.2-5.3h0m4-1.4h0m0.2 4h0m0.2-4.1h0m0.5 7.6h0m0.5-2.8h0m0.6 2.3h0m1.9-3.2h0m0.1 1.6h0m2.2 1.9h0m1.2-0.4h0m0.4-2.8h0m0.6-1.7h0m0.2-1.4h0m0.2 4.1h0m6 0.5h0m2.7 0.1h0m0.6-0.4h0m1.8-0.4h0m0.1-0.1h0m6.7-5h0m2.3 6.5h0m2.7-3.6h0m3-2.9h0m0.6 0.8h0m17.1 2.7h0m1.5 2.5h0m0.6-2.8h0m1.6 1.4h0m4.2 0.6h0m0.2-2.2h0m2.8 1.6h0m2.4 2.6h0m0.8-0.9h0m2 1h0m4.2 0h0m10-0.4h0m1.5 0.4h0m1.4-2.9h0m2-3.7h0m12.6 7h0m3.8-1.4h0m2.6 1h0m5.9-2.9h0m1.3-4.2h0m13.4 3.9h0m0.4 0.6h0m3.5-2.9h0m0.9 3.9h0m11.2-0.7h0m5.4 1.7h0m5.2-5h0m6.1 3.4h0m3.5 0h0m7.9 2.5h0m4.6-2.8h0m12.2-0.8h0m2.3 0.2h0m27.7 2.7h0m4.3-3h0m8.6 0.5h0m0.7-0.7h0m9.7 2.8h0m32.3-4.3h0m14.1-0.5h0m23.2 4.4h0m1.5-3.6h0m35 2.1h0m12-4h0m-380.3 9.5h0m0.1-1.3h0m0 0.2h0m0.1 0.5h0m0.1 2.2h0m0 3.1h0m0.2-1.5h0m0-0.6h0m0.4 2.8h0m0.3-3.6h0m0-0.5h0m0.1 3h0m0.6-5.5h0m0.4 3.8h0m0-4.5h0m0.1 4.8h0m0 1.9h0m0.2-1.2h0m0.2-2.4h0m0.2 0.7h0m0.1-1.7h0m0.5 1.7h0m0.1 3.7h0m0.2-7.9h0m0.6 1.5h0m0.5 1.8h0m1.6 4.6h0m0-5h0m0.3 2.5h0m0.9-2.2h0m1.5 3.5h0m0.3-3.8h0m0.8 1.7h0m0.2-0.3h0m0.3-2.1h0m0.4 4.2h0m0.5-3.6h0m1.3-2h0m1.3 0.7h0m3.2 4.3h0m1.2-5.2h0m0.6 4.5h0m0-4.2h0m0.9 4.2h0m2.1-2.8h0m1.3 3.1h0m0.9-3.3h0m0 5h0m1.3-4.5h0m0.1 0.1h0m1.8-0.4h0m1.6 3.4h0m1.1-2.2h0m1.1 2.3h0m0.2-4.4h0m0.9 6.4h0m1 0.2h0m0.2-7.6h0m6.7 2.2h0m4.5 5h0m0.7-6.8h0m2.9 6.7h0m1.3-6h0m0.8-0.6h0m0.6 6.8h0m2.1-1.2h0m0.1-5.4h0m1.7 2.2h0m0.1-0.5h0m1.9-0.3h0m3.1 3.3h0m0.8 0.5h0m5.2-2.8h0m4-2.6h0m3.5 1.9h0m0.9 1.7h0m1-0.6h0m1.7 0.5h0m2.9 0.5h0m0.1 0.5h0m1.9-2.9h0m2.9-1.6h0m4.6 2.5h0m1.2-2.5h0m0.3 1.6h0m16.8 3.2h0m0.7 0.4h0m2.1-1.9h0m1.1-1.7h0m13.8-2.3h0m2.8 1.4h0m1.8 0.8h0m23.6-0.7h0m10.3 5.3h0m2.6-3h0m0.1 2.3h0m9.4-0.9h0m3.3-2.1h0m19.4 4.6h0m5.2-2.9h0m10.5-2h0m0.7 0.4h0m1.3 2.9h0m11.7-0.5h0m5.1 1.5h0m0.5 0h0m3.4-3.9h0m10.8-1.2h0m1.2 3.4h0m4.9-3.8h0m4.6 1.2h0m4.9 3.9h0m8.2-2.9h0m15.6 1.8h0m9.5-1.9h0m7.6 1.6h0m6.6 0.7h0m2 1.7h0m6.2-7.4h0m4.3 5h0m21.8 1.1h0m10.8-2h0m20.8 0.5h0m-377.4 3.3h0m0 2.9h0m0.2 1h0m0.5-3h0m0 5.4h0m0.1-6.3h0m0.1 5.6h0m0.1-2.6h0m0-3.3h0m0.7 6.5h0m0.6-1.1h0m0.2 2.4h0m0.2-2h0m0.1-4.2h0m0.1-1.4h0m0.4 7h0m0.4-3.5h0m0-2.3h0m0.8 4h0m0.6 1.6h0m0.3 0.8h0m0.1-5.1h0m0.2 4.7h0m0.7-2.6h0m0.1-4.3h0m0.6 0h0m0.2 1h0m0.5 1h0m0.3 2.3h0m0.1 3h0m1.7-3.6h0m0.1-3.8h0m0.1 5.5h0m0.2-5.7h0m0.2 5.2h0m0.3-4.7h0m1.6 2.8h0m1.9-1.9h0m0.8 2.3h0m0.9-1.9h0m0.1 0h0m0.6 2.1h0m0.2 1.8h0m1.1-4.6h0m0.2 2.7h0m0.6 0.9h0m0.2-3.1h0m0.1-1.7h0m4.8 3.9h0m1.6-3.7h0m0.2 4.5h0m1.7 0.1h0m0.1-4h0m0 5.3h0m0.3 1.3h0m1.9-6.6h0m0.6-0.5h0m0.4 7.2h0m0.7-4.6h0m0.1-0.2h0m0.2-1h0m1.3 3.4h0m0.5-2.4h0m0.6 0.7h0m0.6-2.9h0m0.1 4.8h0m0.5 2.2h0m1.8-1.5h0m1.1-2.3h0m0-3.7h0m1.6 0.5h0m0 6.2h0m1.2-0.8h0m2.2 1.2h0m1.6-3.5h0m0.2 2.2h0m2.3-5.2h0m2.6 0.1h0m0.3 5.6h0m2.1-1.2h0m1 1.5h0m2.6-0.4h0m0.7-2.9h0m2.8-1.7h0m0.7 0h0m1.3 0h0m1.3 3.5h0m0.8 1.3h0m0.3-0.9h0m0.5-1h0m0.1 1.6h0m1.9-4.6h0m0.9 4.7h0m1.4-2.8h0m0.3-0.5h0m0.6 2.8h0m1-5.4h0m3.6 6.4h0m0.1-3.2h0m2.7-1.4h0m0.5 3.4h0m0.4-3.7h0m0.6 0.8h0m3.1 4.7h0m2-0.4h0m0.6-4.2h0m1.2-1.9h0m2.3 4.6h0m0.3-1.9h0m5.1 1.6h0m0.5 1h0m0.2-4h0m5.7 1.3h0m4.1-0.6h0m2.7 2.5h0m0.7 1.4h0m1.1-1h0m2.5 1.6h0m5.1-1.6h0m2.6-1.6h0m2.5-4.2h0m0.7 3.9h0m6.4 0.8h0m0.2 2.3h0m0.7-6.2h0m1.2 3.2h0m6.6-1.5h0m1.8-2h0m1.1 6.2h0m1.9 1.1h0m0.8-4.9h0m2.1 1.6h0m1.8-3.3h0m4.8 2.4h0m3.2-0.3h0m0.6-1.6h0m3.8-1.2h0m2.6 0.2h0m0.5 1.2h0m2.7-0.8h0m1.5 5.5h0m1-4.6h0m0.1 2.2h0m0 1.8h0m1.6-2h0m0.7-2.1h0m1.3-0.8h0m0.1 1.6h0m0.2-1.3h0m3.4 3.9h0m1-3h0m9.3 0.5h0m1.2 0h0m4.6-2h0m4.6-0.4h0m0.3 4.5h0m5.4 2h0m1.6-3.9h0m1.5-0.2h0m1.2 0.2h0m0.8 4.5h0m8.1-4.5h0m4.5-2.1h0m7.9 2.1h0m0.6 0.2h0m3.9 2.2h0m6.6-4.8h0m3.5 3h0m4.6-1.9h0m12-0.5h0m1.8-0.4h0m0.6 2h0m24.7 4.3h0m6.4-3.1h0m1.9 3.6h0m4.1-0.5h0m22.8-5.5h0m6.6 3.1h0m5.5 2.3h0m4.2-3.5h0m2.2-0.1h0m25.1-0.9h0m0.2-2h0m-363.4 11.8h0m0.1 1.2h0m0.1-5.3h0m0 2.8h0m0 0.4h0m0.2 3.2h0m0.1-5.8h0m0.1 0.7h0m0.2 3.2h0m0.1 3.1h0m0.1-2.2h0m0-5.6h0m0.5 3.2h0m0.3 0.1h0m0.2-1.4h0m0.4 1h0m0 2.2h0m0.8-0.9h0m0 1.5h0m0.1-5.6h0m0.4 2h0m1 0.6h0m0-1.5h0m0.1 1.7h0m0.1-0.4h0m0.1 2.3h0m1.6 0.1h0m0.2-1.4h0m0.2 0.5h0m0.8 2.4h0m0.2-5h0m0.3 2.6h0m0-0.4h0m0.8 1.3h0m0.1 2.2h0m0.1-4.9h0m0.1-1.7h0m0.7 4.9h0m0.6-1.6h0m0.4 3h0m0.5-4.5h0m0.8-0.6h0m0.3 2.6h0m0.3-1.1h0m0.2-3.2h0m0.2 2h0m0.2 3.8h0m0.1-0.3h0m0.1-1.1h0m0.2 1.1h0m0.2-2.1h0m0.2 2.8h0m0.1-6.2h0m1.1 7.6h0m0.2-0.9h0m0-2.5h0m0.4 3.1h0m0.2-6h0m0.6 0.7h0m0.7 4.9h0m0-4.4h0m0.7 4.7h0m0-0.2h0m0.9-0.9h0m0.8 0.9h0m0.2-5.1h0m0.4 3.4h0m0.3 1.4h0m0.1-6h0m0.2 7h0m0.5-3.9h0m1.1 3.6h0m0.3-2.1h0m0-2.1h0m0.2 3.7h0m0.1-3.8h0m2.1 0h0m0.2 2.8h0m0 1.3h0m0.5-3.8h0m0.3 3h0m0.2-1.8h0m0.1-0.3h0m0.7-0.5h0m1.4 0.7h0m1.6-0.4h0m0.7 1.7h0m1.6 0.5h0m0.5 0.1h0m0.3-4.4h0m0.2 1.1h0m0.6 3h0m0.1-2.2h0m0.3-0.4h0m0.9-2.7h0m1.5 6.7h0m0.2-4.9h0m0.6 3.1h0m0.1-5.8h0m0.4 8h0m0.9-4.7h0m0.1-0.3h0m0.4-3h0m0.7 2.1h0m2.2 5.5h0m0.6-0.7h0m0.7-3.8h0m0.2 2.1h0m0.4-0.3h0m0.9-0.8h0m0.4-2.8h0m5.4 4.4h0m0-3h0m1.9 3.2h0m1.5 1.9h0m0.2-2.6h0m0.5 2h0m3.6-0.8h0m2.5-3.7h0m0.4 2.4h0m0.8-2.7h0m0.8 1.2h0m0.2 0h0m3.5 1.3h0m0.2-2.4h0m0.1 4.9h0m4.7-4.1h0m2.2-0.3h0m3.3 4.4h0m1-3.5h0m0.6 3.7h0m4.8-2.4h0m1.9-0.2h0m0.2-2.8h0m1.5 0.9h0m0.8 4.4h0m0.8-0.3h0m2.8-0.6h0m1.3-0.6h0m4.6-1.9h0m1.9-1.8h0m2.7-1h0m0.1 1.4h0m1.2-1.7h0m0.2 1.7h0m1.7-0.9h0m5.4 1.2h0m0.3 4.4h0m1.6-4.8h0m1.7 0.5h0m2.6 4.8h0m1.5-6.3h0m0.6 6.2h0m0.2-3.6h0m0.1 2.6h0m2.7-1.8h0m0.2 0.6h0m0.4-3.2h0m0.9 3h0m1.7-2.7h0m0.7 1.5h0m1.5 2h0m1.9-2.1h0m1.8 0.4h0m2 3.3h0m1.8-0.3h0m1.5-7.2h0m3.1 3.8h0m1.6 1.1h0m0.2 1.6h0m9.3-5.6h0m3.3 2.8h0m1.7 3h0m0.5-0.3h0m1-1.4h0m6.2 1.3h0m3.8-3.9h0m1.1-1.6h0m1.1 6h0m1.5-0.3h0m0.9-5.6h0m5.7 5.5h0m1.4-5h0m5.8-0.1h0m4.2 6.1h0m1-5.1h0m0.8-0.8h0m0.7 5.5h0m2.1-6.7h0m7 1.3h0m4.4 5.6h0m0.9-4h0m0 3.2h0m0.3-5.2h0m7.3 4.6h0m4.8-4h0m2.9-0.5h0m1.1-0.3h0m1.7 0.6h0m2.9 2.6h0m5.9-3.7h0m4.6 3.2h0m8.2 0.6h0m1.2 1.3h0m4.2-3.8h0m2.4 5.8h0m1.6-5.4h0m4.3 3.5h0m3.8-2.8h0m2 0.7h0m7 1.3h0m3.1-1.7h0m14.6-0.7h0m4-2.4h0m27.2 5.3h0m2.9-3.5h0m14.1 3.9h0m23.6-0.2h0m25.7-1.4h0m0.2-1.5h0m-388.1 8.7h0m0-0.3h0m0.1 4.1h0m0.3-0.3h0m0.2 0.4h0m0-6h0m0.1 2.7h0m0.1 0.4h0m0-2.5h0m0.1-1.2h0m0.1 0.6h0m0 1.6h0m0 3.3h0m0.1 1.4h0m0.1-4h0m0.2-3h0m0.8-0.4h0m8 0h0m0.7 1.1h0m1.6-1.1h0m2.3 0.4h0m0.3 0.5h0m0.4 0.9h0m0.4 1.5h0m0.4-2.6h0m0.2 3.3h0m0.4-0.9h0m0.3-0.6h0m0.6 0h0m0.4-1.3h0m0.8 2.6h0m0.4-4.1h0m0.8 1.1h0m0.5 3.2h0m0.1 2.9h0m0.2-0.2h0m0.5 0h0m0.7-5h0m0.7 2.9h0m0.1-2.8h0m0.6-1.5h0m0.3 2h0m0.1 4.4h0m0-5.5h0m0.1-1.4h0m0.1 2h0m0.3 0h0m0.4 2.9h0m0.6-2.1h0m0.6 4.7h0m0.3-0.4h0m0.8-2.1h0m0.1-2.5h0m0.4 3.2h0m0.3-2.1h0m0.4-3h0m0.8 4.6h0m0 0.9h0m0.6-6h0m0.4 7.5h0m1.1-6h0m0.7 3.3h0m0.8-2.6h0m0.4 2.7h0m0.1 1.8h0m0.2-1.6h0m0.7 0.4h0m1.1-2.4h0m0.5 2.3h0m0.3 1h0m0.4-1.8h0m0.6 2.7h0m0.4-5.8h0m0.5 0.5h0m0.2 1.8h0m0.1 2.5h0m0-4.7h0m0.1 0.5h0m0.8 3.4h0m0.1 1.3h0m0.6-1.4h0m0.6-2.2h0m1.8 1.6h0m0.7-1.3h0m0.3 1.7h0m1.5-3.8h0m0.1-0.2h0m1 3.7h0m0.1 0.4h0m0 1.4h0m2.1-2h0m0.4-4.8h0m0.1 3.2h0m0 0.9h0m0.5 2.8h0m1.9-3h0m0.9-0.2h0m0.7 2.2h0m0.4-5.3h0m0.7 6.3h0m0.4-5.7h0m1.4 3.9h0m1.8-1.5h0m0.8-3.2h0m0.6 4.6h0m0.1-4.7h0m1.5 2.8h0m0 2.9h0m0.3-3h0m0.1-2.9h0m1.7 7.1h0m1.3-4.1h0m0.6 1h0m0.3 1.5h0m0.3-1.5h0m0.1-1.6h0m0.1 5.1h0m1.7-3h0m0.2 0.4h0m0.8-1.3h0m0.7 2.9h0m1-5h0m0.8 0.7h0m0.3-0.8h0m0.7-0.1h0m0.1 2.1h0m2.3-0.3h0m0.1 4.3h0m1.2-3.1h0m0.7 0.4h0m0.8 0.5h0m1.4-3.1h0m0.2 4h0m0.2-1.9h0m0.2-2.7h0m1 1.1h0m0.1 2.5h0m0.3-1.7h0m1.3 0.6h0m0.8 2h0m0.7-3.6h0m1.5 2.2h0m1.2-1h0m0.2-3.2h0m2.5 1.3h0m0.7 3h0m0.2 2.9h0m0.7-1h0m2.3-6.4h0m1.6 2.1h0m0.8 3.1h0m0.5 2h0m2.7-2.9h0m1.6 1.5h0m1.8-2.7h0m0.3-1.2h0m0.5 4.2h0m0.7-2.1h0m0.7-1.5h0m0.4-2.6h0m0.5 5.5h0m1.3-1.8h0m1.4-2.4h0m1 5.3h0m0.7-6.8h0m0.8 5.6h0m0.1-4.8h0m1 3.8h0m1.6-3.5h0m1.1-0.7h0m0.5 7.2h0m0.6-6.4h0m1.3 1.3h0m0.6 2h0m0.3-1h0m0.2 1.6h0m0.3 0.4h0m1 1.7h0m2.4-6.2h0m0.1 5.5h0m0.1-4.5h0m0.7-0.4h0m3.9 3.7h0m0.7-0.3h0m0.5 1.1h0m0.7 0h0m1.1-5.7h0m1.6 3h0m1.9-1.9h0m2.7 1.6h0m3.5 4.1h0m0.6-1.5h0m5.9 1.5h0m0.1-2.6h0m1.2-2.6h0m1 3.5h0m1.3-3.8h0m0.3 4.4h0m0.3-5.8h0m3.3 1.9h0m2.2-0.7h0m1.1 5.9h0m3.6-4.2h0m0.5 1.6h0m1.8-3.1h0m4 4.2h0m0.5 0.5h0m0.2 1.2h0m0.2-5.5h0m0.4 1h0m1.6 3.4h0m0.5-3.3h0m6-0.4h0m0.4 3.9h0m0.7-4.3h0m0.2 2.4h0m0 1.8h0m0.4-3.5h0m0.2-3.4h0m0.2 2.2h0m0.2-1.6h0m0.6 6.9h0m0.7-6.6h0m1.8-0.4h0m1.6 5.6h0m2.1-4.2h0m2.7 0.7h0m1.7-2.5h0m3.3 7.4h0m2-2.7h0m2.2-1.6h0m0.3 0.5h0m1-1.6h0m0.5-1h0m1.7-0.5h0m1.3 5.7h0m1-2.2h0m0.6 0.5h0m4.5 0.8h0m2.3-2.2h0m4.7 4h0m3.4-3.3h0m1.1 2.9h0m3.6-2.9h0m0.8-2.9h0m0.3 0h0m3.3 0.4h0m0.6 2.9h0m2.4 3.2h0m1.8-4.2h0m11.3 2.3h0m4.9-5.2h0m4.3 0.4h0m3 6.1h0m3.3-2.4h0m0.7-4.2h0m5.9 3.8h0m1.8-1.1h0m0.9 0.1h0m0.9 3.9h0m0.5-3.6h0m1-3.4h0m11.5 3h0m1.9 3.5h0m1.9-3.6h0m0.5 2.9h0m11.5 0.1h0m4.7-3.5h0m2.3 0.3h0m8.7-0.8h0m2.2-0.4h0m15 1.5h0m1.4-1.6h0m2.9 6h0m6.5-5.3h0m0.3 4.5h0m8.6-4.6h0m12.7 0.7h0m0.5-0.4h0m4.2-0.1h0m11.3-2h0m8.3 4.4h0m-385.9 3.5h0m0 3.8h0m0 0.3h0m0 1h0m0.1-0.9h0m0 3.5h0m0.1-1.3h0m0-0.9h0m0.1-3.6h0m0 0.7h0m0.1-2.2h0m0-0.4h0m0.1 0.6h0m0.2 3.7h0m0-0.9h0m0.2 0.7h0m1 3.2h0m0.5-5.5h0m22.2-1.4h0m2.7 0.1h0m1 1h0m0.8 1.3h0m1.3 0.2h0m0.4-1.1h0m0.1-1.5h0m0.4 3.6h0m1.1-4.1h0m0.3 0.7h0m0.8 2.5h0m0.8 0h0m0.7-0.1h0m0.9 2.5h0m0.6-4.3h0m0.9 3.3h0m0.1-2.4h0m1 2.7h0m0.6-2.1h0m0.4 2.1h0m1.1 0.1h0m1.2-2h0m0.5 0.3h0m0.6 2.3h0m0.2 0.7h0m0.8-1.2h0m0.2 2.1h0m0-4h0m0 1.4h0m1-2.2h0m0.2-1.4h0m0.4 1.6h0m0.4 3.4h0m0.1 1.1h0m0.1-2.1h0m0.1-4.9h0m0.4 6.9h0m0.8-1.6h0m0.1-4.7h0m0.1 0.8h0m0-0.1h0m0.2 3.7h0m0.7-1.2h0m0 2h0m0.2-1.1h0m0.3-0.5h0m0 2.6h0m0.5-0.7h0m1 0.7h0m0.5-1h0m0.2 0.9h0m0.2-1.7h0m0.2-3.9h0m0.7 1h0m0.4 5.1h0m0 0.1h0m0.5-6.7h0m0.6 4.6h0m0.6 0h0m0.9-4.2h0m0-0.9h0m0.6 5.8h0m0.2 1.9h0m0.4-1.3h0m0.8-5h0m0.3 6.1h0m0-1.1h0m0.3-3.4h0m0.8 2.8h0m0.3 0h0m0 1.3h0m0.3-0.5h0m0.4-5.2h0m2.6 5.1h0m0.1-2.1h0m0.5-0.6h0m0.1-2.5h0m0.7 4.8h0m0.4 1.5h0m0.1-7.4h0m0.8 7.4h0m1.4-6.9h0m0 0.7h0m0.2 2.2h0m0 0.2h0m0.4-0.6h0m0.3 2.3h0m0.2 1.2h0m0.4-4.9h0m0.5 3.4h0m0.8-2.2h0m0.1-2.5h0m0.1-0.5h0m1 4.3h0m0.3-1.8h0m1.5 0.7h0m1.2 1.6h0m0 2.4h0m0.1-3.5h0m0.6-0.9h0m0.7-3h0m0.8 4.4h0m0.1-3.8h0m0.2 7.4h0m0.1-0.2h0m0.9-4.8h0m0.5 3.1h0m0.5-0.7h0m0.1-0.6h0m0.6 1.9h0m0.9-3.9h0m0 3.4h0m0.2-1.3h0m0.3-2.1h0m0.7 0.9h0m0.4-3.6h0m0.9 0.7h0m2.2 3.3h0m1.9 2.6h0m0.3-3.7h0m1.7-0.8h0m1.1 2.3h0m0.4-2h0m0.8-1.1h0m0 3.4h0m1-4h0m0 6.7h0m0.3-0.4h0m0.4-0.2h0m0.2-5.9h0m0.1 0.5h0m0.7 3.1h0m0.6-0.3h0m0.5-2.4h0m0.3 2.4h0m0.4-3.1h0m0.5 5.6h0m0.4-6h0m1.8-0.2h0m0.1-0.3h0m0.4 3.2h0m1.3-2.9h0m0.1 2h0m0.5 2.6h0m0.9 1.7h0m1-0.9h0m0 1.1h0m0.2-1.2h0m0.6 1.5h0m0.2-3.4h0m0.4-3.2h0m0.7 4.7h0m1.8-4.7h0m0-0.4h0m0.3 6h0m0.1-4.9h0m0.4 4.3h0m0.9-2.7h0m0.2 0.8h0m1.1 3.9h0m0.3-4h0m1.5-0.9h0m0.2-0.1h0m0.1 1.9h0m1.3-4.4h0m0.7 5.3h0m0.3-1.2h0m3.3 2h0m0.4-2.2h0m0 0.7h0m0-1.1h0m0.8 2.9h0m0.8 1.1h0m0.4-6.4h0m0.2 0.4h0m1.3 5.5h0m0.6-6.4h0m0.2 2.9h0m1.8 3.8h0m0.9-0.9h0m0-3.5h0m0.3 4.2h0m0.5-1.3h0m0.7 1h0m1.9-0.4h0m0.7-4.3h0m0.3 2h0m0.2-0.9h0m2.4 2.2h0m1.2 0.7h0m0.1-0.5h0m1-2.7h0m0.3 0.6h0m2.1 2.3h0m0.4-4.4h0m0.6 4.1h0m3-0.4h0m0.1-0.1h0m2-1h0m1-1.7h0m0.8 5.3h0m0.6-5.4h0m1.4-1h0m1.8 3.3h0m0.7-4.3h0m1.1 0.6h0m0.2 0.2h0m3.8 3.1h0m0.6-2.6h0m3.8-0.7h0m0.1 4.9h0m1.4-3.6h0m0.2 3.4h0m1.1-0.5h0m0.7-3.1h0m0.6 4.9h0m1-0.2h0m4.8-1.3h0m0.4-3.1h0m0.4 4.2h0m2.4-3.6h0m0.7 0h0m0.1 2.9h0m0.1-2.4h0m0.5 3.8h0m1.8-5.7h0m4.7 5.9h0m3.2-2.9h0m1.7-0.4h0m1 2.8h0m0.4-6.7h0m0.6 1h0m2.3 5.4h0m0.3-0.5h0m1.9-4.5h0m2.5 0.8h0m0.1 1.1h0m1.9 3.8h0m1.5-1.8h0m0.5-4.3h0m0.1 5.7h0m0.4 0.6h0m2.7-4.9h0m0.1 2.2h0m0 1h0m3.2 1.6h0m0-4.4h0m3.5 2h0m2.7 1.7h0m0.2-5.3h0m3.3 6.3h0m1.1-2.1h0m0.3-2.2h0m5.2-2.5h0m0.5 4.6h0m0.1-3.2h0m2.4 5.3h0m0.1-7.4h0m1.6 0h0m3.2 6h0m1-6.2h0m1.7 2h0m3.1 1.4h0m0.4 1.6h0m4.9 2h0m4.2-4.1h0m1-2.9h0m5.3-0.1h0m1.4 6.2h0m2.2 0.5h0m4.8-0.2h0m2.9-0.4h0m0 1.5h0m0.4-4.3h0m1 4.2h0m0.5-4.4h0m4.2-1.1h0m0.9 5.8h0m2.8-3.7h0m8-3.1h0m0.9 0h0m2.5 5.4h0m4.3 0.6h0m6.3-6.6h0m1.8 1.5h0m1.5 3.9h0m1.2-3.3h0m2.9 3.8h0m38.8-4.4h0m3 0.6h0m7-1.3h0m25 1.8h0m0-0.6h0m12.2 1.7h0m-385.5 11.6h0m0-3.5h0m0.1-2h0m0 1.8h0m0.2-0.9h0m0 0.3h0m0 1.2h0m0.1 1.3h0m0-5.2h0m0.2-0.7h0m0.2 0.8h0m0 4.4h0m0.1-4.3h0m0.4 6.3h0m0.7-3.9h0m0.4 2.8h0m0.4 1.5h0m47.5-7.4h0m0.7 0.2h0m2 1.2h0m1.8-0.1h0m0.2-1.1h0m0.8-0.1h0m1.3 2.3h0m1.5-0.5h0m0.7 0.6h0m2-0.2h0m0.2 0.3h0m0-0.6h0m0.2 2.5h0m0.2-4.6h0m0.3 4.8h0m0-1.5h0m2.3-0.9h0m0.2-1.6h0m0.2 0.4h0m0.4-0.5h0m0.1 4.8h0m0.1-3.8h0m0 2.1h0m0.3-3.8h0m0.2 2.1h0m0.3 1.5h0m1.3-2.4h0m0 5.1h0m1.1-4.2h0m0.9 0.1h0m0 0.3h0m0.2-2.7h0m0.2 6.7h0m0.6-3.1h0m0.1-1h0m0.1-1.3h0m0 3.9h0m0.3 0.3h0m1.2-1.1h0m0.1-2.3h0m1 4h0m0.2-0.8h0m0.4-5h0m0.1 3h0m0.2 3.5h0m0-3.3h0m0.1-2h0m0.1 0.7h0m0.3 2.7h0m0.5-2.5h0m0.2 2.5h0m0.1-2h0m0.3 1.1h0m0.3 1.7h0m0.1 0.7h0m1 0.2h0m0.4-3.6h0m0 3.7h0m0.3 1.2h0m0.2-4.8h0m0.5-1.6h0m0.1 5.3h0m0.2 1h0m0.2-3.4h0m1.2-1.9h0m0.1 2.9h0m0.4-1.3h0m0.4-1.8h0m0.5 3.7h0m0.3-2.8h0m0.4-3h0m0 5.1h0m0.3-2.5h0m0.3-1.8h0m0.1-0.8h0m0.2 7.3h0m0-3.1h0m1.2-3.6h0m0.3 1.1h0m0.3 4.9h0m0.5-4h0m0.2-1.5h0m0.3 4.7h0m0.2 1.3h0m0.3-3.9h0m0.8 2.9h0m0.4 0.5h0m0.2-4.5h0m0.1 2.4h0m0.1-3.8h0m0.4-0.6h0m0.9 7.2h0m0.7-2.3h0m0.2-1h0m0.2-1.6h0m1.2 4h0m0.3-2.3h0m0.6 0.2h0m0.4 1.4h0m0-3.7h0m0.7-2.2h0m0 1.1h0m0.6 3.5h0m0.2-4.2h0m0.3 5.4h0m0.2 1.5h0m0.2-3.5h0m0.1 1.4h0m0.5-0.1h0m0.3 0.1h0m0.2-2.9h0m0.6-0.6h0m0.3 0.4h0m0 4.9h0m0.7-6.6h0m0.1 0h0m0 2.8h0m0.2 3.6h0m0.3-5.7h0m0.5-0.4h0m0.2 5.4h0m1.3-2.3h0m0.1-3.5h0m0.6 7.1h0m0-3.8h0m0.3 0.3h0m0.7 2.4h0m0.5-3.2h0m0 3.3h0m0.3-4.6h0m0.2-0.7h0m0 1.7h0m0.1 0.2h0m1.2 2.1h0m0.9-1h0m0.1 3.2h0m0.1 0.2h0m0.7-5.9h0m0.3 2.6h0m0.1-0.2h0m0.1-4h0m0.3 7.8h0m0.5-7.5h0m0.1 4.7h0m0-1.2h0m0.1 2.4h0m0.1-1.7h0m0.1-0.4h0m0.7-0.6h0m0.5-0.9h0m0.3 4.7h0m0.1-0.5h0m0.4-0.9h0m0.1 1.1h0m0.3-0.3h0m0.1-4.1h0m0.5 3.5h0m0-5.6h0m0.4 4.1h0m0.1-0.4h0m0.5 1.8h0m0.1 1h0m0.4-0.2h0m1.1 0.4h0m0.3-0.5h0m0-2.7h0m0.2-0.7h0m0.1-0.7h0m0.1 2.4h0m0.7 2.9h0m0.1-3.6h0m0.3 2.6h0m0.9-4.2h0m0.1 0.8h0m0.7-2.3h0m0.3 5.4h0m0.4-1.4h0m0.9-0.5h0m0.1 0.9h0m0.3-4h0m0.2 3.4h0m0.5-3.3h0m0.3 0.7h0m0.2 4.6h0m1.1-3h0m0 0.8h0m0.5 2.9h0m0.8-5.4h0m0.2 4.3h0m0.4-5.9h0m0 5.6h0m0.6 0h0m0.2-6.2h0m0.5 7.6h0m0.3-1.1h0m0.1-0.6h0m0.8-3.3h0m0.3 0h0m0.4 0.3h0m0.1 3.8h0m0.7 0.4h0m0.3-5.9h0m0.6 3.8h0m0.3-4.2h0m0.3 4.9h0m0.2-1.6h0m2.7 2.4h0m0-1.2h0m1-3.4h0m1.3 4.7h0m1.4-3h0m1.1 3.3h0m0.3-1.6h0m0.6 2.1h0m0.1-5.2h0m0.1 4.1h0m0.2-5.8h0m0.9 7.3h0m0.2-6.3h0m0.3 5.4h0m0.1-4.5h0m0.3-2.2h0m0.1 3.9h0m1.4-0.1h0m0.2-1.4h0m0.2-0.1h0m0.9 3.1h0m0.7 0.4h0m0.1-5.2h0m0.7 3.9h0m0.1-1.2h0m0 2.5h0m0.6 1.2h0m0.8-2.2h0m0.1-5h0m0.6 5.7h0m1.2-0.5h0m0.4-4.3h0m0.3 6.5h0m0 0.4h0m1-0.3h0m1.3 0.1h0m0.1-0.1h0m0.8-4.3h0m1.3 4.6h0m0.9-1.4h0m0.5-1.5h0m1.5-2.2h0m0.8-1.7h0m0.3 3.5h0m0.1 1.6h0m2.2-5.7h0m0.1 5.4h0m0.3 1h0m0.1-4.3h0m0 4h0m0.3-3.8h0m1.2 2.3h0m0.2-2.4h0m1.1-0.5h0m0.2-1.1h0m0.4 2.6h0m1.7 2.4h0m1.6 1.4h0m0.3-1.3h0m0.8-6.1h0m1.3 1.8h0m0.4 0.8h0m0.2-1.8h0m0.1 5.4h0m0.7 0.9h0m0-2.9h0m0.2-0.8h0m1.1 4.5h0m0.5-2.8h0m0.2 2.7h0m0-5.8h0m0.9 2.5h0m0.2 2.7h0m1.4-0.4h0m0.9-3.3h0m0.1-1.1h0m0.7 4.7h0m0.4 0.1h0m1.1 0.6h0m1.4-5h0m0.7 2.5h0m0.3-1.5h0m2.5 0.2h0m0 0.3h0m0.7 2.7h0m0.2-5.9h0m0.1 1.3h0m0.6 5h0m1.3-4.7h0m0.4 0.1h0m0.2-2h0m0 2.4h0m0.2 2.8h0m0.3-0.6h0m0.8-2.4h0m0.1-2h0m0.5 3.1h0m0.1 0.5h0m0.8-1.3h0m0.3 2.6h0m0.3 1h0m0.7-3.6h0m0.2 1.4h0m1.1 0.6h0m1.3 2.4h0m0.4-7.3h0m1 2.7h0m1.8-0.6h0m0.2 1.9h0m0.8 0.7h0m1.1-1.8h0m0.8-0.3h0m0-0.5h0m0.1 3h0m1.5-4.7h0m1.1 5.5h0m0.3-1.2h0m0.4 2.5h0m1.3-0.9h0m0.5 0.2h0m0.1-3.1h0m0.1-3.5h0m0.1 7h0m0-4.3h0m1 1.4h0m0.1 2.8h0m0.3-4.7h0m1.7-2h0m0.3 6.1h0m0.3-4.8h0m0.2 1.1h0m0.1 4.5h0m0.8-5.7h0m1 5h0m0.8-3.3h0m0.4 0.2h0m0.6 1.4h0m2.4-1.6h0m0.2-0.2h0m0.2-3.3h0m0.4 5.9h0m0.1-4.9h0m0.3 4.9h0m0.3-1.4h0m2.5-3.9h0m1.4 1.4h0m0.2 2.9h0m0.9-0.3h0m0.1 2.3h0m3.6-0.5h0m0.2-5.6h0m1.9 5.7h0m1.7-4.5h0m0.9 5.8h0m0.1-1.4h0m1.3-2.7h0m1.2-0.9h0m2.3-0.8h0m0.5 0.5h0m0.1 4.2h0m0.5-4.9h0m0.3 0.8h0m0.4 2.7h0m0.4 1.2h0m3.5-1.8h0m1.2-4.2h0m0.5 2.6h0m1.8 2.4h0m2.9-2.3h0m4.5 1.2h0m2.4 0.6h0m0.8 0.6h0m4.4-2.1h0m0.4 3.5h0m0.9 0.3h0m0.8-7h0m1.8 3.3h0m5.1-0.1h0m3.4 3.1h0m2.3-5.2h0m0.6 6h0m0-2.6h0m3.4-1.7h0m4.8 3.9h0m5.1-3.3h0m6.2-2.2h0m10.3 2.3h0m4.9-0.5h0m8.1 1.2h0m4.8-0.1h0m2.1-1.2h0m2.2-2.9h0m9.3 5.3h0m7.2 2.1h0m4.6-5.3h0m13.1 3h0m16.6-1.8h0m4.3 1.2h0m2.4 1.5h0m4-1.3h0m-387 3.6h0m0 7.1h0m0-3.4h0m0-0.5h0m0.1 2.7h0m0.1-1.2h0m0-2.8h0m0.1 4.6h0m0-4.4h0m0.1 0.8h0m0.1 1.9h0m0-1.4h0m0.2 1.2h0m0.1 1.1h0m0.6-3.4h0m0.1-0.8h0m78.2-2h0m0.1 0.9h0m0.6-0.7h0m1.2 2.3h0m0-1.1h0m1.8-0.8h0m0 2h0m0.3-2.7h0m0.2 1h0m0.4 0.3h0m2.3 0.5h0m0.1 1.9h0m0.6-2.8h0m0.7 2.1h0m0.8-2.7h0m1.1 0.4h0m0.3 1.7h0m0.1 2h0m1.1-2.9h0m0.8 1.4h0m0.3-1.7h0m0.9 2.3h0m0.3-1.6h0m0.5 1.8h0m0.2-3.1h0m0.1 5.7h0m0.1-5.7h0m0.2 3.5h0m0.3-2h0m0.2 2h0m1-3.3h0m0.9 2.4h0m0 2h0m0.3-4.3h0m0.2 5h0m0.1-1.7h0m0 0.1h0m0.2-2.5h0m0.3 2.4h0m0.2-1.1h0m0.3-1.6h0m0.1 3.2h0m0.7 0.4h0m0.1-3.8h0m0.1 3.6h0m0.8-2.9h0m0.7 4.5h0m0.1-2.8h0m0.2-0.3h0m0.3 4.4h0m1.1-7.4h0m0.5 5h0m0.1-3.1h0m0.1 1.4h0m0.5 1.4h0m0.4 0.9h0m0.1-4h0m0.3 4.6h0m0.1-0.6h0m0.1-5h0m0.3 2.6h0m1-0.7h0m0.6 4.3h0m0.1-3.1h0m0.1 2.2h0m0-5.1h0m0.4-0.4h0m0.4 2.1h0m0.3 5h0m0.2-3.5h0m1 0.7h0m0.3-1h0m0-1h0m0.3-2.3h0m0.1 3.5h0m0.2-3.1h0m0.1 1.7h0m0.1 3.2h0m0.4 1.9h0m0-4.3h0m0.3-0.9h0m0.3 0.7h0m0.2-2.5h0m0.2 3.5h0m0.5 0.4h0m0.3-4.1h0m0.3 6h0m0.1-2.7h0m0.4 2.6h0m0.2-1h0m0.4-4h0m0.1 3.1h0m0 1.3h0m0 1.1h0m0.5-5.6h0m0.1 1.9h0m1.2-1.2h0m0.1 3h0m0.6 1.8h0m0-5.1h0m0.1 1.8h0m0.1-1.8h0m0.2 4.3h0m0.6-3.3h0m0.1 0.2h0m0.8 3.1h0m0.1 0.5h0m0.1-5.4h0m0.1 2.3h0m0.4 0h0m0.1-0.4h0m0.8 0.7h0m0.5 2.9h0m0.3-1.5h0m0.4-1.2h0m0.1 0.3h0m0.2-0.2h0m0 3.3h0m1.2 0.2h0m0-3.4h0m0.1 2.8h0m0.4-1.2h0m0.3 0.8h0m0.5-3.8h0m0.1 1.3h0m0.1-1.7h0m0.1-1.2h0m0.3-0.7h0m0.2 5.5h0m0.2 0.3h0m0-5.6h0m0.2 6h0m0.8-2.8h0m0.2-4h0m0.1 2.5h0m0.4 1.1h0m0.3 1.2h0m0.8 2.4h0m0.2-0.3h0m0.7-2.6h0m0-2.6h0m0.9-1.8h0m0.1 1h0m0 5.2h0m0.6-3.4h0m0.1-2h0m0.2 4h0m0.4-0.9h0m0.3 2.9h0m0.1 0.7h0m0.8-6.6h0m0.3 0.1h0m0.4 5.4h0m0-3.3h0m0-3h0m0.1 6.5h0m0 0.8h0m0.3-2.8h0m0.2 1.2h0m0.4-1.6h0m0.9-2.9h0m0.3 3.2h0m0.2-2.2h0m0.9 0.2h0m0 3.5h0m0.2-0.8h0m1.3 1.5h0m0.3-2.6h0m0.5-3.5h0m0.2 2.3h0m0.3-1.6h0m0.3 6.1h0m0.1-1.6h0m0.7 0.7h0m0.3-3.7h0m0 2h0m0.3-3.2h0m0.3 4.5h0m0.1 1.7h0m0.1-1.4h0m0.4-2.9h0m0.2-2h0m1.1 0.3h0m0.2 3.5h0m0.3-0.8h0m0.3 2.2h0m0.4 1.3h0m0.3-2.9h0m0.3-4.8h0m0.2 3.4h0m0.3-1.8h0m0.4-0.7h0m0.4 5.4h0m0.7-2.3h0m0 0.3h0m0.9-0.7h0m0-0.6h0m0.3 3.4h0m0.1 0.8h0m0.2-1.8h0m0.7 1.1h0m0.2-4.9h0m0.5-0.5h0m0.3 4.7h0m0.1-1.7h0m0.3-4.1h0m0.8 7h0m0-1.8h0m0.1-1h0m0.2-3.5h0m0.4 2.9h0m0-1.9h0m0 1h0m0.5 1.9h0m0.9-0.4h0m0.3 2.6h0m0.3-5.4h0m0.3-0.2h0m0.6-1.4h0m0 3.4h0m0.8 1.4h0m0.4 1.6h0m0.4-4.3h0m0.2 1.9h0m0.2 0.9h0m0.1 1.5h0m0-6h0m0.1 1.3h0m0.2 2h0m0-1.2h0m0.1 3.5h0m0.7 0.2h0m0.6-4h0m0.1-1.2h0m0.1-1h0m0 4.9h0m0.5 2.7h0m0.2-6.8h0m0.2 3.3h0m0.5-2.7h0m0.5 5.7h0m0.3-7h0m0.1 0.6h0m0.3 2.9h0m0.1 3.7h0m0.4-4.6h0m0 4.2h0m1.1-2.9h0m0.3 1h0m0.5-0.9h0m0.5 2.6h0m0.9-0.7h0m0.1-1.2h0m0.2-3.2h0m0.1-1.4h0m0.4 6.6h0m0.1-3.8h0m0.1 4.6h0m0.2-6.8h0m1 2.2h0m0.1 1.8h0m0.2-3.8h0m0.9 6.7h0m0-4.3h0m0.5-1.5h0m0.3 4.5h0m0.4-0.8h0m0.9-2.8h0m0.2 4.5h0m0.3-1.4h0m0.2-2.5h0m0.4-1.6h0m0.6 2.5h0m0.1-2.8h0m1.1 4.2h0m0.1 1.9h0m0.8-2.2h0m0.1 2h0m0.1-4.4h0m0.1-2.9h0m0.4 4.7h0m0.8 1.7h0m0.4-5.1h0m0.1 1.4h0m0.6 3.8h0m0.4-2.4h0m0.3 0.2h0m0.2 2.8h0m0.2-1.5h0m0.2-4h0m0.6 5.1h0m0.7-5.6h0m0.7 2.8h0m0 1.4h0m0.4 1.6h0m0.4-6.5h0m1.3 2.2h0m0.2 0.2h0m0.1 2.3h0m0.7-3.7h0m0.2 5.7h0m0.5-1.1h0m0.1-3h0m0.5 1.8h0m0.3-3h0m0.2 3.4h0m0.2 2.1h0m0.4-6.7h0m0 5.7h0m0-3h0m1.2 0.6h0m0.1-3.4h0m0.6 0.9h0m0.1 2.3h0m0 3h0m0.2-4.4h0m0.3 3.6h0m0.2-1.9h0m0.2-1.6h0m0-2.4h0m0.1 5.9h0m0.2-1.4h0m1.3-0.8h0m0.8 1.1h0m1.1 2h0m0.1-5.8h0m0.4 2.4h0m0.9-0.9h0m0.2-2.6h0m0.6 2.4h0m0.3 2.7h0m0.4 1.7h0m0.6-2.8h0m0.1 0.8h0m0.2 2.9h0m0-3.9h0m0.6-3.6h0m0.5 4.6h0m0.4-0.6h0m0.2-1.7h0m0.1 4.9h0m0.2-6.4h0m0.2-0.3h0m0.4 7.1h0m0.1-6.8h0m0.6 6.1h0m0.6-2.1h0m0.9 0.8h0m0.8-3.1h0m0.2 2.8h0m0.1-3.5h0m0.2 5.3h0m0.6-1.9h0m0.2-2.7h0m0.2-0.7h0m0.2 4.1h0m0.1-4.8h0m1.3-1.2h0m0.2 4.5h0m0.6 1.1h0m0.2-3.3h0m0 3.8h0m0.5 0.4h0m0.2-1.5h0m0.1 1.4h0m0.7-6.2h0m0.9 2.5h0m0.4 1.8h0m0 1.2h0m0.4-3.8h0m0.5 1.3h0m0.2 3.5h0m0.3-5.2h0m0.6 3.6h0m0.3-0.5h0m0.4 1.6h0m0.4-4.1h0m0.7-0.9h0m0.9 6.1h0m0.8-7.3h0m0.4 2.6h0m0.1 2.1h0m0.6-2.3h0m0.1 1.2h0m0.7 0.1h0m1.3-3.5h0m0 5.2h0m0.1-2.2h0m0.6 4.3h0m2-7.3h0m0.5 5.5h0m0.5-2h0m1.1 3.5h0m0.6 0.3h0m0.4-4.6h0m0.5 3.6h0m0.2-1.5h0m2.5-2.8h0m0.1 0.7h0m1 3.6h0m0.1-2.4h0m1 2.8h0m0-3.5h0m0.3-3.2h0m0.6 3.8h0m0.7-0.4h0m1.4-1.2h0m0.9 0.9h0m0.1 0.8h0m0.5 0.3h0m0.9 3h0m0.4-2.3h0m1.3-3.7h0m0.1 1.8h0m0.2 1.2h0m0.9-2.9h0m0.7 4.9h0m0.8 0.1h0m0.2-4.1h0m0.1 0.5h0m0.5 3.3h0m1.6-2.2h0m1.5 3.8h0m0.4-2.3h0m1.1-3.8h0m0.5 3h0m0.9 2.3h0m0.4-4.6h0m0.1 3.2h0m0.2-3.7h0m0.7 0.4h0m2.6-2.3h0m1.1 4.3h0m1.6 0.4h0m1.1 1.3h0m2.7-2h0m0.1 3.7h0m0.5-2.8h0m1-1.4h0m0.9 0.4h0m0-2.6h0m1.2 3.4h0m0.9-4.2h0m4.1 5.5h0m1.8-5.5h0m1 3.2h0m2.1-2.8h0m0.8 6.8h0m2-1.6h0m1.3 0.4h0m0.4-6.4h0m0.5 4.8h0m0.5-2.3h0m1.9-2.3h0m3.4 0.8h0m2.1 4.4h0m0.3 2.1h0m0.9-0.3h0m0.1-3.9h0m0.5 2.1h0m0.1-0.3h0m2.2 2.3h0m9.9-2.6h0m2.9-1.7h0m3.7 1.9h0m0.9 2.2h0m2.6-0.3h0m5.4-0.6h0m6.7-1.9h0m1 1.6h0m3.1-2.3h0m0.2 2.7h0m1.2-3.5h0m5.6 0.9h0m1.3 2.4h0m1.5-0.3h0m0.2-5.9h0m2.8-0.3h0m2.2 3.4h0m0.7 3.9h0m0.3-1.2h0m0.1 1h0m0.7-3.9h0m2 4.4h0m0.6-6.3h0m3.2 4.2h0m2.5-3.6h0m0.9 1h0m5 4.2h0m3.5-1.5h0m0.8-0.9h0m1.4 1.6h0m0 0.8h0m4-3h0m0.7-3.9h0m1.3 0.9h0m6.8 6.3h0m0.2 0h0m1.7-0.1h0m3.2-4.8h0m2 1h0m-379.4 8.6h0m0-3.4h0m0.1-0.1h0m0 2.8h0m0-0.5h0m0-0.6h0m0-0.7h0m0.2 2.1h0m0.2-2.4h0m0.2 3.6h0m0.4-3h0m0.1 1.4h0m0.1 2.4h0m0.2 0.2h0m0.5-0.5h0m0.3 0.3h0m0-3.5h0m0.3 3.3h0m0.4 1.2h0m0.2-1.2h0m0.4 0.7h0m0.2-2.4h0m0 3.1h0m0.3-0.4h0m0-2.1h0m0.3 2.4h0m0.2-3h0m0.2 2.3h0m0.8 0.4h0m0 0.4h0m0.2-1.3h0m0.1-1h0m0 1.4h0m0.2-0.3h0m0.7 2.2h0m0.1-0.9h0m0.2-3.1h0m0.1-0.1h0m0.1 2.1h0m0.1-0.4h0m0.1 1.6h0m0.2 0.5h0m0.2-3.3h0m0.2 1.5h0m0.8 1.1h0m0.4 0.2h0m0.2-0.7h0m0.5 0.5h0m2.4-0.3h0m0.1 0.3h0m2 0.4h0m78.5-1.9h0m1 1.2h0m0.6 1.2h0m0.1-2.2h0m0.6 1.8h0m0.6-1.1h0m0.1 0.4h0m0.5-2.8h0m0.2 2.3h0m0.5 1.5h0m0.8-3.6h0m0.2 3.8h0m1.1-1.2h0m0-1.3h0m0.9 1.3h0m1 0.2h0m0.3-1.6h0m0-1.5h0m0.3 1.7h0m0.8 2h0m0.8-1.8h0m0.4-2.8h0m0.4 1h0m0.1-3.7h0m0.7 6.5h0m1.1 1h0m0.2-2.7h0m0-4.6h0m0.5 0.7h0m0.1 2.7h0m0.7-0.6h0m0-2.7h0m0.3 4.8h0m0.3 1.8h0m0.9-3.8h0m0.4 1.6h0m0.5 1.8h0m0.2-2.7h0m0.1 1.3h0m0.1-4.3h0m0.2-0.8h0m0.2 3.3h0m0.1 0.5h0m0.1 1.6h0m0-4.5h0m0.3 2.1h0m0.4 0.7h0m0 3.2h0m0.4-6h0m0.5 2.6h0m0.4 3.7h0m0-5.9h0m0.4 6.2h0m0.4-2.5h0m0.3-0.3h0m0 1.8h0m0.6-5.5h0m0.2 4.8h0m0.7-5.8h0m0.3 2.7h0m0.1 4h0m0.3-6.5h0m0.4 6.6h0m0.1-2.9h0m0.5 0.9h0m0.1 1.1h0m0.5-3.1h0m0.2-0.4h0m0.1 0.2h0m0.2 2.6h0m0 2.4h0m0-0.8h0m0.1-5h0m0.3 2.6h0m0.2 1.8h0m0.3-5.9h0m0 2.4h0m0-0.5h0m0 5.2h0m0.1 0.1h0m0.9-3.9h0m0.2 0.4h0m0.2 0.7h0m0.4-3.2h0m0 2.1h0m0.7 3.1h0m0.1-2.2h0m0.1-1h0m0.2 1.4h0m0.1 2.8h0m0.1-6.4h0m0.1 4.8h0m0.8-4.3h0m0.2 5.3h0m0.3-3.5h0m0.1-3.4h0m0.1 1.5h0m0.4 5.9h0m0.2-2.8h0m0.5-4.5h0m0.4 3.8h0m0.4-2.2h0m0.1 2.2h0m0.1-0.7h0m0.1-0.2h0m0.1 3.9h0m0.6-3.8h0m0.6 1.2h0m0.1 3.1h0m0.1-7.5h0m0.4 2.5h0m0.1-0.6h0m0-2h0m0.4 6h0m0.2-5.6h0m0.1 3.8h0m0.4 1.7h0m0.1-5.3h0m0 0.3h0m0.2 2.3h0m0.3 0.6h0m0.7 3.2h0m0.7-5.5h0m0.1 2.4h0m0-2.4h0m0 0.7h0m0.2 3.4h0m1 1.4h0m0.4-4.1h0m0.2 0h0m0.2 3.8h0m0.1-1.3h0m0.3-4.8h0m0.7 4.2h0m0.2-0.6h0m0.1 2.9h0m0.1-6.7h0m0.6 1.8h0m0.1 0.9h0m0-3.2h0m0.4 4.1h0m0.2-3.5h0m0.2 5.2h0m0.3-4.4h0m0.6 1.2h0m0.1-0.6h0m0.2 3.5h0m0.3-1h0m0.3-3.7h0m0.6 2.3h0m0.4-1.6h0m0.2 5h0m0.3-2.4h0m0.4 3.4h0m0.3-6.5h0m0.3 4.7h0m0.3-3.7h0m0 1.2h0m0.6 1.9h0m0.2-3.5h0m0.3 0.7h0m0.4 1.1h0m0.2 2.9h0m0.2-5.5h0m0.6-0.8h0m0.1 2.8h0m0.1 2.5h0m0.2-3.1h0m0.5 0.7h0m0.1 4.6h0m0.1-1.5h0m0.1-4.1h0m0.2 3.4h0m0.7 0.5h0m0.2-0.3h0m0.6-1.5h0m0.1-1.4h0m0.5-2.1h0m0.3 2.8h0m0.5 0h0m0.1 1.3h0m0.1-2.6h0m0 1.9h0m0-3.2h0m0.4-0.5h0m0.1 6h0m1-4.7h0m0.1 1.8h0m0.3 1.5h0m0.2 3h0m0.4-0.8h0m0.3-2.4h0m0.2-0.5h0m0.3-3.1h0m0.3 1.4h0m0.7-0.9h0m0.1 5.3h0m0.2 1.1h0m0.2-3h0m0.6-4h0m0.6 0.5h0m0 3.4h0m0.2-2.4h0m0 2.7h0m0.2-1.7h0m0.1-3.1h0m0 2.7h0m0.2 0.7h0m0.3 1.8h0m0.2-1.2h0m0-4h0m0.3 3.4h0m0.3-1.4h0m0.7 2.1h0m0.4-1.3h0m0.2-2.8h0m0.2-0.1h0m0 5.7h0m0.3-3.4h0m0.4 1.2h0m0.1 1.1h0m0.3 0.9h0m0.4 1h0m0.2-5.2h0m1 0.5h0m0.3 2.6h0m0.3-1.6h0m0.4 0.6h0m0.3 2h0m0.2-3.2h0m0-2.2h0m0.2 2.9h0m0.2 2.5h0m0.5-3.4h0m0.1 1h0m0.7-1.9h0m0.2 1.9h0m0.1 3.6h0m0.3 0.8h0m0.3-2.1h0m0.2-1.9h0m0.3-1h0m0.5 0.3h0m0.2 0.7h0m0-0.3h0m0.1-0.3h0m0.2 2.5h0m0.1-4.4h0m0-0.4h0m1.2 2h0m0.1 1.4h0m1 1.6h0m0.5-4.9h0m0 2.2h0m0.2 1.2h0m0.2-4h0m0.1 3.2h0m0.7 4.3h0m0.1-5.8h0m0 2.6h0m0.2-1.9h0m0.2 0.2h0m0.5 3.5h0m0.3 1.2h0m0.6-5.1h0m0.5-1.2h0m0.1 6.7h0m0.1-1.8h0m0.2-2h0m0.1 3h0m0.1-4.5h0m0.1-1.5h0m0.3 0.5h0m0 2.3h0m0.5 4h0m0.1-2.6h0m0.1-4.4h0m1 1.5h0m0.5 1.5h0m0.1 2.9h0m0.5-4.1h0m0.2 2.5h0m0.3-2.2h0m0.2-1.8h0m0.1 0.8h0m0.2-0.6h0m0.6 1.2h0m0.3 2.7h0m0.9-3h0m0.8-1h0m0.1-1.1h0m0.2 4.5h0m0.1-3.2h0m0 1.4h0m0.8 2.1h0m0.2-3.2h0m0.2 3.4h0m0.1-4.9h0m0.2 2.7h0m0.9 1.6h0m0.9-1.1h0m0.1 0.4h0m0-1.7h0m0.5 4.8h0m0.1-6.8h0m0.1 1.1h0m1.2 0.4h0m0.2 3.3h0m0.3 1.2h0m0-2.1h0m0.1-1.8h0m0.2 2.6h0m0.5 3h0m0.4-4.7h0m0.1-0.2h0m0.4-2.5h0m0.2 0.5h0m0 6.7h0m0.7-5.3h0m0.1 3.8h0m0.2-2.2h0m0.1-3.1h0m0 4.9h0m0.1-3.8h0m0.4-1.8h0m0.1 3.7h0m0.5 0h0m0.1 1.9h0m0.3-1.8h0m0-1.4h0m0.2-0.9h0m0.4 2.3h0m0.4-1.4h0m0.2-2.1h0m0.3 3.9h0m0.1-4h0m0.2 0.6h0m0-0.5h0m0.6 4.1h0m0.3-3.5h0m0.1 3.8h0m0.4-1.3h0m0 3.5h0m0.9 0.3h0m0.1-6.6h0m0.3 0.6h0m0.3 2.8h0m0 2.3h0m0.4-3.8h0m0.4-1.7h0m0.1-0.6h0m0.2 4.3h0m0.6-0.9h0m0.1-1.4h0m0.6-1.4h0m0 2.6h0m0.2-2.9h0m0.3 5h0m0.1-1.3h0m0.8 0.9h0m0.4 1.5h0m0.2-5.7h0m0 4.4h0m0.1-2.1h0m0.1 2.7h0m0.4-0.8h0m0.1-0.4h0m0.2 1h0m0.4-2.6h0m0.2-0.9h0m0.6 2.1h0m0.1-4h0m0.5 2h0m0.7 4.1h0m0.7-1.7h0m0.6-3.4h0m0.2 4.5h0m0.1-2.9h0m0.1-1.5h0m0.2 2.6h0m0.1-3.5h0m0.1 2.7h0m0.1-3.4h0m0.5 3.7h0m0.4 3.3h0m0.3-4.7h0m0.1 0.5h0m0.3 3.2h0m0.4-4.5h0m0.7 2.3h0m0.2 0.5h0m0.2-1.4h0m0.4-0.9h0m0.6-2.1h0m0 4.5h0m0.6 1.6h0m0.7-3h0m0-1.6h0m0.4 3.3h0m0.1-3.8h0m0 2h0m0.1-2h0m0.4 3.4h0m0.5-0.5h0m0.1-2.2h0m0.2 3.8h0m0.1-2.9h0m0.8-2.3h0m0.6 3.2h0m0.2-3.2h0m0.2 6.3h0m0.7-3h0m0.1-0.7h0m0.2 2.7h0m0.2-3.9h0m0.1 4.1h0m0.8-3.7h0m0.5 1.7h0m0.5-1.8h0m0.8 3.3h0m0.9-3.3h0m0.2 2.8h0m0.7 1.4h0m0.3-1.8h0m0.2-1.5h0m0.2 0.3h0m0.2 0.4h0m0.6 3.3h0m0.3-0.2h0m0.2-5.8h0m0.3-0.3h0m0.1 3.5h0m0.1 3.4h0m0.2-6.3h0m0.2 5.1h0m0.8-4.6h0m0-0.2h0m0.2 4h0m0.4-2h0m0-1.3h0m1 5.2h0m0.3-5.6h0m0.1 1.6h0m0.2 0.4h0m0 1.7h0m1.2 1.6h0m0.1-4.3h0m0 1.2h0m0.1-2.8h0m0.1 1.8h0m0.4 3h0m0 2h0m0.2-6.7h0m0.1 1.3h0m0.5-1.9h0m0 3.2h0m0.7-1.5h0m0.4 2.2h0m0.1-0.9h0m0.8 1.2h0m0.2-4.5h0m0.1 3.8h0m0-3h0m0.7-1h0m0.4-0.2h0m0.4 5.9h0m0.2-3.5h0m0.3-0.6h0m0.2 0.7h0m0.1-0.4h0m0.3 0.1h0m0.2 0.6h0m0.2 3.8h0m0.2-3.6h0m0.6-0.4h0m0.2 2.2h0m0.7-2.3h0m0.4 3h0m0.5-2.7h0m0.1 3.6h0m0.2-2h0m0.2-2.3h0m0.2-1h0m0.6 0.2h0m0.1 1.1h0m0.4 3h0m0.8-2.1h0m0.6-0.8h0m0 3h0m0.2-1.4h0m0.8-3h0m0.2 3h0m0.3-0.9h0m0.3 2.9h0m0.4 0.3h0m0.8-0.7h0m0.1-2.1h0m0.2-1.7h0m0.7-1.8h0m0.4 3.6h0m0.6-3h0m0.7 7h0m0.1-5.5h0m0.5 0.7h0m0.2 1.9h0m0 2.1h0m0.6 0.8h0m0.4-1.7h0m0-2.4h0m0.1-0.1h0m0.4 0.9h0m0.1 0.5h0m0.5 1.6h0m0.4-6.2h0m2.2 1.6h0m0.3 2.2h0m0.9 1.7h0m0.2-0.3h0m0.6-3h0m0.1 1.1h0m0.7-1.9h0m0.6-1h0m0.1 2.2h0m0.6 0.9h0m0.8 3.1h0m0.2-3.2h0m1 0.2h0m0.1-2.6h0m0.3 3.4h0m0-2.8h0m0 3.8h0m0.8-3.7h0m0.1 1.8h0m0.1-3h0m0.3 1.1h0m0.2 1.8h0m0.6 1.9h0m0.8 1h0m0.1-5.6h0m0.1 6.5h0m0.4-5.1h0m0.4 1.4h0m0.3 1.4h0m0.5-3.7h0m0.3 3h0m0.3 1h0m0.2-0.9h0m0.8-1.3h0m0.9 2.4h0m0.9-1.7h0m0.4 0.4h0m1.3-0.8h0m0.1-2.4h0m0.1 0.8h0m0.2 1.3h0m0.4-0.8h0m2.3 0.1h0m0.1 1.3h0m0.4-3.8h0m1.8 1.7h0m0.4 4.9h0m0.3-3.5h0m0.2 1.7h0m0.3-2.7h0m0.1 4.1h0m0-3.8h0m1.5 3.1h0m0-1.1h0m0.9-2.7h0m0.1 3.1h0m1.3-3.3h0m0.9 4.7h0m0.5-2.3h0m0.1-2.5h0m0.4 0.7h0m0.6 3.7h0m0.2-0.5h0m1.3-1.5h0m0.5-1.4h0m0.9 2.4h0m1.5 0.7h0m0.8-3.1h0m1.5 2.6h0m0.3-1.1h0m0.4 0.1h0m0.3-2.1h0m0.5 0.9h0m1.2 2.4h0m0.3-2.7h0m0.7-0.8h0m0.2-0.7h0m1.3 1.8h0m0.2 4.9h0m0.7-4.3h0m0.2 1.1h0m0.7-1.2h0m2.3 1.1h0m0.1 2.2h0m0-2.3h0m0.4-1.3h0m1.2 1.2h0m0.5-2.4h0m0.3 2.8h0m0.4-0.5h0m0.9 0.4h0m0-2.3h0m0.1 0.4h0m0.6-1.5h0m0.1-0.1h0m1.4 0.4h0m0.9 2.7h0m0.9-0.1h0m0.1-0.6h0m1.1 2h0m0.3-3.8h0m0.1 4.1h0m1 2h0m0.1-3.2h0m0.3-0.9h0m0.9 0.1h0m0.1-1.8h0m1.9 0.6h0m1.8 2.2h0m1.1 0h0m0.3-4.4h0m2.1 3h0m0 0.2h0m3 0h0m0.4 0h0m0.3-1.7h0m0.3 1.1h0m3.8 1.5h0m1 0h0m0.5-0.9h0m0.2-1h0m2.8 0.4h0m2.1 3.8h0m3.1-5.7h0m0.2 2.6h0m0 0.2h0m2-0.8h0m1 1.5h0m0.5-3.3h0m0.1-0.9h0m0.7 3.1h0m0.7 3.5h0m0.8-7h0m1 4.6h0m0.4-2.3h0m0.4 1.8h0m4 0.3h0m0.1 1.3h0m2-1h0m1.1-3.6h0m1.8 1.1h0m2.9 0.6h0m1.2-1.9h0m0.3 1.9h0m1 0.2h0m4.2-0.2h0m0.1-1.5h0m0.5 1.9h0m0.3-2.5h0m0.6 3.9h0m1.1 1.2h0m1.2-2h0m0.1-3.3h0m2.7 5.6h0m0.7-4.1h0m0.2 2.7h0m0.2-0.9h0m1-0.7h0m2.2-0.5h0m0.6 4.5h0m0.1-1.9h0m0.8-4.9h0m0.7 2h0m0.2 2h0m0.1 0.2h0m3.5-4.1h0m0.1 5.5h0m0.5-2h0m0.4 2h0m1-3h0m0.7-0.2h0m0.9-1.1h0m0.3 1.2h0m3.5-2.2h0m2.2 3h0m2.5 0.6h0m0.3-1h0m1.6 3.7h0m1-4.9h0m-382.4 6.6h0m0.1 0.1h0m0.9 0.2h0m0.5-0.1h0m0.3 0h0m0 0.2h0m1.1 1h0m0.1-0.9h0m0.2 0h0m0.2 0.8h0m1.6-0.3h0m0.7 0.7h0m0.2-2h0m0.4 2.7h0m0.2-0.3h0m0.9-0.7h0m0.1-0.4h0m0.1-0.6h0m0.1 2.7h0m0-0.1h0m0.3-3.2h0m0.1 3.4h0m0.1-2.2h0m0.9-0.5h0m0.8 2.2h0m0.2 0.7h0m0.4-1.7h0m0.2 0.2h0m0.4-1h0m0.1 2.7h0m0.3-2.2h0m0.2 2.9h0m0.1-3h0m0.4 0h0m0.1 1.2h0m0.4-2.1h0m0.4 4.5h0m0.3 0h0m0.6-0.7h0m0.2 0.8h0m0.6-3.2h0m0 2.8h0m0.1 0.7h0m0.3-1.2h0m0.6 1.5h0m0.5-3.7h0m0.2 3.8h0m0.8 0.1h0m0.2-1.7h0m0.5 2.2h0m0.6 0.8h0m0.1-1.1h0m0 0.8h0m0.1-2.6h0m0.6 3.1h0m0.4 0h0m1-1.4h0m0.3 1.3h0m0.6-2.1h0m2.1 1h0m0.5-0.3h0m1 1.1h0m3.1 0.4h0m54-0.9h0m0.3-0.7h0m0.1-2.7h0m0.2 4.3h0m0.8-3h0m0.2 2h0m0.3-3.2h0m0.4-2.6h0m0.3 0.7h0m0.1 0.2h0m0.3 4.3h0m0.2-4.9h0m0.2-0.3h0m0.5 6.5h0m0.2-3.5h0m0.4 1.1h0m1.1-2.6h0m0.5 0.5h0m0.1 4h0m0.2-6h0m0.4-1h0m0.1 0.9h0m0 4.8h0m0.1 1.8h0m0.6-5.3h0m0.9 4.5h0m0-1.1h0m0.3-2.3h0m0.2-2.8h0m0.1 6.5h0m0.2-4.4h0m0.7 2.3h0m0.6-2h0m0 4.6h0m0.8-4.1h0m0.1 4.3h0m0.6-7.1h0m0.9 5.1h0m0.4 1.1h0m0-5.6h0m0-0.3h0m0.2 4.1h0m0.7-3.7h0m0 3.3h0m0.2-2.3h0m0.1 3.5h0m0.1 1.5h0m0.8-7.3h0m0.3 2.5h0m0.1 1.3h0m0 2.2h0m0.1-1.8h0m0.2-3.4h0m0.1 3h0m0.8 3.4h0m0.7-2.1h0m0.1-4.5h0m0.2 7h0m0-6.1h0m0.1 0.4h0m0.2 2h0m0.4 1.7h0m0.9-3h0m0.2 2.2h0m1.1-0.1h0m0.1-4h0m0 5.7h0m0.1-5.2h0m0.6 5h0m0.1 1.4h0m0.9-3.8h0m0.8-2.7h0m0.4-0.9h0m0.3 3h0m0.6-2.8h0m0.3 2.4h0m0.1-0.7h0m1.6 4.9h0m0.4-2.9h0m0.1 2.7h0m0.1-5.4h0m0.5 0.3h0m0.8 4.7h0m0-4.9h0m0.5 4h0m0.1-2h0m0.5-1.1h0m0.1-1.4h0m0.4 4.8h0m0.1-2.7h0m0.7-1.3h0m0.9 4.7h0m1.2-4.3h0m1 0.7h0m0-0.8h0m0.6-0.9h0m1.7 2.1h0m0.5-3.2h0m0.5 0.5h0m0.6-0.6h0m0.2 4.7h0m0.2-2h0m0.1 0.4h0m0.2 4.3h0m0.8-4.5h0m0.5-1.9h0m0 4.9h0m0-0.3h0m0.3-4.1h0m0.8 1.6h0m1.2 0h0m0.3-0.8h0m0 1.8h0m0.1-1.3h0m1.3 4.7h0m0.1-6.4h0m0 5.3h0m0.9-6.3h0m1.3 1.1h0m0.1 1.1h0m0.3 5.2h0m0.3-3.6h0m1.6-0.6h0m0.5 1.6h0m0.5 0.9h0m0.2-2.9h0m0.4 3.9h0m1.1 1h0m0.6-6.6h0m0.2 3.8h0m0-1.3h0m0.5-1.9h0m0.5 5h0m0.2-3.2h0m0.1-0.7h0m0.2 1.8h0m0.4 0.6h0m0.3-2.6h0m0.2 3.1h0m0.6 1.7h0m0.1-6.8h0m0.4-0.3h0m0.7 5.8h0m0.6-1.4h0m1.1 0.2h0m0.7-4.8h0m0 6h0m1.3-0.7h0m0.5 0.7h0m2.2-1.6h0m0.7 0h0m0-1h0m0.4-0.7h0m0.9 0.7h0m0.2-1.3h0m0.6-2.1h0m0.5 3.1h0m0.1 2.5h0m1.6-5h0m0.5-0.3h0m1 5.9h0m0.3 1.5h0m1.2-4h0m2 2.6h0m0.8-0.7h0m1-3.9h0m0.5-1.8h0m0.2 6.9h0m0.3-0.7h0m1.5-2.1h0m0.2-2.6h0m0.9 4.2h0m0.1-2.8h0m0.4 1.2h0m2.1-0.3h0m1.8 1.5h0m0.3-2.3h0m0.6-0.6h0m0.5-0.3h0m1.1-1.7h0m1 5.3h0m0.6-3.7h0m0.1 4.8h0m0.2-4.9h0m1.1 2h0m1.2 3.2h0m0.2-3h0m0 3.1h0m2-6h0m1.3-0.4h0m1.1 1.6h0m1.7 4.8h0m0.8 0.4h0m0.1-4.1h0m0 1.3h0m0.4 1h0m0.6-1.4h0m0.4-4.1h0m2.3 5.7h0m0.1 1.3h0m1.6-1.8h0m0.6-3.8h0m0.7-1.8h0m1.1 5.7h0m1.1-0.3h0m0.3 0.1h0m1.5-0.9h0m7.6 1.3h0m1.7-0.4h0m1.5 0.3h0m0-4h0m0.4-0.7h0m1.8 1.6h0m0.2 2h0m0.6-4.1h0m3.7 0.6h0m0.4 2.8h0m3.6 3.6h0m0.4-5.7h0m0.3 2.5h0m0.6-2.5h0m5.1 2.4h0m0.9-3.5h0m2.2 5h0m9.4-5.6h0m5 1.7h0m0.6-1.9h0m2.6 4.7h0m7.8-4h0m0.8 2.7h0m1.8-3.1h0m2 0.8h0m1.8 4.2h0m0.1-4.1h0m2.7 4.7h0m5.6-5.1h0m1.5 1.7h0m5.7-2.3h0m4.1 6.4h0m0.6-4.6h0m5.8 2.4h0m2.9-3.8h0m0.7 4.5h0m7.8-0.3h0m15.2-0.9h0m0.2-3.2h0m0.6 2.7h0m2.5-1h0m2-2h0m4.3 7.1h0m1-4.6h0m2.1-0.6h0m3.1-1.7h0m0.8 3.2h0m2.9 3.9h0m0.3-7.5h0m3.8 2.4h0m4.8 4.4h0m3.2-6.1h0m2.1 2.1h0m5.1-1.3h0m6.5 3h0m6.5-1h0m10.9-2.1h0m-347.3 6.7h0m0.9 0.5h0m0.1-0.2h0m0.4 0.2h0m0.2-0.2h0m1.5 0.4h0m0.3 0.8h0m2 0.9h0m0.3-1.7h0m0.1 1.9h0m0.1-0.8h0m0.2-1.3h0m0.1 1.5h0m0-0.5h0m0.2 1.1h0m0.7-0.1h0m0.2-2.1h0m0.6 1.2h0m0.3 1.2h0m0.7 0.5h0m0.2-0.7h0m0.2 0.6h0m0.9-2.9h0m0.9 1.9h0m0.3 2.3h0m0.2-4h0m0.1 2h0m1-0.3h0m0.4 1.9h0m1 1.4h0m0.5-1h0m0.9-1.6h0m0.2 2.4h0m0.2-2.6h0m0.1 3.2h0m0.2 0h0m0.1-1.5h0m0.1-1.6h0m0.6 3.7h0m0-2.3h0m0.2 0.9h0m0.5-1.8h0m0.6 2.2h0m0.6 1.6h0m0.2-1.5h0m0.2 1.4h0m0.1-0.9h0m0.1-1.8h0m0.3 0.2h0m0.7 0.3h0m0.9 1.6h0m0.9-0.2h0m0.4-1.8h0m0.2 1.2h0m0.6 0.7h0m0.8-0.7h0m0.3 0.7h0m1.1-0.8h0m0.3 1.1h0m2-0.4h0m0.8 0.7h0m1-0.4h0m30.9-1.3h0m0 0.5h0m0.2 0.4h0m1-2.4h0m0.2 3.2h0m0.2-1.6h0m0.4-1.1h0m0.2-2.7h0m0.2 3h0m1.1-2.8h0m0.1 0.6h0m0.2-0.6h0m0.2 3h0m0.1-1.9h0m0.2-3h0m0.2 0h0m0.3 6.8h0m0.3-3.1h0m0.3 0.6h0m0.1-2.2h0m0.4 4.5h0m0.6-5.6h0m0 2.4h0m0.2-3h0m0.2 7.2h0m0.5-7.1h0m0.1 4.5h0m0.1 0.7h0m1.1-4.1h0m0.3 1.2h0m0-0.2h0m0 5.1h0m0.1-2.7h0m0.2-0.2h0m0.2-0.8h0m0.4-1.5h0m0-1.2h0m0.9 5.9h0m0.4-3.3h0m0.7 1.5h0m0.1-0.8h0m0-0.8h0m0.3 3.9h0m0.3-4.9h0m0.8-2.1h0m0.5 5h0m0.1-3h0m0.1-2.2h0m0.1 6.1h0m0.9-5.6h0m0.5 4.8h0m0.9-2.6h0m0.1 1.5h0m0.1 2.2h0m0.1-4.9h0m0.6 4.5h0m0.1-0.7h0m0.1 0.7h0m0.2-2.5h0m1.1-1.4h0m0.6 3.5h0m0-4.6h0m0.3 1.2h0m0.8 4.2h0m0.2-0.5h0m0.4-1.8h0m0.9 1h0m0.1-3.4h0m0.5-1.9h0m0.3 3.3h0m0.4 3.3h0m0.6-0.3h0m0.2-3.8h0m0 3.1h0m0.6-3.1h0m0.3-0.3h0m0 2.8h0m0.3-5.3h0m0.3 6.8h0m0.7-4.8h0m0.2-1.1h0m0.6 3.2h0m0.1 2.9h0m0.2-4.8h0m0.4 2h0m0.4-2.8h0m1.1 1.1h0m0.7 3.7h0m0.3-5.1h0m0.5-1.1h0m0.2 3.5h0m0.1 2.5h0m0.3-3.7h0m0.3-0.2h0m0.2 5.2h0m0.2-2.5h0m1.7 0.5h0m0.3-3.6h0m0.8 2.1h0m0.9-1h0m0.2-3h0m1.8 4.5h0m0.2 0.5h0m0.6 0.9h0m0-3.9h0m0.2-1.4h0m0.1 6.4h0m0.3-2.4h0m0.1-2.1h0m0.1-0.5h0m0.3 5.5h0m0.1-0.8h0m0.3-4.8h0m0.5-0.4h0m0.2 0.8h0m2.4 5.1h0m0.1 0.2h0m1.8-5h0m0.7-0.3h0m0.4-0.9h0m0.1 6.4h0m0.5-0.9h0m0-1.6h0m0.3-4.5h0m0.5 5.8h0m0.4-4.8h0m0.2 3.5h0m0.3 0.5h0m0-3.5h0m1.3 2h0m0.3-2.8h0m1.3 0.5h0m0.3 4.6h0m0.2-3.6h0m0.1 2.9h0m1.4 0.3h0m0.1 0.9h0m1.1-0.9h0m1.1-1.6h0m1 2.7h0m0.2 0.5h0m0.8-2.6h0m0.9 1.4h0m0.4-0.4h0m0.8 0.1h0m0.1-3.6h0m0.9-1.3h0m0.3 1h0m0.1 0.9h0m0.8-1.1h0m2.3 1.2h0m1-2.2h0m0.5 1.7h0m0.1 2.1h0m0-3h0m0 0.2h0m0.9 4.2h0m0.6-6.3h0m0 5.4h0m0.6 0h0m0.7-5.4h0m0.2 6.8h0m0.1-2.7h0m1-1.3h0m0.1-0.6h0m1.2-0.8h0m0.8 5.1h0m1.7-0.6h0m3.5-1.6h0m0.4 2.4h0m2-1.1h0m0.1 2.2h0m4-2.4h0m1.9 1h0m0-5.2h0m0.5 0.3h0m1.1-0.8h0m1.9 0.8h0m0.6 5.4h0m1.6-3.4h0m0.3 4h0m0.8-4.9h0m6.7-2.6h0m1 1.7h0m0.2 2.3h0m0.6-1.3h0m0.7-1.8h0m0.6-0.8h0m0.2 2.6h0m0.3 0.2h0m0.4 4.4h0m0-4.8h0m1.3 1.2h0m2.7 0.9h0m1.9-1.9h0m1.8 5.1h0m0.6-1.9h0m0.1-4.9h0m2.5-0.9h0m0.9 4.8h0m0.6-2.9h0m0.2 3.2h0m0.9-2.6h0m0.3 5.3h0m0.3-6.1h0m0.5 5.9h0m2.9-0.3h0m0.2-4.4h0m1.3 3.7h0m0.1 1.2h0m0.8-3.8h0m0.8 3.7h0m1.6-7.4h0m2 2.6h0m2.5 4.1h0m1.2-6.2h0m1.2 1.9h0m0.7 2.4h0m0.2-0.5h0m2.6-3.2h0m0.7 1.3h0m8.7-2.7h0m0.7 6.1h0m0.2-1.2h0m1.4-3.5h0m3.2 5.6h0m0.2 0h0m13-6.3h0m1 3.5h0m5-1.7h0m4.2 1.9h0m4.1 0.2h0m2-0.1h0m2.2-0.4h0m0.7 2.9h0m3.3-2.7h0m0-2.9h0m0.1 5.7h0m0-3.8h0m2.9-2.7h0m1.3 3.4h0m5.1-3.6h0m0.9 2h0m14.4-0.2h0m2.4-2.3h0m1 7h0m4.3-4.4h0m8.1-0.3h0m0.5-1h0m1.2 0.2h0m2 2.8h0m2.7-0.4h0m3.6-0.7h0m2 1.9h0m1.2-3.9h0m0.2 3.6h0m1-1h0m0.8 0h0m2 3.6h0m3.4-5.6h0m1.7 1.8h0m0.5 1.8h0m16-1.2h0m7.7-2.7h0m3.7-0.2h0m10.1 5.2h0m9.5-1.8h0m0.8 0.7h0m1.4 0.1h0m0.8-4.9h0m-339.6 7.5h0m0.5 0.8h0m1.1 0h0m1-0.7h0m0.6 0.8h0m0.6 0.7h0m0.5-0.6h0m0.9 0.7h0m0.2-0.4h0m0.2 0.9h0m0.2 0.5h0m0.2 0.1h0m0.3-0.6h0m0.2 0.5h0m0.4 0.1h0m0.2-1.6h0m0 0.6h0m0 0.8h0m0.9-1h0m0.2-1.4h0m0 2.9h0m0.7 0.2h0m0-0.8h0m0.3 0h0m0.8 1.1h0m0.1 1.2h0m0.1-3.1h0m0.5 2.3h0m0.2 0.3h0m0.2-4.4h0m0 2.2h0m0.3 2.6h0m1.3-2.5h0m0.3 0.5h0m0.1 3h0m0.3-2.1h0m0.5 1.8h0m0.3 0.1h0m0.6-4.8h0m0.1 2.6h0m0.2-0.4h0m0 1.4h0m0.8 0.7h0m0 0.7h0m0.3 0.9h0m0.2-0.5h0m0.6-1.8h0m0 2.2h0m0.2 0.1h0m0.2-0.8h0m0.3 0.9h0m0.8 0.9h0m0.1-3.7h0m0.8-1.1h0m0.3 2.2h0m0.3-0.3h0m0.2 1.8h0m0.1-0.8h0m0 1.8h0m0.3-1.9h0m0.1-0.2h0m0 1.3h0m0.6 0.3h0m0.5 0.3h0m0.2-0.9h0m1.5-1.4h0m0.6-0.3h0m1.2 0.2h0m0.7 1h0m4 0.7h0m2.1 1.1h0m6.6-4.9h0m0.1 2.8h0m0.1-3.9h0m0.7 1.3h0m0.6 3.2h0m0.1-1.5h0m0.2-2.5h0m0.1-2.3h0m0.2 2.6h0m0.1-1h0m0.3 1h0m0.2 2.6h0m0.1-4h0m0.5 2h0m0.2 4.3h0m0.1-5.6h0m0.6-1.9h0m0.6 6.8h0m0.2-1.5h0m0.2-0.9h0m0.3-2.2h0m0.4-1.1h0m0.1 3.9h0m0.6-1.2h0m0.4 3.6h0m0.1-6.8h0m0.7 4h0m0.2-1.5h0m0.1-0.3h0m0.1-1.2h0m0.5 6h0m0-2.7h0m0.2 1.2h0m0.1-1.4h0m0.2-2.2h0m0.1-2h0m0 4.7h0m0.6 2.7h0m0.3-0.5h0m0.4-2.6h0m0-4.4h0m0.7 5.5h0m0.3 0.6h0m0.2-2.3h0m0.5-3.9h0m0.1 5.5h0m0.4-3.4h0m0.4 5.3h0m0.3-7.6h0m0.2 3.9h0m0.7 1.4h0m0.1-3.7h0m0.2 6.1h0m0.3-7.5h0m0.3 2.9h0m0.1 2.2h0m0.5-3.8h0m0.1 1.2h0m0.4 1.8h0m0.4 0.6h0m0.4 1.7h0m0 1h0m2.1-3h0m0.1 2h0m0.2-2.9h0m0.6-3.9h0m0.1 2h0m0.6 1.2h0m0.2 4h0m0.2-6.5h0m0 4.6h0m0.2-4.9h0m0.2 1.6h0m0.8 1.2h0m0.1 1h0m1.6 1.1h0m0.2 1.5h0m0-3.9h0m0.2 4h0m0.2-3.1h0m0.5 3.2h0m0.1-5.8h0m1.3 2.2h0m0.8 1.6h0m0.1 1.1h0m0.4 0.4h0m0.2-2.5h0m0.8 0.1h0m0.3 0.4h0m0.5-0.9h0m0.3 2.6h0m0.4-3.7h0m0.6 0.6h0m0.5 1.9h0m1.4-4h0m0.2-0.6h0m0.4 7h0m0.2-4.1h0m0.2 3.4h0m2.3-2.6h0m0 2.7h0m1.5-4h0m0.4-2.2h0m0.9 4.7h0m0.9 0.2h0m0.4-1.7h0m1.1-3.6h0m0.2 6.5h0m0.5-6h0m0.2 0h0m0.3 0.2h0m0.8 5.6h0m0.1-0.1h0m0.2-1.2h0m0.1-3.8h0m0.2 3.5h0m0.5 2.3h0m0.3-7.2h0m0 1.6h0m0.9-0.3h0m0.2-0.8h0m0.1 5.6h0m0.3 1.3h0m0.4-5h0m0.2 0.4h0m0.6-1.1h0m1.1 5.6h0m0.4-5.8h0m0.5 1.9h0m0.5-2h0m0.1 5.3h0m1.1-2.8h0m0.2-2.1h0m0.3-0.2h0m1.7 2.9h0m0-2.5h0m0.2 1.9h0m0.3-0.7h0m1.1 0.8h0m1.4 3.1h0m0.2-7.1h0m0.3 3.4h0m0.3 4h0m1.9-2.6h0m2.7-1.7h0m0.2 3.4h0m0.2-1.8h0m0.6-3.6h0m0.1 2.7h0m0.1-3.2h0m0.2 2h0m1 0.6h0m0.6 0.3h0m0.7 2.8h0m0.6 0.2h0m0.7-0.9h0m0.6 0h0m0.3-0.7h0m0.1 1.8h0m1.9-3.3h0m0.3 0.9h0m2.8-4.4h0m0.5 0.4h0m0.5 0.9h0m0.1-0.8h0m0 1.6h0m0.7 4.2h0m1.1-3.5h0m0-0.4h0m1.3 3h0m0-0.4h0m0.8-2h0m0.6 0.2h0m0.5 2h0m0-5h0m0.9 3.6h0m2.7 0.4h0m0.8-3.7h0m0.3 6.5h0m0.5-5.1h0m1.1 2h0m1.2-3.8h0m0.4 7.5h0m0.1-4.7h0m0.9-1.2h0m2.3 3.4h0m0-4.3h0m0.4 5h0m0.8-1.9h0m0.3-1.3h0m0.7 4.8h0m0.4-6h0m0.2 0h0m1.2-0.6h0m2.4 2.5h0m0.2-1.4h0m3.3-0.4h0m0.3 4.4h0m1.1-1.6h0m0.7-0.1h0m1.1-0.8h0m0.7-3.2h0m0.6 1.1h0m0 4.2h0m0.7 0.7h0m2.2-4.7h0m2.1 2.3h0m0.5 1.2h0m1.9-3.9h0m5.1 6.2h0m0.8-2h0m1.5 0.6h0m0.1-0.9h0m1-4.9h0m0.1 5.7h0m0.1-3.9h0m2.8 2.2h0m0.2 2.8h0m0.1-1.5h0m1.4-0.6h0m0.2-4.1h0m0 0.7h0m0.4 3.9h0m0.7-0.8h0m0-0.6h0m1.1-0.3h0m0.5-3.2h0m2.7 5.8h0m1.5-2h0m1.6 2.7h0m1.7-2.9h0m0.1-2.3h0m0-1.2h0m14.6 3h0m0.4-1h0m1.9 0.4h0m3.2 1.2h0m0.6 1.7h0m6.4-4.1h0m3.3 2.8h0m0.8 1.6h0m5.5-5.1h0m3.6 2.8h0m5.4-3.2h0m0.8 1.3h0m1.3 0.9h0m7.2 4.9h0m1.4 0h0m1.1-1.8h0m2.6-0.5h0m1.1-2.8h0m3.2 4h0m3.9-3.5h0m3.6 2.8h0m4.3-1.9h0m3.9 0.5h0m4.2 2.4h0m3.7-3.4h0m6.1-1.5h0m3.1 5.4h0m3.6-2h0m4.3-0.1h0m1-0.8h0m6.7-0.7h0m5-2.5h0m1.8 4h0m2.5-1.7h0m18.5-2h0m0.3 5.2h0m4.5-6.3h0m8.6 4h0m4 1.2h0m2.2-1.9h0m1.5 0h0m-315 4.4h0m0.6 0.4h0m1.8 0.8h0m1.1-1.4h0m0.1 1.4h0m0.5 0.1h0m0.1-1.6h0m1.8 0.4h0m0 2.2h0m0.1-1.4h0m0.2-0.5h0m0.2 2h0m0.1-0.2h0m0-0.5h0m0.7 0.7h0m0.2-2.2h0m0.5 0.4h0m0.7 3h0m0.2-0.4h0m0.3-2.6h0m0.1 3.1h0m0.8-1.8h0m0.2 1.3h0m0 0.9h0m0.3 0.1h0m0 0.3h0m0.7-0.2h0m0-0.2h0m0.2-3.4h0m0.5 4h0m0.3-0.1h0m0.1-3.6h0m0.3 0.4h0m0.5 2.1h0m0 1.5h0m0.1-3.8h0m0.2 0.8h0m0.1 1.1h0m0 2.4h0m0.1-5.4h0m0.4 4.7h0m0.6 0.8h0m0.1 0h0m0.1 1.1h0m0.4-2h0m0.4-2.6h0m0.3 4.3h0m0.2-6.4h0m0.1 6.6h0m0.3 0.1h0m0.3-3.6h0m0.1-1.7h0m0.3 3h0m0.8 2.5h0m0.1-1h0m0.1 0.9h0m0.2-6.9h0m0 4.4h0m0.2 1.3h0m0.2 1.8h0m0-4.4h0m0.2-2.2h0m0.2 6.9h0m0-0.1h0m0.1 0h0m0.1-2.7h0m0.1 1.1h0m0.1 1.6h0m0.1-1.3h0m0.1-1.1h0m0-0.2h0m0.1-1.9h0m0.2 1.2h0m0.1 3.4h0m0.4-5.2h0m0.6 3.1h0m0.8-5.4h0m0.1 2.9h0m0.1 3.5h0m0.3-4.2h0m0.2 1.5h0m0.1 2.5h0m0.6-4.6h0m0.8 2.6h0m0-0.9h0m0.1 3.2h0m0-1.1h0m0.4-1.2h0m0-3.7h0m0.1 3h0m0.2 1.5h0m0.6-2.7h0m0.1 3.2h0m0.1-1.6h0m0.6 3.3h0m0-2.7h0m0.1 0.7h0m0-3.4h0m0.2 0.8h0m0.3 2.6h0m0-0.7h0m1.6 0.2h0m0.2-1.2h0m0-1.4h0m0.4 3.9h0m0.1 1.2h0m0-1.4h0m0.5-3.9h0m0.3-1.1h0m0.1 5h0m0.1-4h0m0.3-0.6h0m0.1 6h0m0.3-5.5h0m0.1 1.3h0m0.1 3.5h0m0.1-3.6h0m0.5 2.7h0m0.2-3.2h0m0.2 4.4h0m0.3-3h0m0.3-2.4h0m0.2-0.5h0m0.5 6.5h0m0.1-0.8h0m0.7-3.4h0m0.1 2h0m0.1-1.7h0m0.7-0.3h0m0.2 4.2h0m0.7-1.6h0m0-1h0m0.2 0.1h0m0.2-2.1h0m0 1.1h0m0.3 1.9h0m0.1-5.3h0m0.6 1.7h0m0.3 4.5h0m0.8-6h0m0.1 5.6h0m0-1.5h0m0-1.5h0m0.8 1.9h0m0.3-4.2h0m0.2 2.3h0m0.7 2.4h0m0.4 1.3h0m0.2-4.3h0m0.3-2.1h0m0 3.5h0m0.3-1.1h0m0.1 1.3h0m0.5-0.9h0m0.2 3.9h0m0.1-5.2h0m0.1 4.1h0m0.1-5.4h0m0.4 5.6h0m1.6-4.4h0m0.1 3.4h0m0-4.8h0m0.1 1.9h0m0 1.7h0m1.2-3.3h0m0.4 4.8h0m0.3-5.4h0m0.1 5.3h0m0-1.3h0m0.7-1.5h0m0.6 2.3h0m0.1-3.2h0m0.1-2.2h0m0.1 7.1h0m0.7 0.6h0m0.1-5.3h0m0.3 3.9h0m0.2-5.3h0m1.4 0.6h0m0.1 2.3h0m0.1-4.1h0m0.8 1.1h0m0.1 3.6h0m0.2 2.9h0m2.1 0.4h0m1.1-6.4h0m0.8 1h0m0.6-1.8h0m0.5 6.2h0m0.2-2.4h0m0 0.9h0m0.1 0.9h0m0.2-1.2h0m0.6-0.6h0m0 0.2h0m0.4 2.3h0m0.4-6.1h0m0.1 0.2h0m0.4 5.4h0m0.3-2.9h0m0.5 3.4h0m0.6-2.6h0m0.3 2.1h0m0.4-4.8h0m0.5 2.2h0m0.1 2.3h0m0.3 1.2h0m0.4-3.9h0m0.2 3.5h0m0.8 0.4h0m0.2-1.9h0m0.7-1.9h0m0 2h0m0.5 0.7h0m0.1-6.1h0m0.5 1.9h0m0.2 5.5h0m0.2-7.6h0m1.6 7.1h0m0.7-6.8h0m0.1 2.3h0m0.2-2.3h0m1.8 7.3h0m0.2-1.2h0m0.2-3.3h0m0.6 2.5h0m0.4-3.2h0m0.5 3.2h0m0.9-3h0m0.2 0.8h0m1.7 1.3h0m0.2 1h0m0.6 0.3h0m0.1-5.6h0m0.6 3.5h0m0.1-0.7h0m0 1.2h0m0.2 2.4h0m0.4-2.1h0m0.3 0.5h0m0.8 2.7h0m0.3-4.9h0m0.5 0.2h0m0.3-0.7h0m0.1 5.1h0m1.3-3h0m1.2 2.3h0m1.2-5.4h0m0.5 6.3h0m0.2-2.1h0m1.2-0.1h0m0.4-5.1h0m0.4 5.4h0m0.3 1.6h0m1.9-0.8h0m0.3-2.8h0m0.1 2.9h0m0.9-6h0m0 2.7h0m0.8-2.5h0m0.9-1h0m1.5 5.9h0m0.3-5.8h0m0.2 0.9h0m0.7 0h0m0.4 5.4h0m2.8-1.3h0m0 1.1h0m0.2-1.8h0m0.7-1.2h0m0.1-3.3h0m1.7 2.3h0m0.7 3.4h0m0.5 1.8h0m1.4-5.2h0m0.9-0.9h0m0.3 2.6h0m1.4-2.8h0m0.1 4.6h0m1.2 1.2h0m0.1 0.8h0m0.7-6.7h0m4-0.7h0m1.3 6.2h0m0.5-1h0m1.1-5.4h0m0.8 4.5h0m0.5-3.7h0m0.2 4.3h0m0.3 1.9h0m0.8-6.3h0m0.3 0.8h0m0.6 3.3h0m0.7-2.9h0m1.5 5.1h0m1.4-4.6h0m0.9 3.7h0m0.5-4.4h0m1.9 2.2h0m0.2-3.7h0m0.2 4.1h0m3.1-0.8h0m0.3-2.8h0m0.3 1.5h0m0.3 5.1h0m1.1-4.2h0m0.6-1.8h0m2.1 5.4h0m2-2.9h0m2.3 0.4h0m0.4-2.2h0m0.4-0.2h0m1.3 4h0m0.1 1.2h0m0.4-3.2h0m2.8 4h0m2.6-3.4h0m4.1-1.5h0m2 0.4h0m0 1.2h0m0.8-3.6h0m5.1 0.2h0m0.3 4.4h0m0.8-5.6h0m0.7 6.6h0m4.1-4.9h0m0.9-1.6h0m3.3 5.3h0m0.6-4.5h0m0.2 0.6h0m0.8 4.7h0m5.1-3.2h0m7.3-2.4h0m1.5 4.1h0m3.9-3.1h0m1.9 0.3h0m0 5.3h0m3.4 0.1h0m3-6.8h0m4.1 0.3h0m0.9 4.5h0m4.9 1.5h0m1.9-3.7h0m1.4 2.4h0m0.3 2.1h0m1.8-5.6h0m3.7 0.2h0m10.3 0.7h0m1.6-2.4h0m5.4 5.2h0m4.1-5.6h0m12.1 3.6h0m8.3-0.2h0m13.5 0h0m14.9 0.6h0m10.4-3.9h0m2 3.5h0m0.8 0.9h0m0.9-2h0m5.7 0.2h0m5.6-0.6h0m-289.4 6.6h0m1 0.1h0m0.5-0.6h0m0.6 1.1h0m0.8-1.4h0m0.2 1.3h0m1 0.6h0m0.1-0.2h0m0.6-0.4h0m0.2 1.3h0m0.1-0.1h0m0.5-0.8h0m0.1-1.1h0m0.8-0.4h0m0.1 2.7h0m0.5-2.9h0m0.3 2.4h0m0.4 1.4h0m0.6-2.2h0m0.4-0.4h0m0.2-1h0m0.6 0.1h0m0.6 4.1h0m0.2-1.6h0m0.1-0.4h0m0.6 2.2h0m0.1-3h0m0.2 2.5h0m0.4-0.8h0m0.1 1.1h0m1.1 0.9h0m0.3-4.7h0m0.3 4.8h0m0.4-2.3h0m0.1 2.4h0m0-4.8h0m0.3-0.1h0m0.3 2.4h0m0.2 0.7h0m0.2 2.8h0m0.6-4.3h0m0.1 4.4h0m0-5.2h0m0.4 0.9h0m0 1h0m0.1 1.8h0m0.2 1.2h0m0.8-3.7h0m0.1 0.7h0m0.6 4.1h0m0.1-7.3h0m0 6.3h0m0.3 1.1h0m0.1 0.2h0m0.2-1.5h0m0.1-2.6h0m0.3-2.6h0m0.1 3.8h0m0.1-2.8h0m0.9 3.7h0m0.1-2.3h0m0.3 3.7h0m0.2-0.9h0m0-3.1h0m0.4 1h0m0.2 0.3h0m0.1 3.2h0m0-1.8h0m0.4-5.3h0m0.6 2.6h0m0.5-1.9h0m0.1 4.9h0m0 0.3h0m0-0.5h0m0.1-2.9h0m0.1 3.3h0m0.7-6.1h0m0.2 6.1h0m0.1 1.2h0m0.1-6.7h0m0 2.6h0m0.4 1.1h0m0.1 3h0m0.2-6.8h0m0 3.3h0m0 2.4h0m0.1-4h0m0.4 1.8h0m0.2 3.2h0m0.3 0.5h0m0.8-1.7h0m0.4 0.5h0m0.1-4.9h0m0.3 3.3h0m0.1-0.5h0m0.1-4.3h0m0.5 0h0m0.1 7.4h0m0.3-0.6h0m0.5 0.6h0m0.3-0.4h0m0.1-6.5h0m0.1 5.7h0m0.1-1.9h0m0.1-2.1h0m0.2 3.8h0m0.4-0.3h0m0.2 0.2h0m0.4 0.9h0m0.3-2.7h0m0.6 3.5h0m0.4-0.7h0m0.6-1.3h0m1.2-3.6h0m0.8-2.1h0m0.2 3.5h0m0.1 0.5h0m0.6 2.1h0m0.1-5.5h0m0.4-0.1h0m0.1 1.9h0m0.2 3.7h0m0.5-4.8h0m0.3 1.2h0m0.1 0.1h0m0.2 0.5h0m0.8 4.3h0m0.4-1.7h0m0.4 1.9h0m0.6-3.2h0m0.9-4.3h0m0.5 2.5h0m0.3-0.5h0m1.7-2.3h0m0.1 2.8h0m1.3-1.7h0m0.1-0.7h0m0.2 0.4h0m0.1 6.3h0m0.7-7.1h0m0.8 7.6h0m1.1-3h0m0.1-2.7h0m0.1 4h0m0.6-4h0m0.2 3.3h0m2.5 0.1h0m0.1-3.1h0m1.9 3.2h0m0.9-4h0m0.5 1.2h0m0.3-1.2h0m0.4-0.8h0m0.1 7h0m0.4-0.4h0m0-1.9h0m1.5-4.2h0m0.2 5h0m1.5 0.3h0m0.1-0.1h0m1-1h0m0.1-1h0m0.3-3.4h0m0.4 4.9h0m0.3-2.3h0m0.3-0.5h0m0.4-2.9h0m0.2 0.4h0m0.1 6h0m0.8-1.2h0m0.2-0.3h0m1.2-0.3h0m0.4 0.8h0m2.8 2.1h0m0.5-4.7h0m3.3 1.2h0m0 0.4h0m0.1-4.1h0m0 6.3h0m1.3 0h0m0.2-5.6h0m0.4-0.6h0m0.1 4.6h0m0.1 1.5h0m0.8-0.1h0m0.6-2.4h0m0.3-3.5h0m0.4 4.9h0m0.4-5h0m0.5-0.4h0m0 4.8h0m0.1-0.6h0m0.2-4h0m3.2 7.4h0m0.8-6.4h0m1.6 0.2h0m0.3 4.4h0m1.5-6h0m0 7h0m1.9 1h0m0.1-5.3h0m0.3 2.1h0m0.3 2.3h0m0.5-0.7h0m1.1 0.4h0m0.4-4.8h0m0.8 3.4h0m0.2-1.7h0m0.4 1.5h0m0.3 0h0m0.5-1.7h0m1.2 1h0m0.1 2.1h0m1.5-6.5h0m1.6 5.2h0m2.4 0.3h0m0.3-3.3h0m0.4 2.6h0m1.3-1.4h0m0.2-0.6h0m0.5 2.8h0m0.1 1.5h0m0.5-1.1h0m3.3-1.9h0m1.3 0.2h0m0.1 2.2h0m2.9-4.1h0m2.2 1.9h0m0.3-4.1h0m0.6 7.5h0m0.9-2.3h0m1.7-1.1h0m1.8-0.5h0m1.7-1.7h0m2.4 4.4h0m1.7 1h0m0-1.4h0m0.6-5.9h0m0.1 5.2h0m3 1.4h0m0.2-1.4h0m1-3.2h0m3.3-0.2h0m0.6 3h0m2-4.1h0m2.5 4.7h0m1.1-5.2h0m2.6 4.8h0m1.9-3.3h0m7.6 3.2h0m3.5 2.4h0m2.4-3.6h0m2.6 0.3h0m1.3 3.7h0m0.8-6.2h0m1 4.5h0m0.4-0.7h0m6.9-1h0m1-2.9h0m3 1.1h0m5.9-2.6h0m2.2 0.7h0m3.1 3h0m0 2.1h0m1.8-4.8h0m0.5 5.4h0m2.8-2.7h0m0-2.1h0m2.7-0.7h0m0.1 1.5h0m2.5 5.3h0m1.3-2h0m2.4-3.7h0m2.3 3.7h0m11.5 1.3h0m11.2-0.8h0m0-5.7h0m3.5-0.1h0m3.4 7.3h0m13.9-7.5h0m5.5-0.1h0m17.7 6.2h0m0.3 0.2h0m5.2-0.8h0m1-4.1h0m11.7-0.1h0m12.4 5.3h0m-276.7 2h0m0.4-0.3h0m1.2 0.1h0m0.8-0.5h0m0.8 1.2h0m1.1-0.5h0m0.2-0.8h0m0.5 0.9h0m1.1 0.3h0m0.1 0.6h0m0.1-0.6h0m0.1 1.1h0m1.3-1.7h0m0 1.1h0m0.4 0.6h0m0-1.3h0m0.3 2.5h0m0.7-0.2h0m0.2 0.4h0m0.1-3.4h0m0.5 2.6h0m0.2-1.1h0m0.1-1.6h0m1.1 3.2h0m0.6-1.5h0m0.1 0.6h0m0 0.5h0m0.1 1.3h0m0.5 0.5h0m0.5 0.9h0m0-1.3h0m0.2-4.2h0m0.3 0.8h0m0.3-1.1h0m0.2 3.5h0m0 1.8h0m0.7-3.8h0m0 2.2h0m0.2-2.8h0m0 3.2h0m0.2-1.8h0m0.1 3.5h0m0-0.3h0m0.1-5.3h0m0 1h0m0.8 5.5h0m0.1-4.9h0m0.2 2.1h0m0.1 2.7h0m0-4.1h0m0.2 2.6h0m0.1-3.2h0m0 4.6h0m0.3-2.4h0m0.2-3h0m0.4 5.7h0m0.3-0.4h0m0.2-1.4h0m0.1-5h0m0.2 2.8h0m0.1 2.7h0m0.2 2.2h0m0.2-2.3h0m0.1-3.1h0m0.2 1.2h0m0.3-0.8h0m0.2 5.2h0m0.2-3.3h0m0.2 1.9h0m0-3.2h0m0-0.5h0m0.5 1.3h0m0.1-1.7h0m0.3 0.5h0m0-1.1h0m0 5.8h0m0.6-0.4h0m0-1.4h0m0.3-2.9h0m0.5 0.1h0m0.2 3.4h0m0 1.1h0m0.5-3.8h0m0.3-2.5h0m0.1 2.7h0m0 2.2h0m0.1-2.6h0m1 2.5h0m0-2h0m0.5 0.4h0m0.2-0.4h0m0.1 3.1h0m0.4-1.8h0m0.2-1.1h0m0.1 2.4h0m0.1-1h0m0.1-3.5h0m0.8 3.6h0m0.3 1.4h0m0-5h0m0.3 3h0m0.1 2.6h0m1.5-0.3h0m0.3-1.2h0m0.1-4.9h0m0.1 0.6h0m0.3 2h0m1.5 2.4h0m1.3-1.3h0m0.4 2h0m0.4-3.1h0m1-1h0m0.7-1.8h0m1.1 2.1h0m1.1-0.6h0m1-2.3h0m0.5 0.7h0m1-0.6h0m1.1 5.6h0m0.2-3.3h0m1.1 2.3h0m0.5-0.7h0m0.4-4h0m0.1 2.4h0m0 5h0m0.7-6h0m0.5 5.2h0m1.4-2.5h0m0.2-3h0m1.2 1.8h0m1.5-0.2h0m1.1-2.3h0m0.4 0h0m1 4h0m2.7 1.5h0m2-2.6h0m0.1-1.8h0m0.1 1.6h0m0.8 1.1h0m0.2-2.2h0m0.1 4h0m0.1-0.4h0m0.3-3.8h0m0.4-1.5h0m0.6 6.5h0m0.2-4.4h0m1.1-0.5h0m1 3.5h0m0 2.2h0m0.3-5.4h0m0.3 0.5h0m1.8-1.2h0m0.5 2.4h0m0.6-4.1h0m0.5 3.6h0m1 0h0m0.7-0.2h0m0.8 2.5h0m1.6-2h0m1 0.1h0m2.5-2.9h0m0.1 3.3h0m1.8-4.4h0m0.2 4.9h0m0.3 2.1h0m0.5-3h0m2.2-0.4h0m0.3 2.5h0m2.2-4.2h0m1.1 3.3h0m2.2-2.7h0m0.5 1.1h0m1.5 1.6h0m3.5-3.7h0m0.4 1.4h0m0.2 1.6h0m0.8-0.2h0m4.5-3.1h0m2.8 5.5h0m5.7-5h0m3.1 0.4h0m0.2 4.7h0m0.1-4.7h0m0.3-1.3h0m0.7 4.5h0m1.7 1.6h0m1.3-0.2h0m0.5-5.5h0m2.3-0.4h0m1.3 6.3h0m0.5-3.9h0m0.4-0.3h0m8.6 2.6h0m0.5-4.2h0m0.8 2h0m1.4-0.6h0m0.1-1.8h0m2.8 2.4h0m4.5 3.8h0m1-6.2h0m1.6 4.7h0m2.3-0.5h0m4.3-2.9h0m2.7 4.2h0m5.4-4.6h0m1 3.3h0m6.4-1.7h0m2.8-2.6h0m6.4 0.6h0m0.4-0.1h0m7.7 1.6h0m2.9 0.4h0m2.3-2.1h0m6.6 1.9h0m17.9 0.3h0m1.5 2.7h0m1.3-5.9h0m0.3 2.1h0m6.9-0.1h0m2.3 5.1h0m1.9-5.3h0m2.5 5.5h0m5.7-7.2h0m0.1 0.6h0m5.6 0h0m0.8 1.5h0m1.3-1.6h0m2.9-0.9h0m0.2 5.3h0m1.4 1.8h0m1.9-3.2h0m2.3-3.7h0m2.4 1.5h0m10.2 0h0m10.2 5.2h0m9.7 0.4h0m-256.7 1.3h0m0.2 0.2h0m0.2 0h0m1-0.5h0m0.2-0.3h0m1 0.4h0m0.1 1.1h0m0.4-1.6h0m0.1 0.7h0m1.6 0.5h0m0 1.5h0m0.6 0.1h0m1.5-0.1h0m0.1-2.2h0m0.9 3h0m0.1 0.1h0m0.6-1.7h0m0.1-1.5h0m0.3 2.8h0m0.1-1.8h0m0.1 1h0m0.1 1.6h0m0.8-3.9h0m0.2 2.2h0m0.4 0.5h0m0.6 1.7h0m0.6 0.2h0m0-2.1h0m0.2 0.1h0m0.3-2.7h0m0.2 5.3h0m0.2 0.6h0m0.4-4.6h0m0.3-1.1h0m0.4-0.1h0m0.2 5.7h0m0-1.2h0m0.1 0.3h0m0.1 0.9h0m0.3-5.6h0m0.1 3.4h0m0.4 0.5h0m0.1-3.5h0m0.2-0.4h0m0.1 3.1h0m0.1 0.9h0m0.2-0.9h0m0.1 0.6h0m0 2h0m0.3-4.6h0m0 0h0m0.1 5.6h0m0-0.2h0m0.1-2.2h0m0.1-0.7h0m0-2.7h0m0 4.5h0m0.1-3.8h0m0.6-0.4h0m0.1 2h0m0.5 3.7h0m0.4 0.6h0m0.1-1.8h0m0.1 1.4h0m0.2-0.7h0m0.1-4.3h0m0.3 0.4h0m0 1.4h0m0.4 0.3h0m0 3.5h0m0.1-4.2h0m0.2-1.3h0m0.2 5.6h0m0.2-0.5h0m0-4.9h0m0.3-0.6h0m0.5 3.3h0m0.8-2.3h0m0.5 4.8h0m0-4.3h0m0.3-3.1h0m0.2 5.1h0m1.1-3.8h0m0 5h0m0.1-2.6h0m0.7 0.9h0m0-0.3h0m0-0.6h0m1 3.3h0m0.4-2.4h0m0.5-1.2h0m0.3 1.6h0m0.4 2h0m0.5 0.5h0m0.7-2.6h0m0.2 0.1h0m0.3 1.5h0m0.2-0.2h0m0.9-0.4h0m0.3 1.4h0m0.2-0.6h0m0.7-4.1h0m0 4.5h0m0.9 0.1h0m0.4-0.6h0m2.3-1h0m0.9-3.1h0m1.3-1.6h0m0.2 3h0m0.5-1.2h0m0.4 4.2h0m0.8-7h0m1.2 5h0m2-0.2h0m0.4 2.7h0m0.8-2.6h0m0.4 0.3h0m1.3 0.5h0m1.7-2.5h0m1.6 2.6h0m0.1-0.3h0m1.1-0.8h0m0.2-0.9h0m0.2 1h0m0.8-0.4h0m2.4 0.3h0m0.6 1.1h0m0.2 1.5h0m0.5-5h0m0.3 4.9h0m0.2-3.2h0m1 2.9h0m1.5-4.9h0m1.6 5.6h0m0.1-4.4h0m0.3-2.2h0m0.6 5.2h0m0.4-4.8h0m1.7 3.4h0m2.8-3h0m2-0.2h0m4.6 3.7h0m0.1-1.8h0m2.3 2.1h0m1.5-5.3h0m2.9 0.4h0m0.1 6.7h0m6.5-5.2h0m1.1-1.7h0m1.1 2.7h0m0.2 0.6h0m0.2 1.3h0m4.2-3.9h0m1.7 6h0m4 0.1h0m1.5-1.1h0m2.5 0.1h0m1.7-2.5h0m2.5 3.2h0m1.3-6.4h0m1.2 4.5h0m0.2-2.7h0m0.5-0.1h0m5 1.6h0m0.2-2.3h0m4.1 1.5h0m0.8-2.4h0m12 3.1h0m0.1-1.5h0m4.3 3.4h0m11.2-5h0m1.8 0h0m2.1 0.1h0m3.5 3.2h0m4.2-1.3h0m7.8 2.4h0m2.8-3h0m1-2.1h0m3.5 1.4h0m4.8 5.8h0m7.7-0.7h0m1.2 0h0m11.3-2.3h0m4.3-0.6h0m5.3 1.3h0m0.1-3.3h0m4.1 2h0m4.6-2.7h0m1.4 5.5h0m0.6-4.8h0m2.3 3.5h0m3.3-4.4h0m0.6 2.4h0m0.7 1.2h0m2.4 3h0m8.3-2.2h0m4.6-5.2h0m11.8 2.6h0m1.1 2.4h0m4.6 0.1h0m-237.6 2.8h0m0 0.3h0m0.3 0.4h0m0.6-0.2h0m0.3 0.4h0m0.5-0.2h0m0.6 0.1h0m1 0.8h0m0.4-0.1h0m0.3 0.2h0m1.4 0.4h0m0.2 0.8h0m0.3-0.4h0m0 0.1h0m0.2-2h0m0.3 1.9h0m0.6 0.1h0m0.4-0.3h0m0.6 1.2h0m0.2-2h0m0.7 2h0m0.7 0.4h0m0.4-1h0m0.1-2.7h0m0.9 3.1h0m0.3 0.8h0m0.4 0.2h0m0.1-4.2h0m0.3 4.7h0m0.1-2.5h0m0.6-2h0m0.2 2.2h0m0-1.8h0m0.1 4h0m0.1 1h0m0.1-5.1h0m0.3 2.3h0m0.5 2.2h0m0.2-3.4h0m0 4h0m0.1-1h0m0.2 1.1h0m0.2-5.3h0m0.1 0.1h0m0 3.9h0m0.2-0.3h0m0.1-3h0m0.1 4.2h0m0.6 0.5h0m0.2-0.4h0m0-3.9h0m0.4 5h0m0.1-5.1h0m0.2 2.5h0m0.3-2.2h0m0.2 1.4h0m0.1-2.3h0m0 4.8h0m0.4 1.1h0m0.1-2.2h0m0-2.8h0m1 5.5h0m0.4-2h0m0.2-3.2h0m0 4.2h0m0.1-3.3h0m0.1 4.5h0m0.3 0.3h0m0-0.2h0m0.1-4.6h0m0.7 2.5h0m0.1-0.3h0m0.2-1.7h0m0.2 3.1h0m0.1-6.3h0m0 2.8h0m0-0.2h0m0.4 0.4h0m1.4-2.5h0m0.1 3.2h0m0.2-2.9h0m0 2.9h0m0.1 0.8h0m0-0.8h0m0.1 1.3h0m1 1.6h0m0-1.2h0m0.2-1.1h0m0.3-3h0m0.8 0.8h0m0.6-1.6h0m0.3 4.2h0m0.1 1.7h0m0.9-0.6h0m0.9-0.7h0m0.6 2h0m0.7-6.7h0m0 6.1h0m0.1 0.4h0m0.1-1.3h0m0.8 1.1h0m0.7 0.3h0m0.5-4.4h0m0.4 4.3h0m0.1 0.6h0m0.1-0.6h0m0-1.9h0m1.3-1.8h0m1.3 1.7h0m2.3-3.9h0m2.1 1.4h0m0.2-2.1h0m0.7 0.8h0m1 1.7h0m1 0.9h0m4 2.4h0m2.1-3.2h0m2 4.3h0m0.7 0.2h0m0.5-5.3h0m4.1 2.8h0m0.5-5.2h0m0.2 5h0m0.1 0.7h0m0.1-2.3h0m0.8 0.3h0m1-3.8h0m0.6 1.9h0m6.6 1.4h0m0.3-0.9h0m1.1-0.6h0m0.2 2.1h0m0 0.7h0m0.6-1.8h0m0.6 1.8h0m0.3 0.4h0m1.7-4.7h0m0.4 5.6h0m14.6 1.7h0m0.3-4.9h0m0.3-0.9h0m0.3-1.5h0m0.7 1.8h0m5.5 1.1h0m4.8 1.6h0m2.4-2.6h0m0 1.4h0m1.8 2.8h0m0.6-4.3h0m2.3 4h0m0.4-0.5h0m1.5-2.8h0m0.8-2.7h0m0.6 7.4h0m0.4-3.9h0m2.3 2.4h0m2.2-3.7h0m7.8-0.6h0m6.8-0.8h0m3.3 0.5h0m0.9 2.7h0m4.7-3.8h0m2.5 4.6h0m1.6-3.8h0m15.2-0.1h0m3.6 4.7h0m8.5 1.9h0m1.1-7.1h0m16.5 6.1h0m24.9 1h0m3.9-4.3h0m2.4 3.4h0m0.3 1.2h0m1.1-3.5h0m1.2-0.9h0m2.1 4.2h0m2.1-3.4h0m4.1-4h0m3.3 4.4h0m1.5-0.3h0m-211.5 4h0m2 0.2h0m0.4 0.3h0m0.2 0h0m0.4 0.4h0m0.1-0.9h0m0.5 1.5h0m1.1-0.7h0m0.4 0.7h0m0 0.1h0m0.5 0.9h0m0.1-2.2h0m0.4-0.7h0m0 2.4h0m0.2-2.2h0m0.2 1.8h0m0.1 0.9h0m0.5-2.9h0m0.1 2.9h0m0.8 1h0m0.1-0.1h0m0.1-1h0m0.1-2h0m0 2.9h0m0.5-2.9h0m1.2-0.5h0m0 4.3h0m0.1-1.9h0m0.2 2h0m0.3-4.3h0m0.2 2h0m0 0.7h0m0.2-3.1h0m0.3 0.2h0m0 4.2h0m0 0.2h0m0.7-1.7h0m0.6 0.8h0m0.3 2.1h0m0-1.2h0m0.2-4h0m0.5 1.8h0m0.1 3h0m0-0.5h0m0-4.6h0m0.1 0.5h0m0.1 2h0m0.6-2.6h0m0.1 0.2h0m0.5 2.9h0m0.5 1.3h0m0 1.2h0m0.1-4.1h0m0-0.2h0m0.2 5.2h0m0.1 0h0m0.1-2.7h0m0.1 0.3h0m0.4-1.6h0m0.1 1.8h0m0-2.5h0m0.5 2h0m0-1.8h0m0.1 3.7h0m0.8-1.5h0m0.1 1.9h0m0-2.6h0m0.1 1.6h0m0.1-2.8h0m0.3 0h0m0.1 4.9h0m0.2-2.7h0m0-0.3h0m0.1 3h0m0.1-1.1h0m0.2-0.3h0m0.3 1.6h0m0.1-0.4h0m0 0.6h0m0.7-4.5h0m0.1 4.6h0m0.1-3.7h0m0 3.4h0m0.3 0.3h0m0.5-1h0m0-2.8h0m0.1-2.1h0m0.2-0.6h0m0 4.3h0m0.1-0.3h0m0.7-0.9h0m0-0.6h0m0.7 0.4h0m0.2 3.5h0m0.1-3.3h0m0.6-0.3h0m0.2 2.2h0m0.1-2.1h0m0.1 3.3h0m0.6-2.3h0m0.4 0.3h0m0.1-1.2h0m0.4 1.9h0m0.5-0.9h0m0.6-0.1h0m0.1-0.3h0m0.3 1.4h0m0.1-1.2h0m0.2 0.9h0m0.1 0.6h0m0.6 0.4h0m0.5-0.8h0m1.2-2.2h0m0.2 2.5h0m0.7-0.8h0m0.1 1.6h0m0.1-0.3h0m0.2 0.6h0m0.8-0.3h0m0.4 0.2h0m0.5-6.9h0m0.8 3.7h0m1.9-4.1h0m0.7 5.9h0m11.8-0.7h0m0.2-3.9h0m6.3 4.5h0m0.1-3.6h0m3.6 4.2h0m2 0h0m1.5-6.1h0m0.2 2.3h0m0.4 2.1h0m0.1-3.3h0m1.6 4.3h0m2.8 0.1h0m1.4 0h0m2.6 0.2h0m0.2-2.7h0m4.3 0.6h0m1.7-2.4h0m3.5 2.4h0m0-0.2h0m1.1-3.7h0m3.2 6.3h0m1-3.6h0m9.1 4.8h0m13.9-3.8h0m0.8 1.7h0m0.4-5.7h0m5.4 6.3h0m1.4-5.8h0m0 5h0m1.3-4.5h0m3.5 1.4h0m0.6 0.7h0m0.3 4.1h0m2-4.5h0m1.7-1.8h0m6.9 2.2h0m0.1-1.8h0m2.6 3.6h0m5.3-3.2h0m2.7 1.3h0m6.8 1.3h0m1.2-3.4h0m6-0.7h0m6.2 6.8h0m0.5-3.4h0m10.9 3.3h0m0.2-1.3h0m1.9-1.9h0m1.4 0.5h0m3.8-0.9h0m0.2-2.1h0m10.9 4h0m7.9-2.2h0m0.5 1.6h0m-181.5 3.8h0m0.1 0h0m0.4 0.2h0m0.1 0.4h0m0.5-0.7h0m0.1 0.6h0m0.7 0.8h0m0.6 0.3h0m0.3-0.2h0m1.7-0.2h0m0.8 0.2h0m0 0h0m0.1 0.5h0m0.2 0.3h0m0.2-0.8h0m0-1.8h0m0.7 2.8h0m0.2-0.9h0m0 0.5h0m1.1-0.5h0m0.5 1h0m0 0.4h0m0.2-1.7h0m0.1 2.2h0m0.1-2.7h0m1.2 3.8h0m0-2.2h0m0.6-2.5h0m0.5 0.7h0m0.1 2.6h0m0.1-3.2h0m0.7-0.1h0m0.2 4.4h0m0.6 0.6h0m0-4h0m0.5 2.3h0m0.1-3.4h0m0 5.3h0m0.1-1.5h0m0.5 2h0m0-5.8h0m0.1 1.1h0m0.1-0.2h0m0.7 5.1h0m0.1-0.1h0m0-1.7h0m0.3 1h0m0.5-4.7h0m0.1 1.4h0m0.2 3.6h0m0.2-1.7h0m0.1 2.2h0m0.1 0.2h0m0.2-5.1h0m0.2 4.1h0m0.3-2.7h0m0.2 4.4h0m0.3-4.2h0m0.2 3.2h0m0.1 1.9h0m0-1h0m0.3-0.2h0m0.2 0.3h0m0.2 0.5h0m0-2.4h0m0.3 2.9h0m0-4.4h0m0.1-1.2h0m0-0.2h0m0.1 0.1h0m0.4 5h0m0.1 0.7h0m0-3.3h0m0.6 0.6h0m0.1-1h0m0 3.6h0m0.2-4.3h0m0.1-0.2h0m0.3 4.5h0m0.1-1.3h0m0.2 1.1h0m0.1-4.5h0m0.7 3h0m0-0.7h0m0.3 2.2h0m0.5-0.3h0m0-1.5h0m0.3-1.2h0m0.1-2.3h0m0.2 4.5h0m0.8-2.6h0m0 0.3h0m0 2h0m0.7-0.5h0m0.1-5.1h0m0.3 5.9h0m0.1 0.4h0m0.6 0.1h0m0.2-2.3h0m0.2-3.6h0m0.3 4.6h0m0.7-0.4h0m0.5 1.5h0m0.7-1.1h0m0.5 0.7h0m0.1-0.5h0m0.1-5.4h0m0.2 5.2h0m0.3-1.8h0m0.9 2.8h0m0.8-1.1h0m0.7 1.3h0m2.3-1.3h0m1.1-2.7h0m1.2-1.1h0m1.7 5.4h0m2.8-5h0m0.3-1.2h0m1.5 3.9h0m0.4-4h0m2.4-0.1h0m1.3 5.4h0m10.7 0.6h0m2.1-2.4h0m0.3-4.5h0m5.4 1.5h0m4.2-1.4h0m0.2 2h0m8.5 3.5h0m2-2.2h0m1.9-3.1h0m1.4-0.2h0m1.4 2.6h0m0.7-0.7h0m0.1-1h0m3.2 6.2h0m0.5-2.7h0m1.7 1h0m3-3.5h0m11.7 3.1h0m7.7-2.2h0m1.4-2.9h0m7.2 1.1h0m9.7 3h0m1.7 0.9h0m4.4 0.6h0m6.6-1.5h0m1.1 3h0m4.5-2.4h0m1.5-1.1h0m4.2-1.2h0m6.2 0.8h0m0 0.2h0m6-0.9h0m1.2-1.2h0m0.4-1.6h0m20.2 7.4h0m4.6-5.4h0m-173.5 6.2h0m1.5 0.8h0m0-0.8h0m0.4 1.8h0m0.6-1h0m2 0.1h0m0 1.3h0m0.1-1.1h0m0.3 1.2h0m0.2-0.1h0m1-1.3h0m0.3 2.8h0m0.3 0h0m0.1-1.6h0m0.4-0.4h0m0.6 0.4h0m0 1.4h0m0.4-2.6h0m0.1 2.2h0m0 0.5h0m0.3-3.3h0m0.3 0.9h0m0.1 0.8h0m0.1-1.1h0m0.4 2.6h0m0 1.2h0m0.3-0.5h0m0.1-1.8h0m0.3 2.2h0m0.1-0.2h0m0.2-3.4h0m0.4-1h0m0.6 3.3h0m0.3-0.3h0m0.4-1.1h0m0.1-1.6h0m0.1 3.2h0m0.3-0.9h0m0 2.4h0m0.4-4.3h0m0 5h0m0.2-3.6h0m0.7 0.4h0m0.1 2.7h0m0.3-3.2h0m0.1-0.4h0m0.1 5h0m0.2-0.5h0m0.2-1.4h0m0.4 1.9h0m0.3-2.2h0m0-3.3h0m0.5 4.4h0m0 0.9h0m0-5.2h0m0.1 0.6h0m0-1.1h0m0.4 1.5h0m0.4 4.6h0m0.5-0.5h0m0.5-1.4h0m0.1-0.2h0m0 2.1h0m0-3.3h0m0.3 2.9h0m0.1-3.4h0m0.1 3.9h0m0-4.6h0m0.2 1.9h0m0.2 3.3h0m0.1-0.4h0m0.4-1.7h0m0.3-0.6h0m0.1-1.9h0m0 0.1h0m0.3-0.1h0m0 0.5h0m0.1 2.2h0m0.2-2.7h0m0.1 1.5h0m0.2-1.5h0m0.2 3.9h0m0.7 0.4h0m0-2.9h0m0.1 3.3h0m0.4-5.7h0m0.5 2.1h0m0.4 2.8h0m0.5-2.8h0m0 0.9h0m0 1.7h0m0.5-1.9h0m1 0.2h0m0.3 0.1h0m0.1 0.7h0m0.4 1.1h0m0.1 0.8h0m1.1-1.1h0m0.1 1.1h0m0.2-1.6h0m0.9-0.1h0m0.3 0h0m0.5 1.5h0m0-1h0m0.7 1.3h0m0.9-3.7h0m0 3.3h0m0.7-0.3h0m0.4-0.1h0m0.5 0.6h0m1.6-4.8h0m4.7 2.2h0m0 1.3h0m2.4-4.2h0m8 4.7h0m6.2 0.5h0m0.2-1.1h0m12.4-1.5h0m0.1-4h0m1.2 1.8h0m2.4 3.3h0m0.9-0.2h0m1.2-4.9h0m3.1 2.2h0m2 3.2h0m0.9-5.1h0m2.7 2.2h0m3 0.5h0m1.3 2.7h0m2.9 0h0m4.7-6.2h0m0.2 3.2h0m1.3 1.4h0m2.3-3.6h0m2.7 3.8h0m0.1-4.4h0m0.1 0.2h0m8.7 6.5h0m0.8-5.7h0m0.2 6h0m2.3-2.4h0m6.6-4.8h0m0.9 5.6h0m1.8-4.7h0m0.8 2.9h0m2.1-3.6h0m0.6 3.2h0m0.4-3.4h0m3.2 7.4h0m6.9-5.3h0m1.7 2h0m31-3.1h0m1.4 5.6h0m-151 1h0m0.2 0.3h0m0 0.3h0m0.5 0h0m0.7-0.5h0m1.7 1.5h0m0.1-0.1h0m0.5 0.2h0m1.6-0.3h0m0.4-0.3h0m0.1 0.5h0m0.3 0.5h0m0.2 0h0m0.3 0.1h0m0-0.7h0m0.3 1h0m0.1-2.1h0m0.3 2.4h0m0.5-0.6h0m0.3 0.7h0m0.9 0.5h0m0.1 0.4h0m0.4-1.4h0m0.6 0.6h0m0 0.6h0m0.4-3h0m0.6 3.8h0m0.9-0.2h0m0.4-1.4h0m0 1.9h0m0.2-3.6h0m0.2 0.8h0m0.2 2.5h0m0.2 0.9h0m0.3-0.7h0m0.2-0.7h0m0.2 0.8h0m0 0.8h0m0.1-5.2h0m0.6 0.4h0m0.3 4.6h0m0.3-2.4h0m0 3h0m0.1-2.1h0m0.7-2.8h0m0.1 5.6h0m0-0.8h0m0.1-4.6h0m0.2 3.7h0m0.2 1.4h0m0-1.5h0m0.6-3.2h0m0.1 2.8h0m0.1 2.4h0m0.5-1.7h0m0.1-4.1h0m0.2 4.6h0m0-2.2h0m0.2 2.8h0m0.3-4.1h0m0.4 0.1h0m0 4.7h0m0.4-4.6h0m0-0.3h0m0.3 0.4h0m0.1 3.1h0m0 2.3h0m0.1 0.1h0m0.3-4.5h0m0.2 3.6h0m0.1-2.2h0m0.1 1h0m0 1.8h0m0.4-4.7h0m0.4 3.5h0m0.6-6.3h0m0.3 6.4h0m0 0.9h0m0.2-4.2h0m0.2 2.1h0m0.1-2.4h0m1.7 2.8h0m0 0.8h0m0.4-2.1h0m0.1-0.3h0m0 0.6h0m0.1 2.5h0m0.6-2.8h0m0.2 0.4h0m0.6 2.8h0m1.1-1.8h0m0 0.9h0m0.4-0.8h0m1.3 1.2h0m0.1-0.9h0m0.4-0.1h0m0.1 1.6h0m0.2-0.3h0m0.4-6.3h0m0.3 5.3h0m0.4 0.7h0m1.6 0.1h0m3.3-1.7h0m0-1.9h0m2.8-0.1h0m5.2 2.5h0m0.6 0.3h0m1.4-2.2h0m1.6 0h0m5.9-1.1h0m0.4 0.5h0m1.3-3.4h0m7.4 1.1h0m1.5 5.4h0m9.1-3.8h0m9.6 0.7h0m5.2 3.3h0m12.4-4.4h0m1.9-0.6h0m4-1.8h0m3.1 0.8h0m3.1 5.9h0m1.2 0.6h0m13.5-2.6h0m9 1.9h0m4.3-5.2h0m0.8 0.5h0m2.9-0.6h0m-123.2 6.8h0m0.7 0.4h0m0.4-0.3h0m0.7-0.1h0m0.3 0.5h0m0.7 1.1h0m0.4-0.1h0m0.1-0.2h0m0.2-0.3h0m0.7-0.6h0m0.9 1.3h0m0.2-1.4h0m0.9-0.4h0m0.5 2.8h0m0.2-1.5h0m0.5 1.2h0m0.4-2.5h0m0.7 2.9h0m0.1 0.6h0m0.4-2.5h0m0.1 2.9h0m0.4-1.6h0m0.5 1h0m0.1-0.4h0m0 0.7h0m0.5-1.9h0m0.3 1.4h0m0.3-2.9h0m0 3h0m0.1 0.6h0m0 0.6h0m0.3 0h0m0.3-4.2h0m0.2 1.5h0m0.1-1.1h0m0.4 2.7h0m0.2 1.3h0m0.1 0.5h0m0-4.5h0m0.4 4.9h0m0-5.4h0m0.2 1.8h0m0 1.9h0m0.3-2.3h0m0.5 4.1h0m0.2-2.9h0m0.1 2.3h0m0-4.6h0m0.1 4.9h0m0-4.8h0m0.6 3.4h0m0.1-2.7h0m0.3 4.3h0m0.2-3.7h0m0.4-0.8h0m0.3 5.2h0m0.2 0.3h0m0-5.2h0m0.2 5.3h0m0.1-1.2h0m0.1 1.3h0m0-4.3h0m0.2 3.5h0m0-0.6h0m0-3.5h0m0 2.7h0m0.2-0.7h0m0.4-0.7h0m0 1.7h0m0.3-2.1h0m0 4.9h0m1-5.1h0m0.1-0.1h0m0.1 1.2h0m0.2-1h0m0.2 4h0m0.1 1h0m0.2-0.6h0m0-2h0m0.3-1.7h0m0.6 3.7h0m0.7-3.3h0m0.2 0.8h0m0.1-1.4h0m0 2h0m0.1-1h0m0.2-0.7h0m0 0.5h0m0.1 1.6h0m0.2-2.6h0m0.2 2.1h0m0.3-1.1h0m0 3.1h0m0.4-2.8h0m0.4 0.4h0m0.2-0.2h0m0.3-0.1h0m0.4 1.4h0m0.2-0.6h0m0.8 0.1h0m0 2.4h0m0.2-2.5h0m2-1.9h0m0 2.7h0m0.5 1.3h0m0.2-3h0m1.4 1.7h0m1.1 1.4h0m0.3-0.3h0m0.7 0h0m0.2-0.1h0m0.9-4.4h0m3.3-1.2h0m3.7-0.7h0m5.4 1.1h0m3.1 4.1h0m1.9-5.5h0m0.2 2.5h0m2 3.5h0m2-1.1h0m0-1.5h0m5.9-0.9h0m0.6-0.5h0m2.4-2.1h0m5.2 4.9h0m23.1-2.4h0m8.7-0.8h0m5.4 3.4h0m3.4-3.2h0m5.1 3h0m4-1.9h0m7.6-2h0m-105.3 7.6h0m1.6-0.2h0m0.6-0.5h0m0.6 0.4h0m0.4 1.2h0m0.1-0.4h0m0.5 0h0m0.4-0.3h0m0.7 1.4h0m0.4-0.8h0m0.2-1.4h0m0 1.4h0m0.2 0.8h0m0.5-1.6h0m0.2-0.6h0m0.1 2.1h0m0.3-0.6h0m0.5-0.3h0m0.2 1.3h0m0.1-2h0m0.5 2.2h0m0.1 0.7h0m0.2-2.9h0m0.1 0.3h0m0.2 2.8h0m0.5 0.1h0m0-3.5h0m0.5 1.1h0m0.4 2.5h0m0.4-2.9h0m0.3 3.6h0m0.2-3.1h0m0.7 3.2h0m0.1-2.5h0m0.7-1.8h0m0.2-0.6h0m0.4 4.4h0m0.1 0.6h0m0-1.4h0m0.4 1.8h0m0.2-2.7h0m0.2 2.7h0m0.2-5.3h0m0 1.4h0m0.1-1h0m0.1 3.8h0m0.3-3.5h0m0-0.7h0m0.3 5.5h0m0.1-0.2h0m0.2-3.4h0m0.1 1.5h0m0.4 3.2h0m0.2 0.1h0m0.1-0.4h0m0.2-1.4h0m0.1-3.6h0m0.1 4.5h0m0 0.3h0m0.1 0.1h0m0.2-2.7h0m0.3-1h0m0.2 4.4h0m0.2-4.4h0m0.3 0.7h0m0.3 3.8h0m0.1-5h0m0.1 1.9h0m0.1 3.2h0m0 0.5h0m0.1-1.1h0m0.5-3.7h0m0 1.5h0m0.3-0.5h0m0.4-1.8h0m0 1.5h0m0.2 2.7h0m0.1 1.2h0m1.3 0.3h0m0.1-2.1h0m0.1-0.9h0m0.1 3h0m0.1-4.7h0m0 2.1h0m0.3 1.2h0m0.3-1.5h0m0.3-1.5h0m0.1 1.6h0m0.1 3h0m0.2-0.2h0m0-3.5h0m0.4 1.4h0m0.7 0.4h0m0.1-5.2h0m0.3 3.6h0m0.5-1.9h0m0.2 3.8h0m0.4-1.3h0m0.2 2h0m0.2-0.8h0m0 0.4h0m0.7 1.3h0m0.2-3h0m0.2 0.5h0m0.6 0.7h0m0.4-0.1h0m0.9 0.9h0m0.1-6.1h0m0.4 6.2h0m0.1-0.9h0m0.1 1.1h0m0.1-4.5h0m0.8 0.2h0m0 4.4h0m1.6-0.6h0m2-6.8h0m1.4 7.1h0m1.8-5h0m2.8 5h0m30.7-2h0m4.3 1.8h0m2.4 0.8h0m2.1-6.2h0m7.6 2.3h0m3.4-3.3h0m6.9 7.1h0m3.2-6.7h0m10.1 4.9h0m-89 3h0m1 0.7h0m0.5 0.3h0m0.2-0.1h0m1.4-0.3h0m0.5-0.4h0m0.4 0.4h0m0.3 0.9h0m0.6 0.4h0m0.7-0.6h0m0.6-0.7h0m0.1-0.3h0m0.6 2.6h0m0-0.3h0m0.5 0.6h0m1.2-1.8h0m0.1-1.2h0m0.3 3.8h0m0.4-0.4h0m0.1-1.4h0m0-2.4h0m1 4h0m0.3-2.9h0m0 2.5h0m1.1-2.7h0m0 3.8h0m0.1-0.2h0m0.3-1.2h0m0 0.9h0m0.1-3.7h0m0.1 3.5h0m0.2-4.5h0m0.6 3h0m0-2.5h0m0.5 5.3h0m0.1-0.5h0m0.1-3.3h0m0.4 1.1h0m0 3.4h0m0.5-0.4h0m0-3.4h0m0.8-0.6h0m0-1.2h0m0.5 3.8h0m0.2 1.1h0m0.3 0.3h0m0.1-2.9h0m0.1 3.5h0m0.1-3h0m0.5-1.7h0m0.3-1.7h0m0.2 4.1h0m0 3.3h0m0.2-1.3h0m0.3-2.8h0m0.1-1.7h0m0.2 5.5h0m0.5 0.2h0m0.1-4.4h0m0.1 3.3h0m0.1-2.2h0m0.4 3.1h0m0-3.8h0m0.1 1.6h0m0.7 1.4h0m0.2-2.6h0m0.4 0h0m0.2-2.9h0m0 3h0m0.3 0.2h0m0.1 2.7h0m0.3-2.6h0m0.6 0h0m0.5 0.3h0m0.1 1.7h0m1-1.2h0m0.5-0.2h0m0.2 1.2h0m0.5-0.1h0m0.1 0.4h0m0.9-1.9h0m0.5 1.6h0m0.7-0.5h0m0.1 0.3h0m0.5 0.3h0m0.1 0.6h0m0.1-0.4h0m2.2 0.5h0m0.5 0.1h0m7.3-6.3h0m1 5.8h0m1.4-5.6h0m1.2-0.7h0m20.4 4.9h0m5.4 2.5h0m4.1-1.5h0m5.4 0.4h0m-56.6 1.9h0m1.5 1.3h0m0.3-0.1h0m0.2-0.3h0m0.3-0.8h0m0.9 0h0m0.7 2.2h0m0.1-2.4h0m1.3 2.4h0m0.1-0.6h0m0.4 1.1h0m0.4-2h0m0.1 2.5h0m0.5-3.6h0m0.1 3.7h0m0.5-2.7h0m0.2-1.2h0m0.2 3h0m0.1-0.4h0m0.2 0.7h0m0.4 0.3h0m0.5-1.2h0m0-1.5h0m0.2 3.8h0m0.2-0.5h0m0.2-1.4h0m0.5 1.7h0m0.3-3.9h0m0.6 2.8h0m0.3 0.6h0m0.3-4.1h0m0.1 3.9h0m0.1 0.8h0m0-4.3h0m0.2 4h0m0-3.1h0m0.1 4.1h0m0-4.6h0m0.1 4.3h0m0-4.9h0m0.4 2.7h0m0.6-0.9h0m0.6-0.5h0m0.2 4.3h0m0.3-1.7h0m0.2-3h0m0.1 4.5h0m0 1.3h0m0.2 0.1h0m0.2-5.5h0m0.3 1h0m0-0.7h0m0.1-0.1h0m0.7 0.9h0m0.3 2.2h0m0 1.5h0m0.1-1.1h0m0.2-2.2h0m0 3.6h0m0.2-3.7h0m0.2 4.8h0m0-2.8h0m0.1 0.6h0m0 1.4h0m0.1 0.9h0m0.1-2.9h0m0-1.5h0m0.4 0.3h0m0.1-0.8h0m0.1 4.6h0m0.3-0.9h0m0.3 0.8h0m0.1-2.3h0m0-2.9h0m0.2 2.9h0m0.2-2.1h0m0.6 1.1h0m0.3 0.1h0m0 0.5h0m0.1-1.2h0m0.1 4.1h0m0.1-4.6h0m0.6 5h0m0.2-4h0m0.9 2.8h0m0-2h0m0.3 2.4h0m0-1.2h0m0.5-1.4h0m0.1-0.3h0m0.4 1.5h0m0.2 0.6h0m0.1-1.8h0m0.1 0.5h0m0.1-0.3h0m1.4 0.6h0m0.7 0.6h0m0.9-5.1h0m1 5.1h0m0 0.3h0m0.6 0.5h0m0.1 0h0m1.4 0.3h0m0.2-0.1h0m1.3 0.4h0m5.5-3.8h0m3.7-2.1h0m2.7 2.4h0m0.4-2.3h0m1.5-0.6h0m10.5 5.7h0m3.7-3.8h0m4.2 3.3h0m5-5.9h0m-49.1 8.5h0m0.2-0.6h0m1.4 0.6h0m0.1 0h0m0.1-0.6h0m1.3 1.6h0m0.2-0.8h0m0.3 0.8h0m0.6-1h0m0.5 0.5h0m0.1 0.4h0m0.5-1.2h0m0.5 0.5h0m0.1 0.5h0m0 1.4h0m0.3-0.8h0m0.6 0.4h0m0.1-2.1h0m0.3 2.5h0m0.3-0.7h0m0.1 1.6h0m0.1-3h0m1.8 2.8h0m0.1-0.4h0m0-2.5h0m0.4 1.8h0m0.1-1.3h0m0.3 3.1h0m0 0.5h0m0.4-4.7h0m0.7 4.3h0m0.1-3.6h0m0.3 3.2h0m0.4 1.8h0m0 0.1h0m0.4-1.2h0m0-3h0m0.6-1.5h0m0.2 5.3h0m0.2-1.5h0m0-1.5h0m0.1-1.6h0m0.8 3.4h0m0 1.7h0m0.7-3.2h0m0.2-1.7h0m0 5.8h0m0.1-1.5h0m0.3-4.3h0m0.1 5.8h0m0.2-0.5h0m0-5.2h0m0.1 5.1h0m0 0.6h0m0.7-2.5h0m0-0.5h0m0 1.6h0m0.3 1.5h0m0.1-1.8h0m0.1-3h0m0.3 4.7h0m0.4-2.4h0m0.2-2.7h0m0.1 4.8h0m0.2-0.1h0m0.1-4.3h0m0.2 0.1h0m0.6 4.1h0m0.2 0.8h0m0-5h0m0.2 2h0m0.1-1.5h0m0.5 2.6h0m0.3-2.1h0m0-0.1h0m0.2 1.7h0m0.1 0.5h0m0.5-1.6h0m0.2-0.6h0m0.2 1.1h0m0.2 2.6h0m0.2-2.7h0m0.5 2.7h0m0.4 1.1h0m0.5-1.8h0m0.3-0.4h0m0.4-1.2h0m0.1 1h0m0.4-0.8h0m0.1 3.3h0m0.7-2.3h0m0.1 0h0m0.4-0.4h0m0 0.9h0m0-1h0m0.7 2.7h0m0.6-1.8h0m0.3 0.9h0m1-0.1h0m0.1-0.2h0m0.1-0.1h0m0.8 0.7h0m0.2-0.8h0m1.2 0.6h0m0.5 0.1h0m0.7 0.4h0m0.7-1.2h0m4.7-5.4h0m6.4 3.1h0m-24.1 4.4h0m0.2 0.4h0m0.2-0.2h0m0.1-0.2h0m1.7 0.2h0m0.1-0.2h0m0.7 0.4h0m0.5 0.7h0m0.1-0.5h0m0-0.6h0m0.1 0.8h0m0.1 0.2h0m1.2-0.9h0m0.7 1.4h0m0.1-0.8h0m0.3 1.3h0m0.1 0.4h0m1.3-0.1h0m0.2-0.8h0m0.8 1.4h0m0.4-2.6h0m0.2 1.5h0m0.2 1.6h0m0.8 0h0m0-1.6h0m1.1-1.9h0m0.1 4.5h0m0-1.6h0m0.1 1.6h0m0.6-2.1h0m1 1.2h0m0.3 0.9h0m0.1 0.7h0m0.2-3.1h0m0.1 3.1h0m0.5-4.2h0m0.2-0.5h0m0.4 4.3h0m0.1-0.8h0m0-1.7h0m0.2 2.5h0m0.1 0.6h0m0-4.8h0m0.2 0.1h0m0.5 0.4h0m0.8 2.2h0m0-0.4h0m0.3-2.3h0m0.2 3.7h0m0.1 1.8h0m0.2-0.6h0m0.1 0.8h0m0.2-2h0m0.2-2.6h0m0.5 4.4h0m0.8-0.3h0m0.1-3.9h0m0.2 0.7h0m0.1 4.8h0m0-1h0m0-3.9h0m0.2 1.8h0m0.2 3.2h0m0.1-4.5h0m1.4 3.4h0m0 1.1h0m0.1-2.2h0m0.2 0.9h0m0-3.2h0m0.1-1.5h0m0.2 4.2h0m0.2-3h0m1.2 1h0m0.1 0.6h0m0.3-0.3h0m0.6 0.3h0m0 0.8h0m0.1 2.3h0m0.1-3.3h0m0 0.4h0m0.6 1.4h0m0.5-1.5h0m0.2 1.5h0m0.2 0.8h0m0.2 0h0m0.5-1.6h0m0.8-0.4h0m0.2 1.2h0m0.8 0.1h0m0 1.2h0m0.9-0.5h0m0.2-0.5h0m-8.4 2h0m0.4-0.3h0m0.9-0.3h0m1.2 0h0m1.4 0.3h0m2 0.5h0m1.1-0.1h0m0.8 0.5h0m0.4 0.2h0m0.3-0.3h0"/></g>
<rect x="128.00" y="13.00" width="429.00" height="449.50" class="ax"/>
<rect x="687.60" y="13.00" width="428.80" height="449.50" class="ax"/>
<rect x="128.00" y="552.00" width="429.00" height="449.50" class="ax"/>
<rect x="687.60" y="552.00" width="428.80" height="449.50" class="ax"/>
<line x1="122.00" y1="462.53" x2="128.00" y2="462.53" class="tk"/>
<text x="113.80" y="468.83" text-anchor="end" class="tl" textLength="68.8" lengthAdjust="spacingAndGlyphs">−30000</text>
<line x1="122.00" y1="412.59" x2="128.00" y2="412.59" class="tk"/>
<text x="113.80" y="418.89" text-anchor="end" class="tl" textLength="68.8" lengthAdjust="spacingAndGlyphs">−20000</text>
<line x1="122.00" y1="362.64" x2="128.00" y2="362.64" class="tk"/>
<text x="113.80" y="368.94" text-anchor="end" class="tl" textLength="64.4" lengthAdjust="spacingAndGlyphs">−10000</text>
<line x1="122.00" y1="312.70" x2="128.00" y2="312.70" class="tk"/>
<text x="113.80" y="319.00" text-anchor="end" class="tl" textLength="11.2" lengthAdjust="spacingAndGlyphs">0</text>
<line x1="122.00" y1="262.76" x2="128.00" y2="262.76" class="tk"/>
<text x="113.80" y="269.06" text-anchor="end" class="tl" textLength="51.6" lengthAdjust="spacingAndGlyphs">10000</text>
<line x1="122.00" y1="212.81" x2="128.00" y2="212.81" class="tk"/>
<text x="113.80" y="219.11" text-anchor="end" class="tl" textLength="56.0" lengthAdjust="spacingAndGlyphs">20000</text>
<line x1="122.00" y1="162.87" x2="128.00" y2="162.87" class="tk"/>
<text x="113.80" y="169.17" text-anchor="end" class="tl" textLength="56.0" lengthAdjust="spacingAndGlyphs">30000</text>
<line x1="122.00" y1="112.92" x2="128.00" y2="112.92" class="tk"/>
<text x="113.80" y="119.22" text-anchor="end" class="tl" textLength="56.0" lengthAdjust="spacingAndGlyphs">40000</text>
<line x1="122.00" y1="62.98" x2="128.00" y2="62.98" class="tk"/>
<text x="113.80" y="69.28" text-anchor="end" class="tl" textLength="56.0" lengthAdjust="spacingAndGlyphs">50000</text>
<line x1="122.00" y1="13.04" x2="128.00" y2="13.04" class="tk"/>
<text x="113.80" y="19.34" text-anchor="end" class="tl" textLength="56.0" lengthAdjust="spacingAndGlyphs">60000</text>
<line x1="146.70" y1="462.50" x2="146.70" y2="469.30" class="tk"/>
<text x="146.70" y="489.00" text-anchor="middle" class="tl" textLength="11.2" lengthAdjust="spacingAndGlyphs">0</text>
<line x1="264.03" y1="462.50" x2="264.03" y2="469.30" class="tk"/>
<text x="264.03" y="489.00" text-anchor="middle" class="tl" textLength="56.0" lengthAdjust="spacingAndGlyphs">20000</text>
<line x1="381.37" y1="462.50" x2="381.37" y2="469.30" class="tk"/>
<text x="381.37" y="489.00" text-anchor="middle" class="tl" textLength="56.0" lengthAdjust="spacingAndGlyphs">40000</text>
<line x1="498.70" y1="462.50" x2="498.70" y2="469.30" class="tk"/>
<text x="498.70" y="489.00" text-anchor="middle" class="tl" textLength="56.0" lengthAdjust="spacingAndGlyphs">60000</text>
<text x="342.50" y="520.80" text-anchor="middle" class="al" textLength="124" lengthAdjust="spacingAndGlyphs">balance (s)</text>
<text transform="translate(29.20,238.45) rotate(-90)" text-anchor="middle" class="al" textLength="232" lengthAdjust="spacingAndGlyphs">balance change (ds)</text>
<line x1="681.60" y1="462.53" x2="687.60" y2="462.53" class="tk"/>
<text x="672.80" y="468.83" text-anchor="end" class="tl" textLength="53.2" lengthAdjust="spacingAndGlyphs">−1000</text>
<line x1="681.60" y1="387.62" x2="687.60" y2="387.62" class="tk"/>
<text x="672.80" y="393.92" text-anchor="end" class="tl" textLength="46.4" lengthAdjust="spacingAndGlyphs">−500</text>
<line x1="681.60" y1="312.70" x2="687.60" y2="312.70" class="tk"/>
<text x="672.80" y="319.00" text-anchor="end" class="tl" textLength="11.2" lengthAdjust="spacingAndGlyphs">0</text>
<line x1="681.60" y1="237.78" x2="687.60" y2="237.78" class="tk"/>
<text x="672.80" y="244.09" text-anchor="end" class="tl" textLength="33.6" lengthAdjust="spacingAndGlyphs">500</text>
<line x1="681.60" y1="162.87" x2="687.60" y2="162.87" class="tk"/>
<text x="672.80" y="169.17" text-anchor="end" class="tl" textLength="40.4" lengthAdjust="spacingAndGlyphs">1000</text>
<line x1="681.60" y1="87.96" x2="687.60" y2="87.96" class="tk"/>
<text x="672.80" y="94.26" text-anchor="end" class="tl" textLength="40.4" lengthAdjust="spacingAndGlyphs">1500</text>
<line x1="681.60" y1="13.04" x2="687.60" y2="13.04" class="tk"/>
<text x="672.80" y="19.34" text-anchor="end" class="tl" textLength="44.8" lengthAdjust="spacingAndGlyphs">2000</text>
<line x1="706.50" y1="462.50" x2="706.50" y2="469.30" class="tk"/>
<text x="706.50" y="489.00" text-anchor="middle" class="tl" textLength="11.2" lengthAdjust="spacingAndGlyphs">0</text>
<line x1="784.32" y1="462.50" x2="784.32" y2="469.30" class="tk"/>
<text x="784.32" y="489.00" text-anchor="middle" class="tl" textLength="33.6" lengthAdjust="spacingAndGlyphs">200</text>
<line x1="862.14" y1="462.50" x2="862.14" y2="469.30" class="tk"/>
<text x="862.14" y="489.00" text-anchor="middle" class="tl" textLength="33.6" lengthAdjust="spacingAndGlyphs">400</text>
<line x1="939.96" y1="462.50" x2="939.96" y2="469.30" class="tk"/>
<text x="939.96" y="489.00" text-anchor="middle" class="tl" textLength="33.6" lengthAdjust="spacingAndGlyphs">600</text>
<line x1="1017.78" y1="462.50" x2="1017.78" y2="469.30" class="tk"/>
<text x="1017.78" y="489.00" text-anchor="middle" class="tl" textLength="33.6" lengthAdjust="spacingAndGlyphs">800</text>
<line x1="1095.60" y1="462.50" x2="1095.60" y2="469.30" class="tk"/>
<text x="1095.60" y="489.00" text-anchor="middle" class="tl" textLength="40.4" lengthAdjust="spacingAndGlyphs">1000</text>
<text x="902.00" y="520.80" text-anchor="middle" class="al" textLength="124" lengthAdjust="spacingAndGlyphs">balance (s)</text>
<text transform="translate(601.80,238.45) rotate(-90)" text-anchor="middle" class="al" textLength="232" lengthAdjust="spacingAndGlyphs">balance change (ds)</text>
<line x1="122.00" y1="1001.50" x2="128.00" y2="1001.50" class="tk"/>
<text x="113.80" y="1007.80" text-anchor="end" class="tl" textLength="42.0" lengthAdjust="spacingAndGlyphs">−100</text>
<line x1="122.00" y1="926.58" x2="128.00" y2="926.58" class="tk"/>
<text x="113.80" y="932.88" text-anchor="end" class="tl" textLength="35.2" lengthAdjust="spacingAndGlyphs">−50</text>
<line x1="122.00" y1="851.67" x2="128.00" y2="851.67" class="tk"/>
<text x="113.80" y="857.97" text-anchor="end" class="tl" textLength="11.2" lengthAdjust="spacingAndGlyphs">0</text>
<line x1="122.00" y1="776.75" x2="128.00" y2="776.75" class="tk"/>
<text x="113.80" y="783.05" text-anchor="end" class="tl" textLength="22.4" lengthAdjust="spacingAndGlyphs">50</text>
<line x1="122.00" y1="701.84" x2="128.00" y2="701.84" class="tk"/>
<text x="113.80" y="708.14" text-anchor="end" class="tl" textLength="29.2" lengthAdjust="spacingAndGlyphs">100</text>
<line x1="122.00" y1="626.92" x2="128.00" y2="626.92" class="tk"/>
<text x="113.80" y="633.22" text-anchor="end" class="tl" textLength="29.2" lengthAdjust="spacingAndGlyphs">150</text>
<line x1="122.00" y1="552.01" x2="128.00" y2="552.01" class="tk"/>
<text x="113.80" y="558.31" text-anchor="end" class="tl" textLength="33.6" lengthAdjust="spacingAndGlyphs">200</text>
<line x1="146.50" y1="1001.50" x2="146.50" y2="1008.30" class="tk"/>
<text x="146.50" y="1028.00" text-anchor="middle" class="tl" textLength="11.2" lengthAdjust="spacingAndGlyphs">0</text>
<line x1="224.72" y1="1001.50" x2="224.72" y2="1008.30" class="tk"/>
<text x="224.72" y="1028.00" text-anchor="middle" class="tl" textLength="22.4" lengthAdjust="spacingAndGlyphs">20</text>
<line x1="302.94" y1="1001.50" x2="302.94" y2="1008.30" class="tk"/>
<text x="302.94" y="1028.00" text-anchor="middle" class="tl" textLength="22.4" lengthAdjust="spacingAndGlyphs">40</text>
<line x1="381.16" y1="1001.50" x2="381.16" y2="1008.30" class="tk"/>
<text x="381.16" y="1028.00" text-anchor="middle" class="tl" textLength="22.4" lengthAdjust="spacingAndGlyphs">60</text>
<line x1="459.38" y1="1001.50" x2="459.38" y2="1008.30" class="tk"/>
<text x="459.38" y="1028.00" text-anchor="middle" class="tl" textLength="22.4" lengthAdjust="spacingAndGlyphs">80</text>
<line x1="537.60" y1="1001.50" x2="537.60" y2="1008.30" class="tk"/>
<text x="537.60" y="1028.00" text-anchor="middle" class="tl" textLength="29.2" lengthAdjust="spacingAndGlyphs">100</text>
<text x="342.50" y="1059.80" text-anchor="middle" class="al" textLength="124" lengthAdjust="spacingAndGlyphs">balance (s)</text>
<text transform="translate(55.00,777.45) rotate(-90)" text-anchor="middle" class="al" textLength="232" lengthAdjust="spacingAndGlyphs">balance change (ds)</text>
<line x1="681.60" y1="971.55" x2="687.60" y2="971.55" class="tk"/>
<text x="672.80" y="977.85" text-anchor="end" class="tl" textLength="35.2" lengthAdjust="spacingAndGlyphs">−40</text>
<line x1="681.60" y1="911.61" x2="687.60" y2="911.61" class="tk"/>
<text x="672.80" y="917.91" text-anchor="end" class="tl" textLength="35.2" lengthAdjust="spacingAndGlyphs">−20</text>
<line x1="681.60" y1="851.67" x2="687.60" y2="851.67" class="tk"/>
<text x="672.80" y="857.97" text-anchor="end" class="tl" textLength="11.2" lengthAdjust="spacingAndGlyphs">0</text>
<line x1="681.60" y1="791.73" x2="687.60" y2="791.73" class="tk"/>
<text x="672.80" y="798.03" text-anchor="end" class="tl" textLength="22.4" lengthAdjust="spacingAndGlyphs">20</text>
<line x1="681.60" y1="731.79" x2="687.60" y2="731.79" class="tk"/>
<text x="672.80" y="738.09" text-anchor="end" class="tl" textLength="22.4" lengthAdjust="spacingAndGlyphs">40</text>
<line x1="681.60" y1="671.85" x2="687.60" y2="671.85" class="tk"/>
<text x="672.80" y="678.15" text-anchor="end" class="tl" textLength="22.4" lengthAdjust="spacingAndGlyphs">60</text>
<line x1="681.60" y1="611.91" x2="687.60" y2="611.91" class="tk"/>
<text x="672.80" y="618.21" text-anchor="end" class="tl" textLength="22.4" lengthAdjust="spacingAndGlyphs">80</text>
<line x1="681.60" y1="551.97" x2="687.60" y2="551.97" class="tk"/>
<text x="672.80" y="558.27" text-anchor="end" class="tl" textLength="29.2" lengthAdjust="spacingAndGlyphs">100</text>
<line x1="706.50" y1="1001.50" x2="706.50" y2="1008.30" class="tk"/>
<text x="706.50" y="1028.00" text-anchor="middle" class="tl" textLength="11.2" lengthAdjust="spacingAndGlyphs">0</text>
<line x1="784.50" y1="1001.50" x2="784.50" y2="1008.30" class="tk"/>
<text x="784.50" y="1028.00" text-anchor="middle" class="tl" textLength="18.0" lengthAdjust="spacingAndGlyphs">10</text>
<line x1="862.50" y1="1001.50" x2="862.50" y2="1008.30" class="tk"/>
<text x="862.50" y="1028.00" text-anchor="middle" class="tl" textLength="22.4" lengthAdjust="spacingAndGlyphs">20</text>
<line x1="940.50" y1="1001.50" x2="940.50" y2="1008.30" class="tk"/>
<text x="940.50" y="1028.00" text-anchor="middle" class="tl" textLength="22.4" lengthAdjust="spacingAndGlyphs">30</text>
<line x1="1018.50" y1="1001.50" x2="1018.50" y2="1008.30" class="tk"/>
<text x="1018.50" y="1028.00" text-anchor="middle" class="tl" textLength="22.4" lengthAdjust="spacingAndGlyphs">40</text>
<line x1="1096.50" y1="1001.50" x2="1096.50" y2="1008.30" class="tk"/>
<text x="1096.50" y="1028.00" text-anchor="middle" class="tl" textLength="22.4" lengthAdjust="spacingAndGlyphs">50</text>
<text x="902.00" y="1059.80" text-anchor="middle" class="al" textLength="124" lengthAdjust="spacingAndGlyphs">balance (s)</text>
<text transform="translate(620.60,777.45) rotate(-90)" text-anchor="middle" class="al" textLength="232" lengthAdjust="spacingAndGlyphs">balance change (ds)</text>
<text x="249.2" y="1088.2" class="ti" textLength="148.0" lengthAdjust="spacingAndGlyphs">Balance(s)</text>
<text x="406.3" y="1088.2" class="ti" textLength="31.1" lengthAdjust="spacingAndGlyphs">vs</text>
<text x="446.5" y="1088.2" class="ti" textLength="102.9" lengthAdjust="spacingAndGlyphs">Balance</text>
<text x="557.4" y="1088.2" class="ti" textLength="180.3" lengthAdjust="spacingAndGlyphs">Change(ds)</text>
<text x="746.8" y="1088.2" class="ti" textLength="28.2" lengthAdjust="spacingAndGlyphs">of</text>
<text x="784.1" y="1088.2" class="ti" textLength="81.6" lengthAdjust="spacingAndGlyphs">Group</text>
<text x="873.0" y="1088.2" class="ti" textLength="30.0" lengthAdjust="spacingAndGlyphs">A</text>
<text x="912.1" y="1088.2" class="ti" textLength="81.6" lengthAdjust="spacingAndGlyphs">Users</text>
</svg>
</body></html>
